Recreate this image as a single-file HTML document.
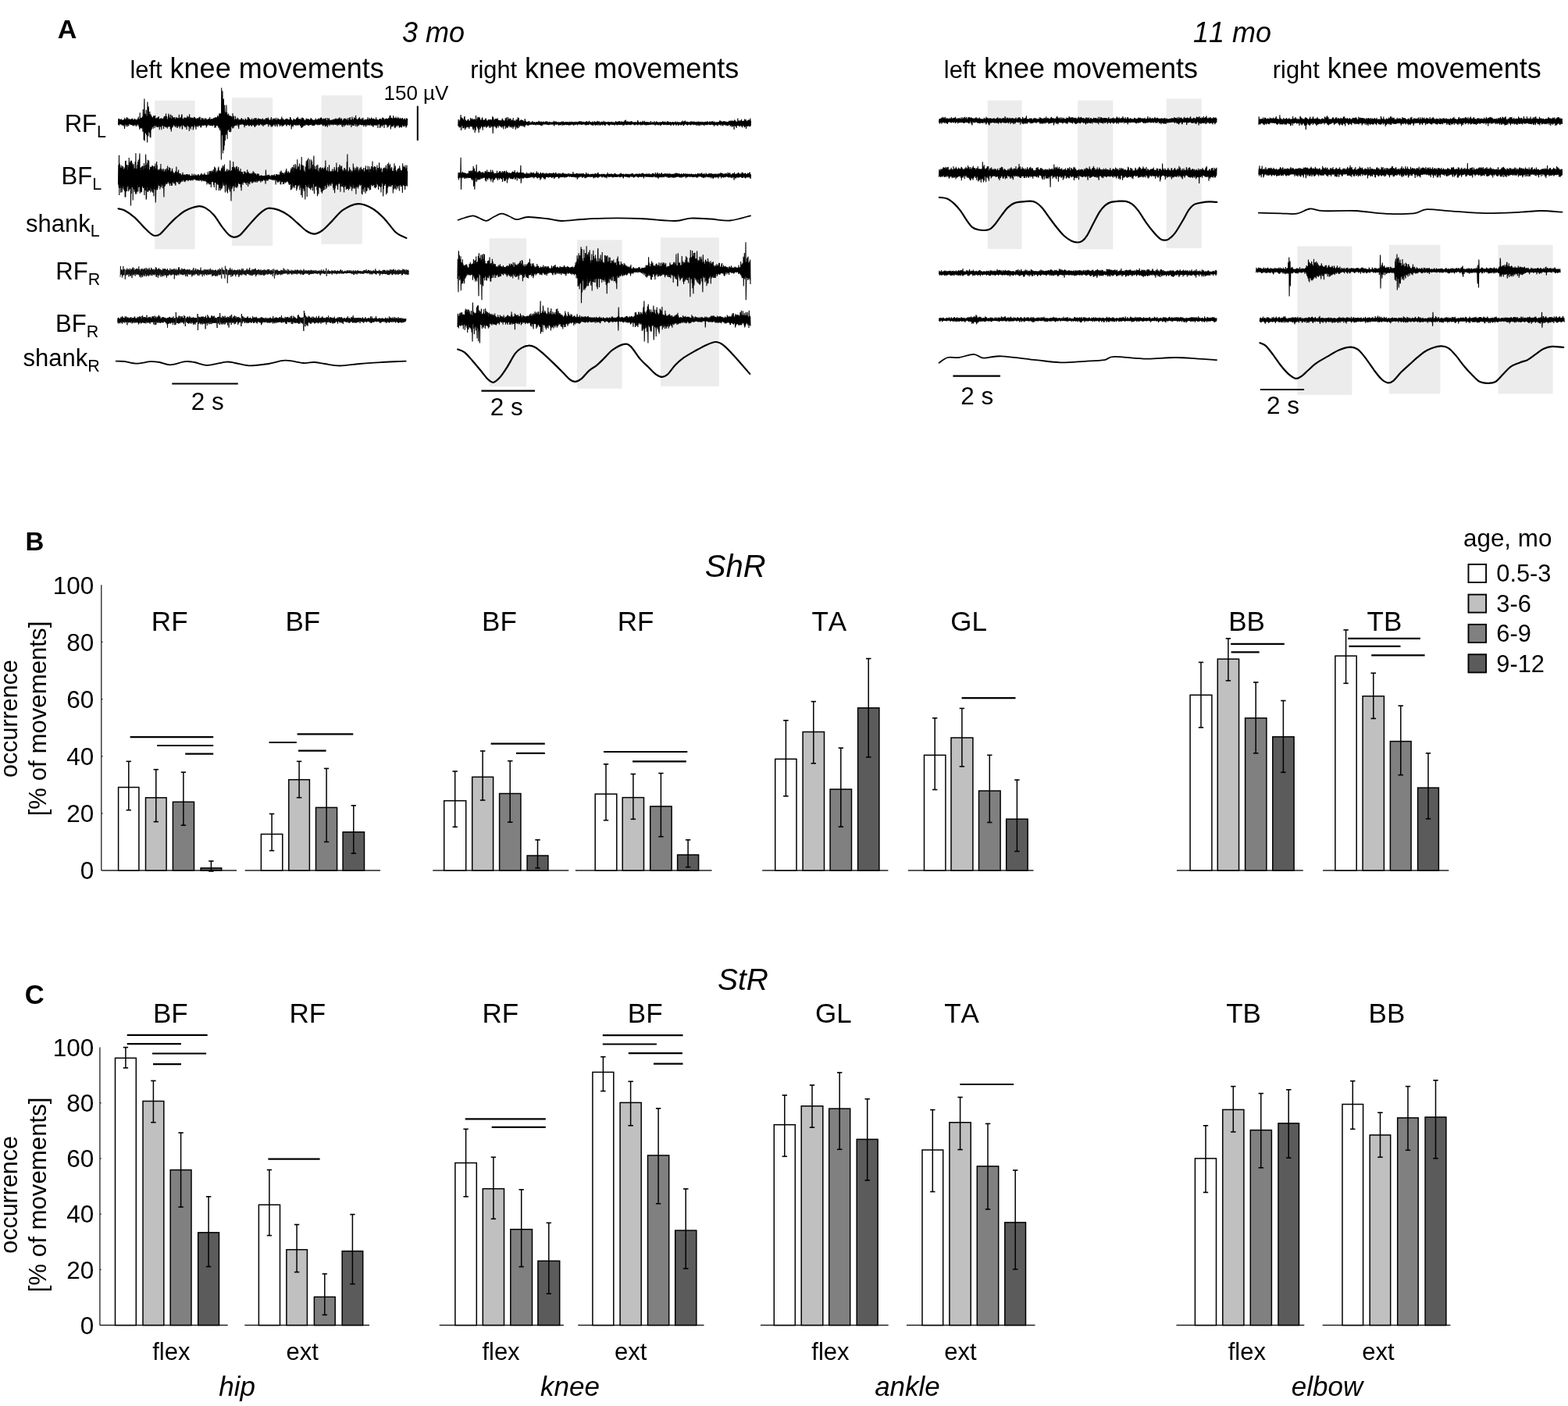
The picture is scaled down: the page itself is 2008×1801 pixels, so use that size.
<!DOCTYPE html>
<html><head><meta charset="utf-8"><style>
html,body{margin:0;padding:0;background:#fff;}
svg{display:block;font-kerning:none;}
text{font-kerning:none;}
</style></head><body>
<svg width="2008" height="1801" viewBox="0 0 2008 1801" font-family='"Liberation Sans", Arial, sans-serif' fill="#000">
<rect width="2008" height="1801" fill="#fff"/>
<g id="panelA">
<rect x="198.2" y="128.8" width="51.5" height="190.4" fill="#ececec"/>
<rect x="296.9" y="125.1" width="52.3" height="189.7" fill="#ececec"/>
<rect x="411.5" y="122.2" width="52.3" height="190.5" fill="#ececec"/>
<rect x="626.6" y="305.3" width="47.5" height="189.9" fill="#ececec"/>
<rect x="739.0" y="307.4" width="57.6" height="190.3" fill="#ececec"/>
<rect x="846.0" y="304.3" width="74.8" height="190.5" fill="#ececec"/>
<rect x="1264.7" y="128.6" width="43.9" height="190.3" fill="#ececec"/>
<rect x="1380.2" y="128.6" width="45.1" height="190.7" fill="#ececec"/>
<rect x="1493.7" y="126.5" width="45.0" height="191.3" fill="#ececec"/>
<rect x="1661.4" y="315.4" width="70.1" height="190.5" fill="#ececec"/>
<rect x="1778.8" y="313.7" width="65.6" height="190.7" fill="#ececec"/>
<rect x="1918.5" y="313.7" width="70.1" height="190.7" fill="#ececec"/>
</g>
<path d="M151.5 160.1l.3 -7.8 .4 6.6 .3 -7.1 .3 8.9 .4 -7.4 .3 5.7 .3 -5.9 .4 5.6 .3 -5.6 .3 6.3 .4 -7.1 .3 7.4 .3 -6.2 .4 7 .3 -7 .3 5.3 .4 -5 .3 6.9 .3 -7.1 .4 5.5 .3 -5.9 .3 8.6 .4 -9.3 .3 12.5 .3 -14.2 .4 9 .3 -7.1 .3 6.8 .4 -5.9 .3 8.7 .3 -10.5 .4 7.8 .3 -9.5 .3 10.1 .4 -7.1 .3 9.2 .4 -11.2 .3 7.8 .3 -5.4 .4 7.6 .3 -8.4 .3 6.3 .4 -6.9 .3 6.7 .3 -4.6 .4 5.2 .3 -6 .3 6.7 .4 -7.6 .3 6.8 .3 -7.2 .4 8.1 .3 -6.9 .3 7.3 .4 -9.1 .3 9.3 .3 -6.7 .4 7.3 .3 -8.2 .3 5.9 .4 -5.8 .3 7.4 .3 -8.8 .4 7.8 .3 -5.9 .3 6.2 .4 -7.2 .3 9.2 .3 -8.6 .4 7.8 .3 -7.3 .3 5.6 .4 -6.8 .3 6.1 .3 -7 .4 9 .3 -11.3 .3 9.4 .4 -6.3 .3 10.4 .3 -10.5 .4 13.6 .3 -21.8 .3 20.1 .4 -13.5 .3 12.9 .3 -11.9 .4 12.2 .3 -13.7 .3 14.4 .4 -13.8 .3 12.3 .3 -13.8 .4 19.3 .3 -28.7 .3 24.4 .4 -15.5 .3 30.3 .3 -33 .4 -19.8 .3 54 .3 -17.7 .4 -17.1 .3 25.2 .4 -24 .3 22.8 .3 -28.9 .4 32.2 .3 -24.6 .3 19.4 .4 14.7 .3 -52 .3 13.2 .4 19.8 .3 11 .3 -38 .4 12.1 .3 20.4 .3 -23 .4 24.4 .3 -27.3 .3 32.5 .4 -28.6 .3 29.4 .3 -29.8 .4 20.2 .3 -18.2 .3 16.8 .4 -15.8 .3 13.5 .3 -13 .4 12.8 .3 -12 .3 14 .4 -16.6 .3 13.3 .3 -13.1 .4 12.1 .3 -12.1 .3 15.4 .4 -16.2 .3 12.6 .3 -8.8 .4 10.3 .3 -10.1 .3 8.9 .4 -9.4 .3 11.8 .3 -12.6 .4 12.3 .3 -11.4 .3 11.8 .4 -13.2 .3 11 .3 -11.9 .4 13.6 .3 -10.1 .3 13.8 .4 -13.7 .3 9.3 .3 -10.5 .4 11.2 .3 -10.9 .3 11 .4 -11.5 .3 15 .3 -13.6 .4 8.7 .3 -9.2 .3 8.7 .4 -9.1 .3 9.6 .3 -9.4 .4 13.1 .3 -15.2 .4 12.3 .3 -13.1 .3 12.9 .4 -13.5 .3 13.9 .3 -10.9 .4 11.8 .3 -17.8 .3 17.6 .4 -14.1 .3 14.2 .3 -10.1 .4 11.8 .3 -12.4 .3 9.1 .4 -11.9 .3 12.9 .3 -16.9 .4 16.9 .3 -15.2 .3 14.6 .4 -9.7 .3 9.5 .3 -11.3 .4 15.1 .3 -18.8 .3 1.8 .4 20 .3 -6.7 .3 -9.7 .4 11.7 .3 -15.8 .3 15.1 .4 -11.8 .3 10.6 .3 -11.6 .4 9.7 .3 -8.6 .3 8.9 .4 -10.3 .3 11.7 .3 -10 .4 9.6 .3 -8 .3 10 .4 -13.3 .3 10.8 .3 -8.9 .4 9.6 .3 -11 .3 13.6 .4 -12.2 .3 11.4 .3 -12.2 .4 10.7 .3 -9.3 .3 8.8 .4 -14.5 .3 14.9 .3 -9.6 .4 12.3 .3 -13.1 .3 10.7 .4 -12.3 .3 12.3 .3 -9.8 .4 8.2 .3 -12.7 .4 -1.2 .3 19 .3 -.7 .4 -13.4 .3 9 .3 -8 .4 7.6 .3 -7.3 .3 8.6 .4 -11 .3 11.8 .3 -11.1 .4 12.2 .3 -12.5 .3 10.3 .4 -10 .3 11.8 .3 -11.1 .4 14.2 .3 -15.7 .3 10.3 .4 -12.1 .3 12.6 .3 -8.1 .4 9.4 .3 -12.9 .3 12.3 .4 -9.3 .3 15.6 .3 -21.8 .4 15.6 .3 -11.3 .3 13 .4 -10.7 .3 13 .3 -15.6 .4 12.3 .3 -11 .3 9.4 .4 -9.8 .3 10.8 .3 -9.5 .4 -1.9 .3 16 .3 -1.7 .4 -12.7 .3 11.1 .3 -13.4 .4 10.4 .3 -10.1 .3 10.7 .4 -8.4 .3 10.3 .3 -11.4 .4 14.5 .3 -13.6 .3 10 .4 -9.1 .3 8.4 .3 -10.4 .4 9 .3 -8.4 .3 11.1 .4 -9 .3 6.8 .3 -10 .4 10.7 .3 -11 .4 10.9 .3 -11.8 .3 11 .4 -7 .3 10.2 .3 -9.7 .4 9.2 .3 -12.3 .3 9.3 .4 -7.9 .3 8.9 .3 -9.2 .4 7.7 .3 -8.5 .3 10 .4 -6.7 .3 6 .3 -7.9 .4 7.9 .3 -6.6 .3 6.6 .4 -9.1 .3 9.5 .3 -6.7 .4 6.1 .3 -8.7 .3 11.9 .4 -10.1 .3 8.1 .3 -8.5 .4 8.2 .3 -7.7 .3 6.3 .4 -7.1 .3 7 .3 -7.5 .4 8.7 .3 -8.7 .3 7.5 .4 -9.6 .3 10.9 .3 -7.8 .4 7.6 .3 -7.9 .3 8.2 .4 -9 .3 8.9 .3 -7.8 .4 7.8 .3 -8.9 .3 9.6 .4 -7.9 .3 6 .3 -8.3 .4 8.7 .3 -9.1 .3 9.6 .4 -8.3 .3 11.7 .3 -13.7 .4 10.1 .3 -9.8 .3 12.7 .4 -13 .3 10.4 .3 -9.5 .4 9.8 .3 -11.1 .3 10.6 .4 -12.5 .3 13.8 .4 -12.5 .3 14.3 .3 -12.5 .4 11.2 .3 -16.9 .3 19.5 .4 -18.4 .3 20.7 .3 -22.4 .4 19.4 .3 -18.1 .3 18.9 .4 39.5 .3 -92 .3 33.8 .4 27 .3 -28.6 .3 -28.2 .4 80 .3 -26.9 .3 -38.5 .4 -4.6 .3 66 .3 -19.5 .4 13.5 .3 -52 .3 7.4 .4 38.1 .3 -36.4 .3 27.4 .4 -25.5 .3 27.3 .3 -38.2 .4 36.4 .3 -27.1 .3 34.2 .4 -31.3 .3 20.5 .3 -19.5 .4 18.6 .3 -20.9 .3 19.8 .4 -17.1 .3 20.8 .3 -20.8 .4 17.1 .3 -17.4 .3 21.5 .4 -20.6 .3 19.6 .3 -18.6 .4 12.6 .3 -13.4 .3 13.1 .4 -10.2 .3 12.6 .3 -19.5 .4 16.5 .3 -11.3 .3 14.1 .4 -15.8 .3 13.8 .3 -9 .4 7.9 .3 -8.3 .3 8 .4 -12.2 .3 12.2 .4 -7.8 .3 5.8 .3 -6.6 .4 8.8 .3 -7.5 .3 6.1 .4 -8.9 .3 8 .3 -7.3 .4 10.7 .3 -8 .3 10.7 .4 -12.3 .3 7.8 .3 -6.7 .4 5.5 .3 -5.9 .3 6.2 .4 -6.3 .3 6.7 .3 -7.8 .4 6.9 .3 -7.9 .3 8.4 .4 -6.5 .3 6.2 .3 -5.7 .4 6 .3 -7.3 .3 7.6 .4 -6.4 .3 6.8 .3 -6.1 .4 9.2 .3 -9.2 .3 6.8 .4 -9.1 .3 7.6 .3 -7.3 .4 8.9 .3 -7.3 .3 7.2 .4 -7.4 .3 5.5 .3 -5.8 .4 7 .3 -10.2 .3 9.4 .4 -5.2 .3 7.1 .3 -10.9 .4 11.1 .3 -9.5 .3 9.1 .4 -8.2 .3 7.1 .3 -7.1 .4 6.7 .3 -5.2 .3 6.2 .4 -7.5 .3 9 .3 -10.5 .4 8.6 .3 -6.5 .3 6.1 .4 -6.1 .3 6.6 .3 -8.1 .4 8.3 .3 -7 .4 8.5 .3 -10.9 .3 11.9 .4 -10.3 .3 5.5 .3 -6.7 .4 10 .3 -10.6 .3 9.7 .4 -6.8 .3 6.1 .3 -6.7 .4 5.8 .3 -6.7 .3 7.3 .4 -8.2 .3 9.5 .3 -8.1 .4 5.9 .3 -6.6 .3 8.5 .4 -8 .3 6.3 .3 -6.6 .4 7 .3 -6.6 .3 5.8 .4 -5.8 .3 7.8 .3 -6.9 .4 6.9 .3 -9.1 .3 8.7 .4 -7.8 .3 9.7 .3 -8.1 .4 4.3 .3 -4.9 .3 6.9 .4 -7 .3 7.1 .3 -7.9 .4 7.3 .3 -5.4 .3 4.9 .4 -8.2 .3 7.4 .3 -6.9 .4 7.8 .3 -7.8 .3 7.8 .4 -6.4 .3 5.7 .3 -8.1 .4 11.7 .3 -9.6 .3 6.2 .4 -4.9 .3 5.7 .3 -6.1 .4 6.8 .3 -6.6 .3 6.5 .4 -7.8 .3 10.1 .3 -12.4 .4 10.4 .3 -6.8 .4 8.8 .3 -8.9 .3 5.5 .4 -7.3 .3 9.1 .3 -7.4 .4 6.2 .3 -7.6 .3 7.4 .4 -7.9 .3 8.9 .3 -7.7 .4 9.4 .3 -8.6 .3 5.5 .4 -8.4 .3 8.6 .3 -5.5 .4 7.2 .3 -7.6 .3 9.1 .4 -10.9 .3 6.7 .3 -6.4 .4 7 .3 -6.3 .3 6.9 .4 -6.9 .3 7.1 .3 -6.2 .4 8.5 .3 -8.9 .3 6.4 .4 -7.1 .3 8 .3 -6.8 .4 5.9 .3 -10 .3 12.6 .4 -7.9 .3 5.7 .3 -8.5 .4 10.1 .3 -8 .3 7.1 .4 -7.7 .3 7.3 .3 -6.6 .4 5.9 .3 -5.7 .3 5.9 .4 -6.7 .3 5.5 .3 -6.4 .4 8.3 .3 -8.5 .3 9.8 .4 -9.9 .3 8.1 .3 -7.7 .4 7.1 .3 -6 .3 6.6 .4 -6.9 .3 6.5 .3 -6.1 .4 7.7 .3 -8 .3 7.5 .4 -10.7 .3 9.5 .4 -8.8 .3 8.5 .3 -6.3 .4 12.7 .3 -12.2 .3 8.3 .4 -7.3 .3 6.2 .3 -5.9 .4 8 .3 -9.4 .3 6.6 .4 -8.1 .3 8.6 .3 -6.7 .4 5.9 .3 -6.5 .3 7.3 .4 -7.4 .3 7.2 .3 -6.5 .4 7.6 .3 -9.8 .3 8 .4 -8.6 .3 8.9 .3 -6 .4 7 .3 -10.9 .3 11 .4 -8.2 .3 7.3 .3 -7.7 .4 7.3 .3 -6.3 .3 6.7 .4 -8 .3 9.7 .3 -8.5 .4 6.5 .3 -6.7 .3 10.9 .4 -12.7 .3 8.4 .3 4 .4 -13 .3 2.4 .3 9.6 .4 -11.6 .3 9.9 .3 -8.9 .4 9.5 .3 -7.8 .3 6.9 .4 -6 .3 6.3 .3 -7.3 .4 5.4 .3 -5.2 .3 6.9 .4 -9 .3 7.8 .3 -6.5 .4 7 .3 -7.3 .3 7.1 .4 -7.3 .3 8.7 .4 -9 .3 8.9 .3 -7.1 .4 4.9 .3 -5.5 .3 6.9 .4 -6.7 .3 6.5 .3 -7.7 .4 7.6 .3 -8.9 .3 8.2 .4 -6.5 .3 7 .3 -7.3 .4 8.7 .3 -7.8 .3 7.4 .4 -6.9 .3 6.8 .3 -6.7 .4 7.4 .3 -7.9 .3 7.6 .4 -7.4 .3 6.3 .3 -6.1 .4 4.8 .3 -7.1 .3 7.8 .4 -6 .3 6.4 .3 -6.3 .4 5.3 .3 -5.9 .3 7.5 .4 -7.2 .3 5.1 .3 -6.2 .4 8.3 .3 -8.8 .3 8.8 .4 -7.8 .3 7.5 .3 -7.2 .4 6.6 .3 -8.3 .3 8.4 .4 -8.7 .3 8.6 .3 -8.8 .4 8.5 .3 -7.7 .3 8.1 .4 -6.1 .3 7.3 .3 -8.2 .4 9.1 .3 -9.1 .3 6.8 .4 -7.8 .3 9.1 .3 -7.4 .4 5.9 .3 -7.1 .3 10.2 .4 -9.3 .3 8.7 .3 -10.6 .4 10.1 .3 -6.9 .4 6.1 .3 -6.3 .3 8.9 .4 -12 .3 9.6 .3 -6.8 .4 5.3 .3 -6.8 .3 7.5 .4 -8.3 .3 9.8 .3 -7.5 .4 5.6 .3 -5 .3 4.4 .4 -4.8 .3 6.3 .3 -6.6 .4 6 .3 -5.6 .3 4.7 .4 -4.8 .3 5.5 .3 -6.5 .4 7.5 .3 -7.1 .3 6.5 .4 -7.1 .3 6.6 .3 -5.6 .4 5.6 .3 -7.1 .3 7.7 .4 -7.8 .3 7.8 .3 -8.4 .4 8 .3 -7.1 .3 7.1 .4 -5.6 .3 7.3 .3 -9.3 .4 6.9 .3 -6.1 .3 7.6 .4 -8.9 .3 8.9 .3 -8.5 .4 6.7 .3 -8.3 .3 9.3 .4 -5.7 .3 6.3 .3 -8.4 .4 7.7 .3 -5.6 .3 5.3 .4 -7.6 .3 10.2 .3 -7.5 .4 8.6 .3 -8.5 .3 5.5 .4 -6.6 .3 6.8 .3 -7.6 .4 9.8 .3 -10.7 .4 7.3 .3 -6.9 .3 8.5 .4 -8.6 .3 9 .3 -8.2 .4 6.8 .3 -4.6 .3 4.6 .4 -6.4 .3 6.8 .3 -8.6 .4 9.8 .3 -6.5 .3 4.7 .4 -5.3 .3 4.9 .3 -7.9 .4 9.7 .3 -8.2 .3 8 .4 -10.5 .3 9.4 .3 -5.7 .4 6.1 .3 -6.3 .3 9.6 .4 -9.4 .3 5.2 .3 -9.3 .4 10.9 .3 -8.3 .3 8.8 .4 -8.2 .3 8 .3 -7.8 .4 8 .3 -10.6 .3 8.5 .4 -7.5 .3 7.4 .3 -6.1 .4 9.1 .3 -13.9 .3 11.6 .4 -7.7 .3 7.8 .3 -6.5 .4 9.4 .3 -8.3 .3 7 .4 -9 .3 7 .3 -5.7 .4 7.8 .3 -9.6 .3 8.3 .4 -9.9 .3 9.5 .3 -7.8 .4 7.4 .3 -6.5 .3 7.3 .4 -6.1 .3 6.3 .3 -7.7 .4 8 .3 -8.9 .4 8.3 .3 -6.3 .3 6.8 .4 -9.6 .3 9.5 .3 -6.4 .4 8.4 .3 -7.7 .3 5.6 .4 -6.9 .3 6.6 .3 -7.1 .4 8.1 .3 -6.8 .3 8.5 .4 -9.6 .3 6.9 .3 -6.7 .4 7.3 .3 -8.2 .3 6.6 .4 -8.5 .3 10.5 .3 -7.8 .4 6.9 .3 -6.9 .3 7 .4 -9.1 .3 10 .3 -8.8 .4 7.4 .3 -6.7 .3 6.3 .4 -6.7 .3 8.7 .3 -10.5 .4 10.2 .3 -9.2 .3 8.7 .4 -8.1 .3 9.8 .3 -7.8 .4 8.5 .3 -11 .3 8.2 .4 -8.1 .3 8.8 .3 -6.9 .4 6.8 .3 -7.8 .3 6.4 .4 -6.3 .3 8 .3 -10.6 .4 10.8 .3 -8.2 .3 7 .4 -6.7 .3 6.1 .3 -5.9 .4 10.7 .3 -10.4 .3 5.9 .4 -5.4 .3 5.3 .3 -7 .4 6.2 .3 -6 .3 11.5 .4 -12.2 .3 10.6 .4 -10.7 .3 8.1 .3 -6.9 .4 7.6 .3 -7.6 .3 9.4 .4 -11.9 .3 10.6 .3 -10.2 .4 8.1 .3 -4.7 .3 5.7 .4 -8.6 .3 12.6 .3 -9.8 .4 4.6 .3 -6 .3 6.9 .4 -7.3 .3 6.7 .3 -7.1 .4 8 .3 -8.4 .3 8.6 .4 -8.3 .3 11.5 .3 -10.3 .4 7.1 .3 -8.3 .3 10.7 .4 -11.6 .3 9.9 .3 -8.8 .4 8.1 .3 -11.8 .3 11.2 .4 -11.9 .3 1.8 .3 16 .4 -5.3 .3 -9.4 .3 10.7 .4 -10.5 .3 11.4 .3 -10.9 .4 10.6 .3 -9 .3 8.9 .4 -14 .3 12.4 .3 -10.2 .4 10 .3 -8.3 .3 11.6 .4 -12.6 .3 13.3 .3 -11.9 .4 10.4 .3 -13.1 .3 11.7 .4 -10.3 .3 9.2 .3 -8.5 .4 10.6 .3 -10.6 .3 8.4 .4 -10.3 .3 10.8 .4 -9.4 .3 10.2 .3 -9.6 .4 12 .3 -10.8 .3 7.7 .4 -10 .3 12.1 .3 -9.7 .4 9.4 .3 -10.6 .3 11.7 .4 -12.1 .3 11.3 .3 -11.2 .4 8.5 .3 -9 .3 9.5 .4 -7.7 .3 9.3 .3 -9.3 .4 6.5 .3 -7.1 .3 9.7 .4 -10.4 .3 8.3 .3 -5.4 .4 6.5 .3 -8.1 .3 10.6 .4 -12.3 .3 11.3 .3 -10.8 .4 8.8 .3 -8.6" fill="none" stroke="#000" stroke-width="1.1" stroke-linejoin="miter" stroke-miterlimit="2"/>
<path d="M151.5 236.4l.3 -25.1 .4 28.9 .3 -41.5 .3 51.4 .4 -40.6 .3 31.6 .3 -29.3 .4 26.9 .3 -24.1 .3 32.2 .4 -31.3 .3 24.7 .3 -28.5 .4 34.6 .3 -31.5 .3 26.5 .4 -28.5 .3 25.2 .3 -24 .4 29.3 .3 -26.5 .3 22.7 .4 -23.2 .3 28.4 .3 -30.2 .4 38.3 .3 -46.5 .3 46 .4 -46.6 .3 39.7 .3 -28.8 .4 28.2 .3 -33.9 .3 28.9 .4 -21.8 .3 20.3 .4 -26.8 .3 33.8 .3 -30.8 .4 23.2 .3 -35.6 .3 41.7 .4 -36.1 .3 34.2 .3 -30.7 .4 28.4 .3 -33.9 .3 57.7 .4 -55.9 .3 40.5 .3 -42.2 .4 33.2 .3 -30.4 .3 31.5 .4 -29.4 .3 45.8 .3 -43 .4 24.2 .3 -27.8 .3 32.7 .4 -25.9 .3 29.1 .3 -30.3 .4 29 .3 -37.6 .3 41.5 .4 -52.1 .3 49.3 .3 -29.3 .4 32.1 .3 -32.4 .3 29.7 .4 -34.4 .3 25.5 .3 -29.6 .4 38.2 .3 -41 .3 35.7 .4 -26.5 .3 25.9 .3 -34 .4 -8.9 .3 51 .3 -3.8 .4 -29.1 .3 29.8 .3 -26.3 .4 28.2 .3 -32.5 .3 32.2 .4 -33.3 .3 26.5 .3 -26.8 .4 25.7 .3 -20.7 .3 23.5 .4 -28.5 .3 28.1 .3 -31.7 .4 41.2 .3 -33.9 .3 24.3 .4 -28.6 .3 32 .4 -46.2 .3 13.9 .3 44 .4 -2.8 .3 -41.9 .3 34.7 .4 -36.9 .3 30.6 .3 -34.5 .4 41.3 .3 -28.7 .3 26.4 .4 -38.4 .3 38.8 .3 -23.6 .4 23.3 .3 -26.9 .3 22.4 .4 -26 .3 33.1 .3 -32.4 .4 27.2 .3 -27.2 .3 31.1 .4 -32.8 .3 29.8 .3 -30.1 .4 34.6 .3 -33.9 .3 29.3 .4 -24.6 .3 33.8 .3 -38 .4 24.3 .3 -24.7 .3 29.9 .4 -26.3 .3 -6.9 .3 50 .4 -11.9 .3 -32 .3 27.7 .4 -36.5 .3 34.2 .3 -29.6 .4 31.7 .3 -26 .3 23.2 .4 -21.5 .3 16.3 .3 -18 .4 20.9 .3 -21.1 .3 21.1 .4 -19 .3 23.3 .3 -26.9 .4 22.4 .3 -27.8 .3 30 .4 -19.5 .3 15.4 .3 -19.5 .4 21.5 .3 -19.1 .3 22.3 .4 -23.6 .3 18.4 .3 -19.9 .4 21.5 .3 15 .4 -33 .3 1.6 .3 17.8 .4 -22.2 .3 20.9 .3 -20.4 .4 18.5 .3 -15 .3 13.2 .4 -18.4 .3 20.3 .3 -15.6 .4 14.4 .3 -22.3 .3 21.2 .4 -14.3 .3 13.6 .3 -15.5 .4 18 .3 -21.2 .3 19.8 .4 -15.5 .3 19.5 .3 -22.9 .4 18.9 .3 -13.5 .3 14.8 .4 -15.5 .3 18.3 .3 -19.6 .4 19.3 .3 -22.1 .3 17.9 .4 -14.4 .3 14.2 .3 -9.9 .4 11.8 .3 -14 .3 10.9 .4 -9.3 .3 11.9 .3 -13.6 .4 15.3 .3 -17.1 .3 18.4 .4 -15.6 .3 9.4 .3 -18 .4 19.6 .3 -10.3 .3 9.9 .4 -12.8 .3 13.8 .3 -11 .4 9.2 .3 -14.6 .3 18.5 .4 -13.9 .3 9.8 .3 -9.9 .4 13.9 .3 -11.6 .3 7.7 .4 -10 .3 11.8 .3 -9.7 .4 7.1 .3 -6.3 .4 7.7 .3 -9.2 .3 9.5 .4 -12 .3 10 .3 -6.9 .4 6.9 .3 -7.2 .3 8.8 .4 -7.8 .3 6.9 .3 -8.1 .4 9.8 .3 -9.3 .3 7.7 .4 -7.6 .3 7.3 .3 -8.3 .4 6.8 .3 -6.5 .3 7.5 .4 -6.9 .3 7 .3 -7.9 .4 9.2 .3 -8.1 .3 6.5 .4 -5.1 .3 4.3 .3 -6.6 .4 7.7 .3 -5.3 .3 4.8 .4 -5.4 .3 6.5 .3 -6.3 .4 5.6 .3 -5.6 .3 5.3 .4 -7.9 .3 7.7 .3 -4.8 .4 5.9 .3 -6.8 .3 5.7 .4 -4.9 .3 4 .3 -6.7 .4 6.9 .3 -4.7 .3 4.5 .4 -3.8 .3 5.1 .3 -7.3 .4 6.5 .3 -4.6 .3 6 .4 -6.7 .3 5.6 .3 -5.5 .4 6.8 .3 -8.1 .3 6.5 .4 -3.8 .3 4.9 .3 -7.8 .4 8.9 .3 -6.8 .4 4.7 .3 -5 .3 5.5 .4 -6.5 .3 7.3 .3 -8.6 .4 7.3 .3 -8.2 .3 10.7 .4 -7.6 .3 5.4 .3 -6.4 .4 7 .3 -7.7 .3 8.9 .4 -8.2 .3 6.5 .3 -6.9 .4 8.7 .3 -10.6 .3 10.3 .4 -8.4 .3 6.4 .3 -6.2 .4 9 .3 -8.7 .3 8.2 .4 -8.3 .3 12.6 .3 -11.6 .4 7.7 .3 -12.3 .3 14.4 .4 -11 .3 10.2 .3 -10.7 .4 13.1 .3 -17 .3 14.1 .4 -10.9 .3 13.7 .3 -17.3 .4 16.1 .3 -15.6 .3 20.5 .4 -17.1 .3 10.5 .3 -14.9 .4 14.7 .3 -13.7 .3 13.9 .4 -13.4 .3 13.3 .3 -16.2 .4 20.1 .3 -17.2 .3 20 .4 -26.3 .3 19.2 .3 -9.9 .4 11 .3 -19.1 .3 19.5 .4 -11.1 .3 20.5 .3 -23.4 .4 15.7 .3 -17.7 .3 15.3 .4 -13.7 .3 16.8 .4 -21.4 .3 21.3 .3 -23.1 .4 30.7 .3 -25.4 .3 14.9 .4 -15.4 .3 22.9 .3 -22.6 .4 25.4 .3 -23.7 .3 17.9 .4 -22 .3 26.1 .3 -27.7 .4 26.4 .3 -25.3 .3 22.7 .4 -26.5 .3 21.7 .3 -20.3 .4 23.2 .3 -14.7 .3 16.4 .4 -27.6 .3 23.6 .3 -14.8 .4 27.1 .3 -26.7 .3 17 .4 -18.2 .3 14.3 .3 -12 .4 24.3 .3 -28.9 .3 1.3 .4 30 .3 -12 .3 -16.1 .4 20.2 .3 -22.5 .3 25.6 .4 -24.7 .3 18.4 .3 -16.6 .4 25.7 .3 -40.1 .3 33.6 .4 -20 .3 18 .3 20.5 .4 -38 .3 -1.6 .3 24.3 .4 -28.3 .3 26.3 .3 -25.8 .4 24.1 .3 -31.7 .3 30.2 .4 -22.5 .3 30.5 .3 -31.4 .4 24.5 .3 -22.7 .3 24.2 .4 -21.7 .3 16.6 .4 -20.8 .3 26.8 .3 -26.5 .4 25.3 .3 -26.6 .3 27.8 .4 -24.1 .3 22.1 .3 -17.5 .4 14 .3 -21.1 .3 19.3 .4 -13 .3 15.4 .3 -17 .4 17.4 .3 -16.6 .3 15.7 .4 -19.1 .3 23.8 .3 -17.3 .4 21.6 .3 -24.1 .3 15.7 .4 -15.7 .3 14 .3 -13.4 .4 16 .3 -13.3 .3 9.9 .4 -10.2 .3 10.4 .3 -14.2 .4 14.6 .3 -11.1 .3 11.1 .4 -14.1 .3 15.2 .3 -14.1 .4 13 .3 -11.8 .3 15 .4 -15.5 .3 12.5 .3 -16.9 .4 14.8 .3 -10.1 .3 17.1 .4 -19.1 .3 12.2 .3 -10.4 .4 13.3 .3 -12.7 .3 14 .4 -13.6 .3 10.5 .3 -11.5 .4 10.9 .3 -10.2 .3 9.8 .4 -8.8 .3 11.2 .3 -13 .4 10.8 .3 -10 .3 12.2 .4 -15.4 .3 14 .3 -9.2 .4 8.5 .3 -12.1 .4 10.9 .3 -7.8 .3 10.1 .4 -11.5 .3 11.4 .3 -11.2 .4 9.9 .3 -8.4 .3 6.7 .4 -5.4 .3 9 .3 -11.8 .4 8.7 .3 -8.5 .3 9.9 .4 -7.9 .3 7 .3 -8.7 .4 8.9 .3 -6.3 .3 6 .4 -5.9 .3 5.8 .3 -6.5 .4 8.9 .3 -8.5 .3 6.8 .4 -7.6 .3 4.6 .3 -3.9 .4 7.4 .3 -7.5 .3 6.6 .4 -6.3 .3 4.6 .3 -4.5 .4 5.2 .3 -5.2 .3 4.9 .4 -5.4 .3 6.8 .3 -6.6 .4 4.1 .3 6.4 .3 -18 .4 7.9 .3 4.5 .3 -5.2 .4 7 .3 -6.4 .3 4.4 .4 -5.7 .3 7.3 .3 -5.7 .4 3.7 .3 -5.5 .3 5.8 .4 -5.3 .3 4.9 .3 -3.9 .4 4.1 .3 -3.5 .3 3.8 .4 -4.2 .3 4.4 .3 -5.6 .4 5.9 .3 -6.1 .4 5.9 .3 -4.9 .3 5.8 .4 -6.7 .3 5.3 .3 -5.4 .4 5.9 .3 -5.1 .3 6.2 .4 -7.9 .3 6.9 .3 -4.9 .4 4.6 .3 -4.5 .3 11.1 .4 -13.3 .3 6.8 .3 -4.8 .4 6.1 .3 -8.2 .3 9.7 .4 -8.5 .3 9.7 .3 -10.3 .4 7.6 .3 -7.6 .3 9.4 .4 -8.3 .3 6.6 .3 -8.1 .4 8.3 .3 -11.9 .3 16 .4 -11.5 .3 12.2 .3 -18 .4 14.5 .3 -11.8 .3 12 .4 -9.5 .3 9.3 .3 -11.8 .4 15 .3 -14.3 .3 14.1 .4 -13.5 .3 13 .3 -11.7 .4 9.4 .3 -12.7 .3 13.1 .4 -11.8 .3 12.8 .3 -16.2 .4 15.1 .3 -17.4 .3 16.7 .4 -13.7 .3 13.6 .3 -10.7 .4 10.5 .3 -11.5 .3 12.9 .4 -14.5 .3 16.3 .3 -13.1 .4 14.6 .3 -16.1 .3 14.8 .4 -14.7 .3 14.9 .4 -18.1 .3 25.5 .3 -27.9 .4 23.5 .3 -21.8 .3 25.4 .4 -28.9 .3 19.9 .3 -19.2 .4 26.2 .3 -19.8 .3 17.1 .4 -27 .3 28 .3 -24.1 .4 26.2 .3 -24.2 .3 20.1 .4 -26.8 .3 27.1 .3 -25.5 .4 25.2 .3 -20.5 .3 27.9 .4 -27.6 .3 25.4 .3 -37.9 .4 34.7 .3 -23.5 .3 23.1 .4 -24.8 .3 23.6 .3 -24.6 .4 23.7 .3 -26.8 .3 33.9 .4 -25.9 .3 19.4 .3 -18.2 .4 21.9 .3 -29.9 .3 39.3 .4 -49 .3 34.8 .3 -22 .4 39.2 .3 -41.6 .3 28.7 .4 -21.8 .3 23.4 .3 -29.8 .4 32.7 .3 -26.7 .3 23.7 .4 -21.8 .3 18 .3 17.7 .4 -42 .3 .9 .3 22.3 .4 -30.6 .3 32.7 .3 -29.4 .4 42.5 .3 -47.5 .3 32.3 .4 -23.9 .3 26.8 .4 -37.3 .3 33.9 .3 -18.8 .4 23.5 .3 -24.6 .3 24.5 .4 -36.7 .3 37.5 .3 -24 .4 25.8 .3 -27.9 .3 26 .4 -37.1 .3 35.7 .3 -33.4 .4 29.7 .3 -17.5 .3 25.3 .4 -33.4 .3 24.7 .3 -21.4 .4 -14.6 .3 43 .3 5.7 .4 -31.8 .3 22.9 .3 -26.7 .4 26.2 .3 -22.2 .3 22.4 .4 -21.8 .3 20.1 .3 -25.6 .4 31.7 .3 -25.5 .3 33.3 .4 -40.6 .3 27.2 .3 -19.2 .4 30.1 .3 -28 .3 15.9 .4 -21.5 .3 25.3 .3 -23.4 .4 23.3 .3 -26.2 .3 27.2 .4 -26.9 .3 31.3 .3 -27.8 .4 24 .3 -25.8 .3 31.5 .4 -32.8 .3 30.1 .3 -30.5 .4 25.8 .3 -24 .3 27.1 .4 -26.5 .3 21 .3 -22.9 .4 28 .3 -29.8 .3 25 .4 -32.8 .3 31.3 .3 -20.4 .4 25.7 .3 -22.7 .4 20.8 .3 -22.2 .3 18.9 .4 -22.8 .3 20.6 .3 -13.5 .4 16.6 .3 -18.5 .3 20 .4 -28 .3 25 .3 -17.8 .4 15.3 .3 -14.3 .3 18.1 .4 -16.6 .3 17.4 .3 -19.4 .4 15.4 .3 -14.3 .3 15.6 .4 -19.2 .3 16.3 .3 -12.2 .4 20.1 .3 -21.4 .3 24.2 .4 -26.6 .3 22.4 .3 -25.2 .4 33.3 .3 -28.3 .3 22.3 .4 -22.5 .3 19.5 .3 -21.5 .4 19.6 .3 -27.9 .3 27.8 .4 -21.7 .3 24 .3 -18.4 .4 22.9 .3 -22.5 .3 15.6 .4 -22.3 .3 21 .3 -14.8 .4 14.3 .3 -23.7 .3 25.2 .4 -18.4 .3 28.3 .3 -33.2 .4 26.3 .3 -22.4 .3 18.7 .4 -22.8 .3 26.7 .3 -19.6 .4 19.6 .3 -22.2 .3 20.2 .4 -17.9 .3 21.2 .3 -21.6 .4 27.7 .3 -31.5 .4 23.5 .3 -22.9 .3 23.7 .4 -19.1 .3 17.2 .3 -20.2 .4 25.8 .3 -22.9 .3 16.7 .4 -29.6 .3 34.8 .3 -44.6 .4 44 .3 -21.7 .3 1.9 .4 22 .3 -2.9 .3 -22.3 .4 15.4 .3 -19.5 .3 27.7 .4 -23.4 .3 19.1 .3 -21 .4 22.9 .3 -18.1 .3 12.9 .4 -15.6 .3 25.6 .3 -25.6 .4 17 .3 -14.6 .3 20.3 .4 -31.9 .3 27 .3 -19.3 .4 23 .3 -25.7 .3 27.4 .4 -22 .3 20.4 .3 -22.8 .4 20.4 .3 -22.7 .3 33.5 .4 -30.7 .3 22.4 .3 -27.2 .4 26.3 .3 -18.9 .3 16.2 .4 -22.7 .3 27.3 .3 -23.9 .4 21.3 .3 -18.4 .3 16.1 .4 -19.4 .3 19.3 .3 -21.5 .4 23.1 .3 -19 .3 17.8 .4 -23.2 .3 21.4 .3 -18.4 .4 31.5 .3 -31.6 .4 32.7 .3 -32.1 .3 17.5 .4 -16.9 .3 24.8 .3 -27.5 .4 30.7 .3 -25 .3 13 .4 -14.8 .3 20.9 .3 -24.8 .4 32.7 .3 -35.5 .3 23.8 .4 -15.6 .3 24.8 .3 -28.2 .4 27.1 .3 -26.8 .3 22.4 .4 -27.3 .3 27.2 .3 -22.6 .4 24.4 .3 -20.8 .3 18.5 .4 -26 .3 30.5 .3 -26.5 .4 21.4 .3 -22.4 .3 26.7 .4 -21.3 .3 15.5 .3 -24.2 .4 23.1 .3 -18.4 .3 20.9 .4 -32.1 .3 31.6 .3 -23.7 .4 21.6 .3 -17.3 .3 18.4 .4 -23.1 .3 26.3 .3 -27.5 .4 24.7 .3 -23.9 .3 27.7 .4 -27.2 .3 26.1 .3 -22.7 .4 22.3 .3 -18.9 .3 12.4 .4 -21.8 .3 24.6 .3 -20.5 .4 21.9 .3 -22.4 .3 28.1 .4 -25.6 .3 20.9 .3 -30.1 .4 29.6 .3 -23.7 .3 23.9 .4 1.5 .3 -22 .4 -1.2 .3 30.1 .3 -31.8 .4 24.4 .3 -18.4 .3 14.6 .4 -15 .3 13.4 .3 -17.3 .4 35 .3 -36 .3 26.7 .4 -27.3 .3 21.7 .3 -19.3 .4 20.9 .3 -23.5 .3 20.1 .4 -18.1 .3 19.5 .3 -24.3 .4 37.5 .3 -33.3 .3 24.2 .4 -20.8 .3 27.9 .3 -37.3 .4 30.4 .3 -22 .3 18.3 .4 -28.5 .3 30.6 .3 -27.3 .4 27.5 .3 -20.6 .3 17 .4 -25.2 .3 28.3 .3 -22.1 .4 23 .3 -23.8 .3 22.2 .4 -23.8 .3 22.7 .3 -18.2 .4 18.4 .3 -18 .3 28.6 .4 -27.9 .3 18.8 .3 -22.8 .4 26.9 .3 -33.2 .3 26.3 .4 -14 .3 20 .3 -29 .4 23 .3 -17.7 .3 25.2 .4 -23.6 .3 17.5 .3 -17.3 .4 19.3 .3 -21.9 .3 24.3 .4 -25.5 .3 22.4 .4 -22.8 .3 22.8 .3 -18.8 .4 24.9 .3 -31.8 .3 24.5 .4 -21.3 .3 21.4 .3 -16.1 .4 18.1 .3 -21.1 .3 18.8 .4 -18 .3 19.8 .3 -21.1 .4 29.3 .3 -37.7 .3 28.3 .4 -22.6 .3 21.9 .3 -24 .4 25.1 .3 -23.9 .3 1.6 .4 22 .3 5.3 .3 -31.3 .4 26.9 .3 -21.6 .3 21.1 .4 -23.3 .3 21.1 .3 -24.2 .4 27.1 .3 -19.4" fill="none" stroke="#000" stroke-width="1.1" stroke-linejoin="miter" stroke-miterlimit="2"/>
<path d="M154.0 354.9l.4 -14 .4 11.1 .5 -6.8 .4 6.3 .4 -5.7 .4 9.7 .4 -9.7 .4 7.4 .5 -12.2 .4 11.1 .4 -6.9 .4 7.2 .4 -7.6 .4 -.1 .5 13 .4 -5.7 .4 -6.4 .4 7.2 .4 -7.1 .4 5.8 .5 -7.9 .4 8.5 .4 -6.4 .4 5.5 .4 -6.4 .5 9.7 .4 -8.6 .4 5.2 .4 -7.3 .4 9.6 .4 -7.1 .5 7.1 .4 -8.9 .4 6.9 .4 -6.2 .4 11 .4 -12.5 .5 9.2 .4 -10.5 .4 8.9 .4 -5.6 .4 6.6 .4 -8.7 .5 7.1 .4 -4.4 .4 7.3 .4 -8.6 .4 6.3 .5 -7.3 .4 7.7 .4 -7.7 .4 7.6 .4 -7 .4 6.7 .5 -6.7 .4 7 .4 -10.2 .4 11.3 .4 -7.8 .4 9.9 .5 -8 .4 6.4 .4 -8.4 .4 10.7 .4 -10.8 .4 7.9 .5 -8.7 .4 11.1 .4 -10.2 .4 7.3 .4 -6.6 .5 8.3 .4 -9.9 .4 8 .4 -7.9 .4 9.6 .4 -7.6 .5 5.2 .4 -8.3 .4 11.4 .4 -8.7 .4 7.4 .4 -9.1 .5 8 .4 -6.3 .4 7.7 .4 -8.6 .4 9 .4 -10.8 .5 9.3 .4 -6.7 .4 5.8 .4 -5.6 .4 7.2 .5 -10 .4 8.5 .4 -7.3 .4 9.2 .4 -8 .4 6.2 .5 -5.8 .4 6 .4 -7.2 .4 7.9 .4 -6.1 .4 4.7 .5 -6.1 .4 7.3 .4 -10.2 .4 12.4 .4 -11.4 .4 11.7 .5 -9.5 .4 6.7 .4 -6.9 .4 10.9 .4 -11.8 .5 8.8 .4 -9.4 .4 9.1 .4 -7.4 .4 5.3 .4 -5.4 .5 9.3 .4 -8.9 .4 6.5 .4 -5.7 .4 8.1 .4 -8.5 .5 7.4 .4 -9.4 .4 7.8 .4 -6.7 .4 8.8 .4 -9.5 .5 7.9 .4 -8.2 .4 8.1 .4 -7.3 .4 8.2 .5 -7.8 .4 10.4 .4 -9.8 .4 6.7 .4 -8.5 .4 9.3 .5 -7.5 .4 6.9 .4 -6.4 .4 5.3 .4 -5.1 .4 4.6 .5 -7.3 .4 8.8 .4 -6.3 .4 5.8 .4 -7 .4 7.4 .5 -7.2 .4 6.7 .4 -6.6 .4 5.5 .4 -5.7 .5 6.4 .4 -7.7 .4 13.5 .4 -12.5 .4 7.2 .4 -5.9 .5 6.5 .4 -8.5 .4 7.8 .4 -5.9 .4 7.1 .4 -7.5 .5 5.8 .4 -6.5 .4 6.7 .4 -9.4 .4 10.3 .4 -10 .5 7.8 .4 -4.5 .4 4.9 .4 -5.5 .4 6.5 .5 -5.7 .4 5.1 .4 -7.5 .4 8.3 .4 -7.2 .4 7.6 .5 -7.2 .4 6.9 .4 -7.5 .4 7 .4 -7.4 .4 7.1 .5 -6.1 .4 8.8 .4 -8.1 .4 5.3 .4 -5.5 .4 7.8 .5 -8 .4 8.8 .4 -9.3 .4 5.7 .4 -4.7 .5 5.3 .4 -6.1 .4 6.4 .4 -6.8 .4 6.8 .4 -5.1 .5 4.1 .4 -4 .4 5.4 .4 -6.1 .4 8.5 .4 -7.9 .5 6.1 .4 -7.8 .4 7.6 .4 -9.4 .4 8.3 .5 -4.5 .4 5.8 .4 -6.7 .4 5.5 .4 -7.6 .4 7.1 .5 -4 .4 3.9 .4 -6 .4 6.9 .4 -6.6 .4 8 .5 -7.6 .4 5.1 .4 -4.8 .4 7.4 .4 -6.9 .4 5.7 .5 -6.4 .4 5.2 .4 -8.1 .4 8.6 .4 -4.8 .5 4.7 .4 -4.5 .4 7.6 .4 -7.9 .4 5.2 .4 -4.9 .5 4.9 .4 -6.5 .4 8.2 .4 -6.8 .4 4.4 .4 -6 .5 6.3 .4 -5.4 .4 6.3 .4 -6.5 .4 7.1 .4 -7.1 .5 5.5 .4 -5.7 .4 6.2 .4 -4.8 .4 5.2 .5 -7.3 .4 6.4 .4 -5.2 .4 5.7 .4 -7.7 .4 7.4 .5 -4.9 .4 4.8 .4 -5.8 .4 8.7 .4 -7.9 .4 6.6 .5 -7.1 .4 7.5 .4 -7 .4 5.5 .4 -5 .4 6.4 .5 -7.3 .4 7.8 .4 -8.1 .4 8.4 .4 -7.2 .5 5.8 .4 -5.4 .4 6.7 .4 -8 .4 5.4 .4 -6.2 .5 7.5 .4 -6 .4 5.2 .4 -7.9 .4 8.5 .4 -7.3 .5 6.4 .4 -6.3 .4 8 .4 3.6 .4 -14 .4 2 .5 6 .4 -5.6 .4 6.4 .4 -5.6 .4 5.4 .5 -5.2 .4 5.2 .4 5.4 .4 -16 .4 4 .4 6 .5 -6.3 .4 7.7 .4 -7 .4 .6 .4 17 .4 -10.4 .5 -6.4 .4 6.4 .4 -5.9 .4 5.7 .4 -6.9 .4 7 .5 -9.3 .4 8.8 .4 -6.3 .4 9.3 .4 -8.8 .5 5.9 .4 -7.4 .4 9.5 .4 -7.3 .4 6.4 .4 -6.7 .5 4.5 .4 -4.9 .4 6.2 .4 -6.5 .4 5.5 .4 -5 .5 8.1 .4 -7.9 .4 5.4 .4 -5.9 .4 5.7 .4 -5.2 .5 4.3 .4 -5.4 .4 6.9 .4 -5.4 .4 8.2 .5 -9.7 .4 7.9 .4 -7.3 .4 6 .4 -6.1 .4 6 .5 -5.4 .4 6.5 .4 -8.9 .4 7.3 .4 -5.4 .4 5.8 .5 -7.6 .4 7.1 .4 -4.5 .4 4.7 .4 -4.4 .4 5.3 .5 -5.9 .4 5.6 .4 -5.4 .4 6.7 .4 -7.6 .5 5.3 .4 -7 .4 7.1 .4 -4.9 .4 4.9 .4 -5.5 .5 5.8 .4 -5.9 .4 7 .4 -9.5 .4 8.6 .4 -4.9 .5 5.9 .4 -5.9 .4 6.6 .4 -6.9 .4 5.4 .4 -6.9 .5 8.3 .4 -7.5 .4 6.3 .4 -7 .4 6.5 .5 -6 .4 6.3 .4 -7.4 .4 6.9 .4 -7.4 .4 10.4 .5 -8.2 .4 6.4 .4 -6.5 .4 5.7 .4 -5.7 .4 5.3 .5 -5.6 .4 5 .4 -5.7 .4 7.6 .4 -6.2 .4 4.6 .5 -4.8 .4 6.1 .4 -7.1 .4 7.2 .4 -5.4 .5 5.3 .4 -6.1 .4 4.5 .4 -4.3 .4 6 .4 -6.7 .5 7 .4 -6.3 .4 6.7 .4 -7.9 .4 6.4 .4 -5.2 .5 5.4 .4 -5.7 .4 5.2 .4 -4.3 .4 3.5 .4 -5.2 .5 6.8 .4 -6.8 .4 5.9 .4 -5.9 .4 5.9 .5 -6.2 .4 5.5 .4 -3.3 .4 3.9 .4 -4.7 .4 5.7 .5 -5.8 .4 5.2 .4 -4.2 .4 3.3 .4 -5.7 .4 9.1 .5 -6.8 .4 3 .4 -5.5 .4 .1 .4 12 .4 -4.3 .5 -6.4 .4 6.4 .4 -5.8 .4 3.8 .4 -5 .5 5.9 .4 -5.3 .4 6.4 .4 -6.7 .4 5.7 .4 -4.4 .5 5 .4 -5 .4 3.7 .4 -3.8 .4 4.2 .4 -4 .5 5.3 .4 -6.7 .4 5.1 .4 -4.8 .4 5.8 .4 -5.2 .5 4.9 .4 -5.3 .4 4.2 .4 -6.9 .4 7 .5 -3.9 .4 3.9 .4 -5.7 .4 5.2 .4 -3.3 .4 3.7 .5 -3.9 .4 3.9 .4 -3.1 .4 3.1 .4 -5.7 .4 7.1 .5 -4.6 .4 3.3 .4 -5.2 .4 6.1 .4 -4.7 .4 3.5 .5 -3.3 .4 3.2 .4 -2.9 .4 3.5 .4 -5.1 .5 6.3 .4 -5 .4 3.3 .4 -3.8 .4 5 .4 -4.8 .5 3.9 .4 -3.5 .4 3.3 .4 -4 .4 4.8 .4 -5.7 .5 4.9 .4 -3.8 .4 4 .4 -4.1 .4 5.2 .4 -6.2 .5 5.2 .4 -4.7 .4 4.2 .4 -3.4 .4 3.7 .5 -4.1 .4 4.1 .4 -3.3 .4 3.4 .4 -5.1 .4 6.5 .5 -5.1 .4 3 .4 -3.7 .4 5 .4 -3.9 .4 4.8 .5 -5.4 .4 5.5 .4 -7.4 .4 6.5 .4 -5 .4 4.2 .5 -3.1 .4 3.4 .4 -4.5 .4 3.9 .4 -3.6 .5 3.9 .4 -3.5 .4 3.9 .4 -4.1 .4 3.5 .4 -4 .5 5.8 .4 -5.5 .4 5.7 .4 -5.4 .4 4.2 .4 -4.4 .5 4.5 .4 -5.4 .4 5.1 .4 -4.7 .4 4.9 .4 -4.6 .5 4.2 .4 -3.8 .4 3.7 .4 -3.8 .4 4 .5 -4.4 .4 3.8 .4 -2.4 .4 2.3 .4 -3.8 .4 4.2 .5 -4.2 .4 4.2 .4 -2.9 .4 3 .4 -3.5 .4 4.1 .5 -3.9 .4 3 .4 -3.8 .4 3.6 .4 -2.7 .4 4.1 .5 -4.8 .4 6 .4 -5.7 .4 3.2 .4 -4.8 .5 5.8 .4 -4.1 .4 2.9 .4 -2.6 .4 2.5 .4 -4.4 .5 5.2 .4 -4 .4 4.3 .4 -3.3 .4 3.4 .4 -3.9 .5 3.4 .4 -3.4 .4 -3.4 .4 10 .4 -2.9 .4 -3.4 .5 3 .4 -3.9 .4 4 .4 -5 .4 4.8 .5 -3 .4 3.7 .4 -3.9 .4 3.5 .4 -3 .4 2.1 .5 -2.4 .4 3 .4 -3.9 .4 5.4 .4 -5.2 .4 3.8 .5 -3.3 .4 2.5 .4 -2.2 .4 2.9 .4 -4 .4 4.2 .5 -4 .4 3.5 .4 -3.2 .4 4.1 .4 -3.5 .5 3.9 .4 -4.1 .4 3 .4 -3.9 .4 4.2 .4 -3.5 .5 3.1 .4 -3.1 .4 3.5 .4 -3 .4 2.8 .4 -4.7 .5 4.8 .4 -4.8 .4 3.9 .4 -2.3 .4 3.6 .5 -4.6 .4 3.9 .4 -2.1 .4 2.9 .4 -3.4 .4 2.8 .5 -2.5 .4 2.2 .4 -3.2 .4 3.3 .4 -2.8 .4 2.7 .5 -2.4 .4 2.8 .4 -4.1 .4 3.6 .4 -2.8 .4 2.9 .5 -4 .4 3.8 .4 -2.3 .4 2.4 .4 -3.4 .5 3.5 .4 -3.7 .4 3.8 .4 -2.5 .4 2.4 .4 -3.6 .5 4.7 .4 -3.6 .4 2.3 .4 -2.2 .4 3.4 .4 -5 .5 6 .4 -4.6 .4 4.2 .4 -4.1 .4 2.6 .4 -3.8 .5 4.7 .4 -4.4 .4 3.4 .4 -2.5 .4 4 .5 -4.5 .4 3.9 .4 -5 .4 3.9 .4 -2.7 .4 3.1 .5 -3.2 .4 3 .4 -2.9 .4 3.5 .4 -3.6 .4 3.6 .5 -3.1 .4 2.9 .4 -2.6 .4 2.6 .4 -3.5 .4 3.8 .5 -3.3 .4 3.6 .4 -4.7 .4 3.6 .4 -3.7 .5 3.9 .4 -3.8 .4 3.8 .4 -3.3 .4 2.7 .4 -4.5 .5 5.2 .4 -3.4 .4 3 .4 -2.8 .4 3.7 .4 -4.9 .5 4.2 .4 -4 .4 4.1 .4 -3.4 .4 4.8 .4 -4.7 .5 3.7 .4 -4 .4 4.1 .4 -3.2 .4 4.4 .5 -4.4 .4 3.4 .4 -3.9 .4 3.3 .4 -4 .4 4 .5 -3.3 .4 3.1 .4 -3.1 .4 4.1 .4 -6.7 .4 6.9 .5 -4.7 .4 5.1 .4 -4.4 .4 2.8 .4 -2.9 .4 2.9 .5 -3.1 .4 3.6 .4 -3.3 .4 3 .4 -4.5 .5 7.4 .4 -6.3 .4 4.6 .4 -4.3 .4 3.7 .4 -3.6 .5 3.3 .4 -2.9 .4 3.9 .4 -5.2 .4 4.6 .4 -4.8 .5 4.6 .4 -5 .4 5.1 .4 -4.9 .4 5.1 .4 -4.5 .5 4.7 .4 -4.5 .4 4.3 .4 -3.4 .4 3.6 .5 -5.5 .4 6.3 .4 -5.1 .4 5 .4 -5.4 .4 5.8 .5 -5.3 .4 5 .4 -6.8 .4 5.5 .4 -4.3 .4 4.1 .5 -5.3 .4 5.4 .4 -4.4 .4 6.1 .4 -6.4 .4 6 .5 -6.7 .4 5.8 .4 -6.4 .4 5.8 .4 -3.2 .5 4.1 .4 -5.2 .4 4.8 .4 -5.5 .4 6.5 .4 -4.5 .5 3.8 .4 -4.7 .4 4.1 .4 -4.3 .4 5.3 .4 -6.3 .5 6.2 .4 -4.4 .4 3.6 .4 -5.2 .4 5.6 .4 -4.4 .5 3.9 .4 -4.4 .4 4.2 .4 -3.9 .4 6 .5 -6.4 .4 6 .4 -7.6 .4 6.2 .4 -5.7 .4 5.5 .5 -4.7 .4 5.1 .4 -5.5 .4 6.1 .4 -4.6 .4 4.5 .5 -6 .4 5.6 .4 -5.4 .4 6.5 .4 -6.1 .4 5.4 .5 -5.7 .4 6.3 .4 -5.4" fill="none" stroke="#000" stroke-width="0.75" stroke-linejoin="miter" stroke-miterlimit="2"/>
<path d="M150.6 412.8l.4 -5.2 .4 6.8 .4 -7.6 .3 6.9 .4 -5.7 .4 4.6 .4 -4.6 .4 6.3 .4 -5.9 .4 4.2 .3 -6.4 .4 6.1 .4 -5.3 .4 6.8 .4 -8.9 .4 9.7 .3 -8.2 .4 5.6 .4 -5.2 .4 6.1 .4 -5.6 .4 4.8 .4 -4.5 .3 6.1 .4 -8.3 .4 6.3 .4 -4.8 .4 6.2 .4 -7.7 .4 6.7 .3 -4.5 .4 8.7 .4 -9.6 .4 5.6 .4 -5.6 .4 6.6 .4 -6.2 .3 5.8 .4 -4.8 .4 5 .4 -6.3 .4 6 .4 -5.7 .3 6.3 .4 -7.3 .4 5.9 .4 -4 .4 6.4 .4 -7 .4 5.5 .3 -5.8 .4 6.3 .4 -6 .4 4.6 .4 -5.4 .4 7.3 .4 -8.5 .3 7 .4 -4.7 .4 5.5 .4 -5.6 .4 5.6 .4 -5.6 .4 4 .3 -3.9 .4 5.8 .4 -7.6 .4 7.5 .4 -7.2 .4 9.3 .3 -7.5 .4 5.8 .4 -8.8 .4 6.9 .4 -5.7 .4 7.4 .4 -6.1 .3 6.8 .4 -9.2 .4 8.6 .4 -5.1 .4 4.4 .4 -8.9 .4 9.2 .3 -7.1 .4 7 .4 -5.5 .4 6.2 .4 -7.9 .4 7.8 .4 -7.5 .3 5.5 .4 -5.3 .4 7.9 .4 -7.1 .4 4.9 .4 -8.5 .3 9.8 .4 -5.9 .4 4.6 .4 -4.8 .4 6.2 .4 -7.4 .4 6.8 .3 -6.7 .4 7.1 .4 -6.8 .4 8 .4 -8.7 .4 6 .4 -4.3 .3 5.3 .4 -5.5 .4 5 .4 -7.2 .4 7 .4 -6.5 .4 7.4 .3 -7.7 .4 10 .4 -8.2 .4 5 .4 -7.7 .4 11.7 .3 -8.5 .4 4.9 .4 -6.9 .4 10.1 .4 -8.2 .4 4.7 .4 -6.6 .3 7.7 .4 -6.5 .4 5.9 .4 -7.4 .4 8.3 .4 -10 .4 8.7 .3 -7.1 .4 7.9 .4 -7.7 .4 8.5 .4 -6.1 .4 4.9 .4 -4.9 .3 5.4 .4 -6.5 .4 5.6 .4 -6.2 .4 7.1 .4 -7 .3 7.1 .4 -6.8 .4 5.6 .4 -5.3 .4 5.1 .4 -5.2 .4 5.7 .3 -5 .4 5.8 .4 -5.5 .4 5.9 .4 -6 .4 7.6 .4 -7.6 .3 12 .4 -12.8 .4 7.9 .4 -7.4 .4 7.1 .4 -8.1 .4 7.7 .3 -8.2 .4 7.4 .4 -5.8 .4 7 .4 -7.6 .4 6.9 .3 -6.9 .4 5.4 .4 -5.4 .4 6.4 .4 -5.8 .4 8.6 .4 -10.8 .3 8.1 .4 -5.4 .4 4.5 .4 -4.9 .4 8.7 .4 -9 .4 4.7 .3 4 .4 -16 .4 6.6 .4 7.2 .4 -7.5 .4 6.8 .4 -4.7 .3 5.4 .4 -6.9 .4 7.6 .4 -9.3 .4 9 .4 -9.7 .3 8.2 .4 -4.8 .4 6.2 .4 -8.9 .4 6.8 .4 -5.5 .4 6.7 .3 -7.4 .4 7.4 .4 -8.3 .4 7.5 .4 -4.8 .4 5.7 .4 -6.2 .3 8.1 .4 -11.3 .4 8.9 .4 -5.4 .4 -2.4 .4 13 .4 -6.6 .3 -3.7 .4 4.4 .4 -4.7 .4 5.5 .4 -7.1 .4 7.9 .3 -7.9 .4 8 .4 -7.1 .4 8 .4 -7.9 .4 6 .4 -7.9 .3 9.2 .4 -6.6 .4 6.9 .4 -8.1 .4 6.2 .4 -4.8 .4 6.7 .3 -7.3 .4 5 .4 -4.9 .4 6.5 .4 -7.6 .4 9.8 .4 -8.8 .3 7.6 .4 -7.8 .4 6.6 .4 -6.1 .4 8.4 .4 -8.7 .4 6.5 .3 -6.5 .4 5.5 .4 -4.9 .4 5 .4 -6.4 .4 -4.3 .3 21 .4 -8.9 .4 -8.6 .4 9.5 .4 -8 .4 6 .4 -7 .3 7.8 .4 -6.8 .4 8.4 .4 -9.6 .4 8.6 .4 -8.8 .4 8.3 .3 -7.7 .4 9.5 .4 -10.1 .4 7.4 .4 -7.3 .4 9.3 .4 -7 .3 6.1 .4 -8 .4 8.2 .4 -8.4 .4 15.5 .4 -16.8 .3 10.2 .4 -7.5 .4 6.1 .4 -5.9 .4 9.3 .4 -13.5 .4 10.4 .3 -8 .4 7.8 .4 -8 .4 9.9 .4 -8.4 .4 5.7 .4 -4.9 .3 7.2 .4 -7.7 .4 5.1 .4 -7 .4 9.7 .4 -11.2 .4 9.5 .3 -7.7 .4 8.4 .4 -8.5 .4 7.7 .4 -8 .4 8.3 .3 -9 .4 9.2 .4 -6.5 .4 6.4 .4 -6.9 .4 6.4 .4 -6.2 .3 7.1 .4 -6.6 .4 6.7 .4 5.8 .4 -14 .4 .5 .4 7.8 .3 -8.4 .4 7.6 .4 -7.8 .4 8.3 .4 2 .4 -15 .4 4.1 .3 7.8 .4 -6.4 .4 8.8 .4 -8.4 .4 6.5 .4 -6.1 .3 8.4 .4 -11 .4 9.3 .4 -7.3 .4 7.8 .4 -8.9 .4 10 .3 -8.2 .4 5.6 .4 -8.4 .4 10.6 .4 -8 .4 5.8 .4 -6.3 .3 6.6 .4 -6.1 .4 6.2 .4 -7.7 .4 10.9 .4 -8.9 .4 5 .3 -6.7 .4 13.5 .4 -12.1 .4 5 .4 -7.3 .4 8.4 .3 -9.2 .4 8.2 .4 -5.9 .4 9.3 .4 -13 .4 9.8 .4 -4.9 .3 5.6 .4 -6.1 .4 6.1 .4 -7.9 .4 7 .4 -6.5 .4 9.3 .3 -11 .4 9.2 .4 -5.9 .4 7 .4 -9.6 .4 8.1 .4 -5.3 .3 4.6 .4 -6 .4 5.5 .4 -5.1 .4 9 .4 -9.9 .3 8.3 .4 -7 .4 6.1 .4 -6.6 .4 6.1 .4 -5.6 .4 5.2 .3 -4.2 .4 4 .4 5.8 .4 -16 .4 5.2 .4 7.1 .4 -9.5 .3 7.7 .4 -4.7 .4 3.8 .4 -5.9 .4 5.7 .4 -4.5 .4 7 .3 -5.7 .4 5.3 .4 -6.5 .4 5.1 .4 -5 .4 5.7 .3 -5.2 .4 6.5 .4 -8.3 .4 7.9 .4 -8.2 .4 7.4 .4 -5.5 .3 6.6 .4 -6.2 .4 4.6 .4 -5.1 .4 5.8 .4 -6.3 .4 5.6 .3 -4.9 .4 6 .4 -5.3 .4 5.1 .4 -5.3 .4 4.4 .4 -7.4 .3 6.5 .4 -4.2 .4 6.7 .4 -7.6 .4 7.4 .4 -6.9 .3 5.3 .4 -5.5 .4 6.1 .4 -5.9 .4 5.4 .4 -6.5 .4 7.6 .3 -6.3 .4 7.3 .4 -6.6 .4 4.5 .4 -4.4 .4 4 .4 -4.2 .3 4.8 .4 -5.2 .4 5.5 .4 -4.5 .4 5.3 .4 -6.7 .4 5.7 .3 -5.5 .4 9.1 .4 -10.2 .4 8.6 .4 -7.7 .4 5.5 .3 -5 .4 5.8 .4 -5.5 .4 4 .4 -4.1 .4 5.6 .4 -5.7 .3 4.8 .4 -3.7 .4 3.6 .4 -5.4 .4 6.4 .4 -4.6 .4 3.3 .3 -4.4 .4 6 .4 -5.8 .4 5.6 .4 -5.5 .4 4.4 .4 -4.6 .3 6.1 .4 -5.7 .4 5.2 .4 -6.3 .4 6.3 .4 -6.5 .3 5.7 .4 -4.3 .4 5.1 .4 -4.8 .4 3.4 .4 -4.4 .4 7.1 .3 -9.6 .4 8.4 .4 -5 .4 4.4 .4 -5.5 .4 7.1 .4 -5.9 .3 3.8 .4 -5.2 .4 6.7 .4 -7.5 .4 6.4 .4 -5.1 .4 5.8 .3 -6.4 .4 6.1 .4 -5.3 .4 4.9 .4 -4.8 .4 4.8 .3 -5.8 .4 6.1 .4 -6.7 .4 5.8 .4 -5.8 .4 6.5 .4 -4.6 .3 5.1 .4 -9.1 .4 9.5 .4 -6.7 .4 5.3 .4 -5 .4 5.7 .3 -4.8 .4 4.3 .4 -4.7 .4 5.2 .4 -5 .4 3.6 .4 -5.6 .3 7.6 .4 -5.8 .4 7.2 .4 -8.1 .4 8 .4 -8.7 .3 6 .4 -6 .4 6 .4 -5.7 .4 6.3 .4 -5.1 .4 5.5 .3 -6.3 .4 5.6 .4 -4.8 .4 5 .4 -7.4 .4 6.8 .4 -4.5 .3 7.3 .4 -10.3 .4 8.8 .4 -5.2 .4 7 .4 -7.8 .4 5 .3 -7.6 .4 8.6 .4 -6.2 .4 6.1 .4 -7.1 .4 7.6 .3 -6.8 .4 6.9 .4 -5.8 .4 4.6 .4 -4.7 .4 5.9 .4 -5.8 .3 5.9 .4 -9.7 .4 9 .4 -10.2 .4 12 .4 -9.7 .4 8.2 .3 -7 .4 8.1 .4 -8.2 .4 5.1 .4 -4.1 .4 5.6 .4 -5.8 .3 6.8 .4 -7.4 .4 7.8 .4 -6.9 .4 7 .4 -8.1 .3 15.4 .4 2.2 .4 -26 .4 8.7 .4 -5.7 .4 17 .4 .3 .3 -14.2 .4 10.4 .4 -7.9 .4 9.7 .4 -10.7 .4 10.6 .4 -9.2 .3 10.6 .4 -10.9 .4 6.6 .4 -8.6 .4 8.4 .4 -6.7 .4 7.1 .3 -7.9 .4 7.8 .4 -6.5 .4 8 .4 -7.8 .4 7.2 .3 -7 .4 4.8 .4 -6.5 .4 7.7 .4 -5.3 .4 5 .4 -7.2 .3 6.7 .4 -5.8 .4 7.8 .4 -7.5 .4 6.9 .4 -6.2 .4 6.4 .3 -6.6 .4 5 .4 -7.2 .4 7.8 .4 -5.7 .4 5.4 .4 -5 .3 6.5 .4 -7.7 .4 6.1 .4 -8.1 .4 9.1 .4 -6.6 .3 5.1 .4 -4.4 .4 5.1 .4 -6 .4 7.8 .4 -7.2 .4 5.1 .3 -6.1 .4 6.5 .4 -7.6 .4 8.1 .4 -6.7 .4 5.9 .4 -4.9 .3 4.6 .4 -5.3 .4 5.4 .4 -5.3 .4 4.7 .4 -3.6 .4 4.7 .3 -6.1 .4 8.7 .4 -9.3 .4 6.4 .4 -6.2 .4 6.5 .3 -5.9 .4 4.3 .4 -7 .4 8.5 .4 -5.4 .4 5.4 .4 -5.1 .3 5.2 .4 -6.7 .4 7.7 .4 -7.3 .4 5 .4 -4.8 .4 6.4 .3 -5.4 .4 5.5 .4 -6.5 .4 7.7 .4 -7.4 .4 6.2 .4 -5.7 .3 5.8 .4 -7.8 .4 8.3 .4 -6 .4 4.9 .4 -4.9 .4 3.7 .3 -3.4 .4 3.3 .4 -4.3 .4 5.5 .4 -4.6 .4 6.5 .3 -8.4 .4 5.6 .4 -4.1 .4 4.1 .4 -5.8 .4 6.5 .4 -5.1 .3 6 .4 -7.1 .4 5.7 .4 -5.5 .4 6.5 .4 -6.8 .4 7.7 .3 -6.4 .4 5 .4 -4.8 .4 7.2 .4 -7 .4 3.6 .4 -4.6 .3 4.9 .4 -4.7 .4 4.8 .4 -3.5 .4 3.9 .4 -4.4 .3 4.3 .4 -5.4 .4 6 .4 -5.5 .4 5.3 .4 -7.5 .4 6.5 .3 -3.3 .4 4.8 .4 -5.7 .4 6.5 .4 -6.9 .4 4.5 .4 -3.2 .3 4.7 .4 -4.8 .4 3.6 .4 -5.7 .4 5.8 .4 -5.3 .4 6.1 .3 -6.2 .4 7.1 .4 -9.5 .4 8.6 .4 -4.6 .4 4.8 .3 -6.1 .4 6.7 .4 -5.6 .4 4.4 .4 -5.4 .4 6.4 .4 -5.5 .3 5.5 .4 -6.3 .4 6 .4 -5.5 .4 4.8 .4 -5.5 .4 5.4 .3 -3.7 .4 3.9 .4 -5.5 .4 4.5 .4 -4.2 .4 6.7 .4 -6.5 .3 4.6 .4 -4.6 .4 4.2 .4 -3.4 .4 3.7 .4 -4.4 .3 5.1 .4 -6.4 .4 5.8 .4 -4.3 .4 5.9 .4 -5.5 .4 3.8 .3 -4 .4 4.3 .4 -6.2 .4 5.8 .4 -4.9 .4 5 .4 -3.9 .3 5 .4 -4.7 .4 3.1 .4 -3.8 .4 4.4 .4 -4.3 .4 4.1 .3 -4.8 .4 4.6 .4 -4 .4 5.3 .4 -4.7 .4 3.4 .3 -6.2 .4 8.3 .4 -6.1 .4 6.1 .4 -8.4 .4 7.5 .4 -5.3 .3 4.9 .4 -4.6 .4 4.4 .4 -4 .4 4.6 .4 -5 .4 3.9 .3 -4.4 .4 4.2 .4 -3.9 .4 3.6 .4 -6.4 .4 7.3 .4 -4.7 .3 4.7 .4 -3.9 .4 3.4 .4 -3.4 .4 3.1 .4 -3.1 .3 3.8 .4 -4.3 .4 4.5 .4 -5 .4 6.3 .4 -5.4 .4 5.3 .3 -5.5 .4 4.4 .4 -4.4 .4 5 .4 -5.7 .4 4.7 .4 -4.3 .3 4 .4 -3.6 .4 4 .4 -3.8 .4 4.2 .4 -4.4 .4 3.4 .3 -3.2 .4 4.2 .4 -5.8 .4 6.4 .4 -4.9 .4 5.7 .3 -5.8 .4 3.9 .4 -4.7 .4 5.2 .4 -4.4 .4 3.6 .4 -3.1 .3 4.7 .4 -7.8 .4 7.8 .4 -5.8 .4 5 .4 -5.9 .4 5.6 .3 -5.1 .4 4.5 .4 -3.8 .4 5.2 .4 -4.9 .4 3.3 .4 -5 .3 5.8 .4 -4.7 .4 5.1 .4 -4.2 .4 2.9 .4 -5.3 .3 6.2 .4 -3.9 .4 5.2 .4 -6.3 .4 4.4 .4 -4.5 .4 5.6 .3 -4.3 .4 3.4 .4 -4 .4 5.4 .4 -7 .4 7.7 .4 -5.7 .3 4.9 .4 -5.5 .4 4.8 .4 -4.6 .4 5.2 .4 -5.2 .4 5 .3 -5.7 .4 6.3 .4 -4.6 .4 4.5 .4 -5.5 .4 4.1 .3 -4.1 .4 5.4 .4 -4.5 .4 3.8 .4 -4.2 .4 3.6 .4 -3.3 .3 3.8 .4 -4.3 .4 3.2 .4 -3.1" fill="none" stroke="#000" stroke-width="0.85" stroke-linejoin="miter" stroke-miterlimit="2"/>
<path d="M151.6 267.3 C153.0 267.7 156.6 267.9 160.0 269.7 C163.4 271.5 167.9 274.6 171.9 278.1 C175.9 281.6 180.3 287.0 183.9 290.6 C187.5 294.2 190.9 297.7 193.4 299.6 C195.9 301.5 196.8 302.0 198.8 302.0 C200.8 302.0 202.7 301.7 205.4 299.6 C208.1 297.5 211.5 292.9 214.9 289.4 C218.3 285.9 221.9 282.0 225.7 278.7 C229.5 275.4 233.0 272.1 237.6 269.7 C242.2 267.3 249.0 264.9 253.2 264.3 C257.4 263.7 259.3 264.3 262.7 266.1 C266.1 267.9 269.7 270.8 273.5 275.1 C277.3 279.4 282.0 287.4 285.4 291.8 C288.8 296.2 291.4 299.4 293.8 301.4 C296.2 303.4 297.6 303.8 299.8 303.8 C302.0 303.8 303.8 304.0 307.0 301.4 C310.2 298.8 314.9 292.6 318.9 288.2 C322.9 283.8 327.5 278.4 330.9 275.1 C334.3 271.8 336.8 269.9 339.2 268.5 C341.6 267.1 342.2 266.6 345.2 266.7 C348.2 266.8 353.2 267.6 357.2 269.1 C361.2 270.6 365.1 272.9 369.1 275.7 C373.1 278.5 377.3 282.6 381.1 285.9 C384.9 289.2 388.4 293.2 392.0 295.5 C395.6 297.8 398.9 299.8 402.4 299.7 C405.9 299.6 409.3 297.7 413.0 295.0 C416.7 292.3 420.4 288.0 424.8 283.6 C429.2 279.2 434.0 272.4 439.7 268.7 C445.4 265.0 452.6 261.4 458.8 261.2 C465.0 260.9 471.6 264.1 477.1 267.2 C482.6 270.3 487.0 274.8 492.0 279.9 C497.0 285.0 502.3 293.6 507.0 297.8 C511.7 302.0 518.2 303.7 520.4 304.9" fill="none" stroke="#000" stroke-width="2.2" stroke-linejoin="round" stroke-linecap="round"/>
<path d="M148.7 462.6 C150.5 462.7 155.0 462.5 159.4 463.0 C163.8 463.5 169.5 465.6 175.0 465.6 C180.5 465.6 187.6 463.5 192.4 463.2 C197.2 462.9 199.9 463.3 204.1 464.0 C208.3 464.7 212.2 467.4 217.7 467.3 C223.2 467.2 231.9 463.8 237.1 463.2 C242.3 462.6 244.0 463.2 248.8 464.0 C253.7 464.8 259.4 468.0 266.2 467.9 C273.0 467.8 283.7 464.1 289.5 463.6 C295.3 463.1 296.3 464.2 301.2 465.0 C306.1 465.8 311.6 468.1 318.7 468.3 C325.8 468.5 336.1 467.1 343.9 466.0 C351.7 464.9 357.9 461.9 365.3 461.7 C372.8 461.5 382.5 464.6 388.6 465.0 C394.8 465.4 397.7 463.8 402.2 464.0 C406.7 464.2 410.3 465.2 415.8 466.0 C421.3 466.8 427.8 468.5 435.2 468.5 C442.6 468.5 451.3 466.8 460.4 466.0 C469.5 465.2 479.7 464.6 489.6 464.0 C499.5 463.4 514.7 462.8 519.7 462.6" fill="none" stroke="#000" stroke-width="1.8" stroke-linejoin="round" stroke-linecap="round"/>
<path d="M586.8 161.4l.3 -8.6 .4 8.7 .3 -6.9 .3 8.9 .4 -8.5 .3 7.8 .3 -9.2 .4 9.3 .3 -11 .3 -4.9 .4 20 .3 -3.4 .3 -13 .4 10.7 .3 -10.1 .3 9.7 .4 -9.5 .3 13.2 .3 -11.6 .4 11.1 .3 -10.6 .3 10.3 .4 -14.3 .3 11.8 .3 -12.4 .4 17.3 .3 -11.6 .3 8.1 .4 -9.2 .3 11 .3 -9.5 .4 6.3 .3 -6.6 .3 8 .4 -8.3 .3 8.5 .3 -9.8 .4 7.8 .3 -8.3 .3 10.6 .4 -8.5 .3 10.3 .3 -10.4 .4 8 .3 -7 .3 6.5 .4 -11.1 .3 10.8 .3 -7.4 .4 7.9 .3 -9.9 .4 10 .3 -11 .3 10.6 .4 -9.3 .3 12.2 .3 -11.4 .4 13.2 .3 -13.6 .3 11.5 .4 -12.5 .3 10.9 .3 -9 .4 16 .3 -17 .3 8.9 .4 5.1 .3 -19 .3 5.8 .4 8.6 .3 -7.9 .3 7.5 .4 -10.1 .3 11.9 .3 -14.1 .4 15.7 .3 -14.7 .3 14.3 .4 5 .3 -20 .3 .9 .4 11.9 .3 -11.7 .3 14.6 .4 -12.5 .3 10.7 .3 -9.7 .4 7.5 .3 -8.3 .3 8.5 .4 -10.6 .3 12 .3 -13 .4 16.5 .3 -13.4 .3 9.1 .4 -8.4 .3 7.6 .3 -8.1 .4 9.2 .3 -9.5 .3 9.1 .4 -8.3 .3 7 .3 -9.5 .4 10.3 .3 -10.2 .3 12 .4 -8.9 .3 8.3 .3 -8.8 .4 5.9 .3 -5.6 .3 7.7 .4 -8.4 .3 6.7 .3 -7.9 .4 8.6 .3 -7 .3 9.4 .4 -10.6 .3 8.1 .3 -6.6 .4 9.1 .3 -10.8 .3 7 .4 -6.6 .3 8.9 .3 -7.3 .4 7.2 .3 -8.6 .3 -4.5 .4 22 .3 -9 .3 -11.5 .4 11.5 .3 -7.3 .3 7.5 .4 -9 .3 6.9 .3 -7.3 .4 10 .3 -10.9 .3 8.5 .4 -8.4 .3 12.6 .3 -11.8 .4 10.7 .3 -11.2 .3 8.5 .4 -9.5 .3 9.9 .3 -7.5 .4 9.8 .3 -9.8 .4 7.2 .3 -6 .3 6.4 .4 -7.3 .3 6.8 .3 -6.9 .4 8 .3 -7.7 .3 8.5 .4 -7 .3 6.2 .3 -8.3 .4 10.2 .3 -12.2 .3 10.2 .4 -8.7 .3 9 .3 -8.4 .4 11.7 .3 -10.4 .3 6.7 .4 -7.2 .3 6.7 .3 -6.9 .4 6.9 .3 -9.9 .3 13.8 .4 -10.8 .3 8.8 .3 -12.6 .4 12.8 .3 -8.9 .3 7.7 .4 1.9 .3 -14 .3 4.7 .4 7.8 .3 -8.7 .3 7.1 .4 -9.5 .3 9.6 .3 -8.2 .4 10 .3 -10.5 .3 10.2 .4 -10.8 .3 10.7 .3 -6.5 .4 7.8 .3 -9.8 .3 7.7 .4 -8.2 .3 8.9 .3 -7.2 .4 9.8 .3 -13.9 .3 11.5 .4 -7.8 .3 8 .3 -7.7 .4 6.3 .3 -7.5 .3 6.8 .4 -5.3 .3 10.6 .3 -10.6 .4 7.8 .3 -10 .3 7.7 .4 -7.8 .3 11.5 .3 -10.8 .4 8.9 .3 -12.3 .3 12.4 .4 1.3 .3 -13 .3 2.6 .4 7.2 .3 -6.1 .3 7.8 .4 -7.3 .3 5.9 .3 -7.2 .4 6.1 .3 -6.8 .3 8.3 .4 -7.1 .3 6.5 .3 -7.4 .4 8 .3 -7.4 .3 5.8 .4 -5.7 .3 8.1 .3 -6.9 .4 4.9 .3 -4.9 .3 5 .4 2.6 .3 -11 .4 2.9 .3 5.5 .3 -5.7 .4 5.7 .3 -4.4 .3 3.5 .4 -3.5 .3 3.8 .3 -3.7 .4 4.6 .3 -4.8 .3 5 .4 -5.7 .3 4.2 .3 -3.1 .4 4.2 .3 -5.5 .3 4.8 .4 -3.1 .3 2.9 .3 -2.8 .4 2.7 .3 -2.9 .3 3.3 .4 -3.7 .3 2.8 .3 -2.3 .4 2.8 .3 -4.5 .3 4.8 .4 -3.6 .3 3.4 .3 -2.8 .4 3.1 .3 -3.6 .3 2.9 .4 -3.2 .3 3.9 .3 -2.6 .4 2.3 .3 -2.8 .3 3.7 .4 -4.3 .3 3.6 .3 -3.8 .4 3 .3 -2.9 .3 3.8 .4 -3.5 .3 3.4 .3 -2.9 .4 2.9 .3 -4.9 .3 4.4 .4 -3.3 .3 4.2 .3 -4.6 .4 4.2 .3 -3.4 .3 3.7 .4 -3.7 .3 4.9 .3 -5.7 .4 5 .3 -4.4 .3 3.2 .4 -3 .3 4.3 .3 -4.3 .4 2.7 .3 -3.5 .3 3.4 .4 -2.9 .3 3.4 .3 -3 .4 2.5 .3 -2.8 .3 3.4 .4 -3.7 .3 3.1 .3 -3.7 .4 3.7 .3 -3.4 .3 4.4 .4 -4.4 .3 4.1 .3 -3.8 .4 3.4 .3 -2.3 .3 3.2 .4 -3.5 .3 3.5 .3 -4.5 .4 3.7 .3 -2.9 .3 3.1 .4 -3.3 .3 3.2 .3 -3.2 .4 3 .3 -2.4 .4 2.8 .3 -3.2 .3 3 .4 -3.1 .3 3 .3 -3.1 .4 3.4 .3 -2.9 .3 2.3 .4 -4.3 .3 6.6 .3 -4.8 .4 2.7 .3 -3.6 .3 4.1 .4 -3.2 .3 2.6 .3 -3.8 .4 4.3 .3 -3.4 .3 3.3 .4 -3 .3 2.6 .3 -3 .4 3.3 .3 -3.1 .3 3.3 .4 -3.3 .3 4.2 .3 -3.9 .4 3.5 .3 -3.6 .3 3.3 .4 -3.6 .3 3.6 .3 -2.9 .4 3.5 .3 -4.2 .3 3 .4 -3.7 .3 3.7 .3 -3.2 .4 4.7 .3 -4.2 .3 3.9 .4 -5.2 .3 4.5 .3 -3.2 .4 3.7 .3 -3.7 .3 2.9 .4 -3.2 .3 3.8 .3 -4.1 .4 3.2 .3 -2.8 .3 3.3 .4 -3.6 .3 4.2 .3 -3.4 .4 2.5 .3 -3.4 .3 3.9 .4 -3.6 .3 3.9 .3 -4 .4 3.7 .3 -3.2 .3 3.9 .4 -4.8 .3 3.6 .3 -3 .4 3.8 .3 -3.3 .3 3.3 .4 -4.5 .3 3.4 .3 -2.7 .4 3.2 .3 -3.1 .3 3 .4 -3.7 .3 3.7 .3 -2.3 .4 3.4 .3 -4.1 .3 3.9 .4 -4.4 .3 3.3 .3 -3 .4 3.5 .3 -3.1 .3 3.2 .4 -4 .3 3.5 .3 -3.6 .4 3.7 .3 -2.9 .3 2.9 .4 -2.8 .3 3.8 .3 -4.5 .4 3.5 .3 -3.2 .4 3.2 .3 -4.1 .3 3.8 .4 -2.5 .3 2.7 .3 -4 .4 4.1 .3 -3.1 .3 2.8 .4 -3.8 .3 4.5 .3 -4.4 .4 4.4 .3 -3.5 .3 3.3 .4 -3.4 .3 2.8 .3 -3.2 .4 3.5 .3 -3 .3 2.9 .4 -2.7 .3 2.9 .3 -3.1 .4 3.2 .3 -3 .3 3.7 .4 -4.6 .3 4.7 .3 -4 .4 3.9 .3 -5.3 .3 4.7 .4 -3.5 .3 3.7 .3 -3.6 .4 3.6 .3 -4.1 .3 4.4 .4 -3.6 .3 2.6 .3 -4.4 .4 4.4 .3 -2.5 .3 2.6 .4 -2.6 .3 2.9 .3 -3.5 .4 3.1 .3 -2.6 .3 3.5 .4 -3.1 .3 3.5 .3 -4.6 .4 4.6 .3 -4.6 .3 4.8 .4 -4.1 .3 2.4 .3 -2.5 .4 3.3 .3 -4.5 .3 3.7 .4 -2.6 .3 4.5 .3 -4.8 .4 3.8 .3 -3 .3 2.4 .4 -3.4 .3 4.2 .3 -4.2 .4 4.5 .3 -5.5 .3 4.5 .4 -3.5 .3 3.3 .3 -2.5 .4 4 .3 -5.5 .3 4.3 .4 -2.6 .3 2.7 .3 -3 .4 4.2 .3 -4.3 .3 3.5 .4 -4.3 .3 3.5 .3 -2.3 .4 2.7 .3 -3.7 .3 4.6 .4 -4.1 .3 2.7 .3 -2.4 .4 3 .3 -4.8 .3 4.6 .4 -3 .3 4 .4 -4.2 .3 5 .3 -5.6 .4 3.8 .3 -2.8 .3 2.5 .4 -2.8 .3 2.4 .3 -2.4 .4 2.8 .3 -2.2 .3 2.4 .4 -3.7 .3 4.6 .3 -3.7 .4 3.2 .3 -3.7 .3 4.9 .4 -4.6 .3 3.6 .3 -3.6 .4 3 .3 -3.2 .3 3.1 .4 -2.5 .3 2.9 .3 -3.8 .4 3.8 .3 -3.5 .3 3.8 .4 -3 .3 2.3 .3 -3.1 .4 3.8 .3 -3.2 .3 3.2 .4 -3.2 .3 4 .3 -4.5 .4 2.9 .3 -2.4 .3 3 .4 -4.8 .3 4.4 .3 -2.4 .4 2.9 .3 -3.9 .3 4.4 .4 -4.4 .3 3.8 .3 -3.1 .4 2.7 .3 -4.2 .3 4.8 .4 -3.4 .3 2.6 .3 -4.1 .4 4.9 .3 -3.7 .3 2.6 .4 -2 .3 3.1 .3 -4.7 .4 4.7 .3 -4.2 .3 3.6 .4 -3 .3 3.1 .3 -3.8 .4 4.9 .3 -4 .3 3.6 .4 -4.4 .3 4.9 .3 -4.6 .4 3.6 .3 -5.3 .3 4.7 .4 -4.2 .3 4.8 .3 -6.1 .4 6 .3 -3.6 .3 4.2 .4 -4.5 .3 4.4 .3 -4.7 .4 4.1 .3 -3.4 .3 3.2 .4 -3.7 .3 4.3 .3 -3.6 .4 2.8 .3 -2.9 .3 3.7 .4 -4.1 .3 3.4 .3 -3.7 .4 4.6 .3 -4 .4 3.5 .3 -4.5 .3 4.5 .4 -3.9 .3 3.4 .3 -2.8 .4 3 .3 -2.4 .3 2.3 .4 -2.8 .3 3.5 .3 -3.4 .4 3.9 .3 -3.9 .3 2.9 .4 -3.3 .3 4.2 .3 -3.8 .4 3 .3 -2.7 .3 2.4 .4 -3 .3 3.2 .3 -3.3 .4 4.3 .3 -6.4 .3 5.8 .4 -4.3 .3 4.3 .3 -3.3 .4 3.2 .3 -2.9 .3 2.6 .4 -2.8 .3 2.9 .3 -3.8 .4 4.7 .3 -4.1 .3 3.9 .4 -3.8 .3 3 .3 -2.9 .4 3.7 .3 -4.4 .3 4.1 .4 -5 .3 4.6 .3 -3 .4 2.8 .3 -3 .3 3.3 .4 -4.9 .3 5.5 .3 -3.4 .4 3.3 .3 -3.7 .3 3 .4 -3 .3 4 .3 -4.3 .4 4 .3 -4 .3 4 .4 -3.5 .3 3.2 .3 -3.4 .4 3.5 .3 -3 .3 3.3 .4 -3.8 .3 3.4 .3 -3 .4 2.5 .3 -2.3 .3 3 .4 -4.9 .3 4.1 .3 -2.5 .4 2.7 .3 -2.6 .3 2.8 .4 -2.6 .3 2.2 .3 -3.2 .4 3.5 .3 -2.8 .3 3.1 .4 -3.1 .3 2.9 .3 -4.3 .4 4.2 .3 -2.7 .3 3.9 .4 -4 .3 3.4 .3 -3.8 .4 3.5 .3 -4.5 .3 4.1 .4 -3.2 .3 3.4 .3 -2.8 .4 3.4 .3 -4 .4 3.7 .3 -3.2 .3 3.4 .4 -3.5 .3 2.8 .3 -2.8 .4 3 .3 -3.4 .3 5 .4 -4.9 .3 3.8 .3 -3.9 .4 3.9 .3 -3.9 .3 3.3 .4 -3.1 .3 2.8 .3 -3.8 .4 3.8 .3 -2.6 .3 3.4 .4 -4.1 .3 4.4 .3 -4.4 .4 3.5 .3 -2.9 .3 3.1 .4 -3.7 .3 3.8 .3 -3 .4 3.5 .3 -3.7 .3 3 .4 -3 .3 3.5 .3 -5 .4 5.2 .3 -4 .3 3.7 .4 -3.9 .3 4 .3 -4.3 .4 3.9 .3 -2.4 .3 2.1 .4 -2.6 .3 3.3 .3 -3.9 .4 5 .3 -4.4 .3 2.8 .4 -2.9 .3 3.2 .3 -2.9 .4 2.5 .3 -3.4 .3 3.4 .4 -2.8 .3 4.1 .3 -4.5 .4 3.9 .3 -3.5 .3 2.6 .4 -2.1 .3 2.1 .3 -3.2 .4 3.4 .3 -3.9 .3 5.3 .4 -4 .3 3.4 .3 -3.3 .4 2.3 .3 -3.3 .3 3.4 .4 -2.7 .3 4 .3 -3.9 .4 4 .3 -4.3 .3 3.3 .4 -2.8 .3 2.6 .3 -3 .4 3.3 .3 -3.2 .3 3.5 .4 -3.4 .3 3.7 .3 -4.6 .4 3.9 .3 -3.9 .3 3.7 .4 -5 .3 4.7 .3 -3.3 .4 5.2 .3 -4.9 .3 4.4 .4 -5.5 .3 4.8 .4 -3.6 .3 3 .3 -4.7 .4 4.7 .3 -2.5 .3 2.3 .4 -3.3 .3 4.1 .3 -4.2 .4 4.3 .3 -3.4 .3 4 .4 -4.8 .3 4.1 .3 -3 .4 2.5 .3 -3 .3 3.1 .4 -2.7 .3 2.9 .3 -3.1 .4 3 .3 -4.1 .3 4.9 .4 -4.9 .3 4.8 .3 -4 .4 3.2 .3 -4.1 .3 3.8 .4 -3.2 .3 3.1 .3 -2.6 .4 3.7 .3 -4.6 .3 4 .4 -3 .3 2.5 .3 -3.4 .4 4.3 .3 -3.7 .3 3.5 .4 -3.6 .3 3.4 .3 -3.6 .4 4.9 .3 -4.9 .3 3 .4 -3.2 .3 4 .3 -3.6 .4 4.4 .3 -4.2 .3 3.7 .4 -4.5 .3 4.9 .3 -4.6 .4 5.3 .3 -4.8 .3 3.1 .4 -2.6 .3 2.5 .3 -3.7 .4 4.7 .3 -4.1 .3 2.7 .4 -2.5 .3 3.2 .3 -3.9 .4 4.4 .3 -3.5 .3 2.7 .4 -2.8 .3 3.4 .3 -3.9 .4 5 .3 -4.7 .3 3.3 .4 -2.8 .3 2.6 .3 -3.6 .4 4.2 .3 -3.5 .3 3.3 .4 -3.9 .3 3.5 .3 -4 .4 4.6 .3 -4.9 .3 4.4 .4 -3.1 .3 2.8 .3 -2.8 .4 2.9 .3 -2.9 .3 3.2 .4 -4.4 .3 5 .3 -3.8 .4 3.5 .3 -4.3 .4 3.9 .3 -3.2 .3 3.4 .4 -4.1 .3 4.1 .3 -4.7 .4 4.7 .3 -3.9 .3 4.2 .4 -3.6 .3 2.4 .3 -3.1 .4 5.8 .3 -6 .3 4.1 .4 -3 .3 3.4 .3 -3.4 .4 3.1 .3 -3.6 .3 4.2 .4 -4.1 .3 3.7 .3 -3.5 .4 3.6 .3 -3.9 .3 5.2 .4 -5.1 .3 3.4 .3 -3.5 .4 3.1 .3 -3.3 .3 4 .4 -5.5 .3 5.3 .3 -3.4 .4 2.9 .3 -4.8 .3 6.6 .4 -5.1 .3 3.4 .3 -4.2 .4 4.1 .3 -2.8 .3 4.1 .4 -4.5 .3 5.3 .3 -6.1 .4 4.5 .3 -4.4 .3 4.3 .4 -4.6 .3 5.1 .3 -3.8 .4 3.5 .3 -4.2 .3 3.6 .4 -3.7 .3 5.6 .3 -4.9 .4 4 .3 -4.3 .3 4.5 .4 -4.3 .3 5 .3 -5.1 .4 5.1 .3 -5.1 .3 3 .4 -4.3 .3 5.2 .3 -4.3 .4 4.2 .3 -5.2 .3 6.9 .4 -6 .3 5.7 .3 -7 .4 5.7 .3 -5 .3 7.7 .4 -7.4 .3 5.1 .3 -6.2 .4 7.8 .3 -6.1 .3 4.4 .4 -5.2 .3 4.5 .3 6.4 .4 -12 .3 -.1 .3 6.8 .4 -5 .3 5.9 .3 -7 .4 7.5 .3 -6.4 .3 8.2 .4 -8.1 .3 5.1 .3 -5.2 .4 4.6 .3 -8.8 .4 9.7 .3 -6.7 .3 6.1 .4 -6 .3 6.9 .3 -7 .4 7.6 .3 -6.4 .3 4.9 .4 -6.2 .3 6.4 .3 -6.4 .4 7.6 .3 -9.3 .3 8.5 .4 -5.6 .3 7.9 .3 -8.5 .4 6.1 .3 -6.2 .3 5.8 .4 -6 .3 6.6 .3 -6.2 .4 8.2 .3 -10.7 .3 10 .4 -8.1 .3 7.2 .3 -7.9 .4 -.8 .3 12 .3 -4.9 .4 -5.3 .3 6.1 .3 -5.1 .4 6.4 .3 -8 .3 7.3 .4 -7.5 .3 7.5 .3 -8.2 .4 7.9 .3 -7.4 .3 8.4 .4 -8.4 .3 8.3 .3 -10.6 .4 10 .3 -6.8" fill="none" stroke="#000" stroke-width="1.1" stroke-linejoin="miter" stroke-miterlimit="2"/>
<path d="M586.8 228.1l.3 -7.3 .4 9.7 .3 -8 .3 5.5 .4 -6.7 .3 6.3 .3 -6.5 .4 6.3 .3 -5 .3 -20.6 .4 41 .3 -14.6 .3 -5.8 .4 4.5 .3 -6.2 .3 7.5 .4 -8.1 .3 6.7 .3 -5.8 .4 6.5 .3 -6 .3 5.5 .4 -4.4 .3 6.4 .3 -8 .4 6 .3 -5 .3 6.6 .4 -6.9 .3 5.2 .3 -4.3 .4 5.3 .3 -5.4 .3 5.9 .4 -6.3 .3 4.9 .3 -5 .4 5.6 .3 -5.2 .3 5.7 .4 -9.1 .3 8.9 .3 -6.2 .4 6.1 .3 -9.1 .3 9.2 .4 -6.7 .3 6.2 .3 -9 .4 11 .3 -10.5 .4 8.9 .3 -6.3 .3 9.7 .4 -13.2 .3 11.7 .3 -9.4 .4 -7.5 .3 26 .3 -8.6 .4 -9.9 .3 -4.5 .3 27 .4 -12 .3 -11.6 .3 13.5 .4 -12 .3 7.1 .3 -6.7 .4 -10.3 .3 22 .3 -4.9 .4 -6.8 .3 8.7 .3 -9.6 .4 10.4 .3 -10.1 .3 7.6 .4 -9.4 .3 11.6 .3 -8.4 .4 7.8 .3 -10.6 .3 10.9 .4 -8.7 .3 5.9 .3 -6.8 .4 8.6 .3 -7.3 .3 6.8 .4 -7.7 .3 7.7 .3 -8.1 .4 8 .3 -8.2 .3 8.1 .4 -6 .3 5.1 .3 -5.8 .4 6.2 .3 -6.1 .3 5.9 .4 -8.4 .3 12.2 .3 -12.5 .4 9.2 .3 -8 .3 12.4 .4 -11.4 .3 7.5 .3 -11 .4 11.1 .3 -8.2 .3 10.1 .4 -9.5 .3 6.3 .3 -7.4 .4 8.2 .3 -7.9 .3 7.9 .4 -7.1 .3 8.5 .3 -9.2 .4 9.4 .3 -12.2 .3 15 .4 -11.8 .3 8.4 .3 -8.6 .4 7.9 .3 -6.9 .3 -3.8 .4 16 .3 -5 .3 -8.7 .4 10.8 .3 -9 .3 7.4 .4 -7.2 .3 7.8 .3 -7.8 .4 5.4 .3 -5.6 .3 6.4 .4 -6.6 .3 5.1 .3 -4.3 .4 6.2 .3 -10 .3 9.4 .4 -5.8 .3 8.8 .3 -9.7 .4 6.5 .3 -6.7 .4 6.9 .3 -8.7 .3 10.6 .4 -7.3 .3 5.5 .3 -9.1 .4 8.6 .3 -6.9 .3 8 .4 -7.1 .3 7.8 .3 -8.7 .4 6.9 .3 -8.8 .3 14.1 .4 -11 .3 6 .3 -7.4 .4 6.9 .3 -7.9 .3 8.8 .4 3.4 .3 -13 .3 1.6 .4 11.8 .3 -10 .3 8.5 .4 -10.4 .3 7.3 .3 -9 .4 10.6 .3 -9 .3 14.2 .4 -12.9 .3 5.9 .3 -6.8 .4 9.1 .3 -7.6 .3 5.4 .4 -5.7 .3 5.9 .3 -6.7 .4 6.2 .3 -5.1 .3 7 .4 -7.4 .3 5.9 .3 -5.9 .4 7.5 .3 -8 .3 8 .4 -8.9 .3 8.9 .3 -9.7 .4 10 .3 -8.4 .3 7.7 .4 -8.9 .3 7.5 .3 -5.8 .4 5 .3 -8.5 .3 11.9 .4 -7.4 .3 6.9 .3 -8.1 .4 5.3 .3 -5.9 .3 6.6 .4 -5.5 .3 9.5 .3 -11.7 .4 8 .3 -5.5 .3 5.6 .4 -6.9 .3 7.7 .3 -6.5 .4 6.8 .3 -7.8 .3 7.9 .4 -8.1 .3 7 .3 -6.2 .4 -9.9 .3 23 .3 -5.3 .4 -8.3 .3 6 .3 -5.8 .4 7.2 .3 -7.5 .3 7.1 .4 -6.9 .3 7.5 .3 -7.5 .4 6.5 .3 -4.8 .3 3.8 .4 -4.4 .3 5.4 .4 -5.2 .3 5 .3 -4.7 .4 4.1 .3 -4.4 .3 5.5 .4 -7.2 .3 7.4 .3 -5.9 .4 5 .3 -4.9 .3 5.4 .4 -5.7 .3 5.2 .3 -5.4 .4 5.6 .3 -4.9 .3 4.9 .4 -4.7 .3 4.3 .3 -6.3 .4 6.4 .3 -4.5 .3 4 .4 -5.9 .3 5.4 .3 -3.7 .4 4.9 .3 -6 .3 5.1 .4 -4.1 .3 3.9 .3 -5.7 .4 7.7 .3 -6.8 .3 5.8 .4 -4.7 .3 4.3 .3 -4.2 .4 3.5 .3 -4.3 .3 4.5 .4 -4.9 .3 5.5 .3 -7.7 .4 8.3 .3 -6.3 .3 7.2 .4 -6.4 .3 4.7 .3 -5.8 .4 6.1 .3 -4.5 .3 5.2 .4 -5.1 .3 4.2 .3 -4.5 .4 3.5 .3 4.8 .3 -10 .4 1.3 .3 6.8 .3 -6.1 .4 4.7 .3 -5.5 .3 5 .4 -4.2 .3 3.4 .3 -5.2 .4 6.8 .3 -6 .3 5.6 .4 -4.6 .3 6.7 .3 -7.1 .4 5.3 .3 -5.8 .3 7.7 .4 -6.5 .3 4.2 .3 -4.8 .4 3.9 .3 -5.1 .3 5.7 .4 -3.9 .3 3.6 .3 -4.1 .4 4.2 .3 -4.4 .3 5.4 .4 -5.2 .3 3.7 .3 -4.3 .4 4.9 .3 -5.3 .3 5 .4 -4.5 .3 4.1 .3 -3.6 .4 4.3 .3 -5 .4 5.6 .3 -5.1 .3 5.6 .4 -5.9 .3 5.1 .3 -4.2 .4 3.7 .3 -5.6 .3 5.5 .4 -3.7 .3 6.2 .3 -6.9 .4 5.7 .3 -6 .3 4.6 .4 -3.8 .3 4.3 .3 -6.2 .4 6 .3 -4 .3 3.7 .4 -4 .3 4.1 .3 -3.1 .4 2.6 .3 -3.6 .3 4.7 .4 -5.5 .3 7 .3 -6.3 .4 5.4 .3 -4.2 .3 3.6 .4 -5.3 .3 4.4 .3 -3.1 .4 3.7 .3 -4.1 .3 4.4 .4 -4.2 .3 3.4 .3 -4.5 .4 5.1 .3 -5.4 .3 5.1 .4 -5.1 .3 4.6 .3 -2.8 .4 3.8 .3 -4.7 .3 5.2 .4 -5.5 .3 4.5 .3 -3.6 .4 3.8 .3 -4 .3 4.4 .4 -4.7 .3 4.4 .3 -4 .4 3.6 .3 -3.4 .3 2.7 .4 -3.3 .3 3.5 .3 -4.4 .4 4.2 .3 -2.6 .3 2.8 .4 -3 .3 3.6 .3 -4.4 .4 3.7 .3 -2.7 .3 2.8 .4 -2.9 .3 3.4 .3 -3.9 .4 3.9 .3 -3.9 .3 4.2 .4 -3.9 .3 3.2 .3 -6.1 .4 6.6 .3 -4.5 .3 4.5 .4 -3.9 .3 4.1 .3 -3.6 .4 3.8 .3 -4.2 .3 3.9 .4 -3.4 .3 4 .3 -5.3 .4 4.7 .3 -3.9 .3 -1.1 .4 8 .3 -3.4 .3 -4 .4 4.7 .3 -4.4 .4 4.9 .3 -4.9 .3 3.9 .4 -4.2 .3 3.7 .3 -3.8 .4 4.4 .3 -4 .3 3.5 .4 -3.9 .3 4.2 .3 -3.8 .4 3.6 .3 -3.9 .3 5.2 .4 -5.4 .3 4.4 .3 -3 .4 3.7 .3 -5.3 .3 4.2 .4 -3.2 .3 3.3 .3 -3 .4 4.9 .3 -5 .3 4.9 .4 -4.8 .3 3.1 .3 -5.3 .4 6.5 .3 -4.1 .3 3.5 .4 -4.5 .3 4 .3 -3.5 .4 3.6 .3 -4.2 .3 4.4 .4 -3.8 .3 3.2 .3 -3.2 .4 3.7 .3 -3.1 .3 2.6 .4 -2.3 .3 3 .3 -4.2 .4 3.4 .3 -3.1 .3 3.7 .4 -3.9 .3 3.6 .3 -3 .4 3.1 .3 -4 .3 4.6 .4 -3.5 .3 4.8 .3 -5.4 .4 3.8 .3 -3.5 .3 4.1 .4 -5.7 .3 4.7 .3 -4 .4 5.1 .3 -4.1 .3 3.6 .4 -4.1 .3 3.9 .3 -4.4 .4 3.7 .3 -4.3 .3 6.1 .4 -7.1 .3 6.4 .3 -4 .4 3.3 .3 -3.5 .3 3.7 .4 -3.3 .3 2.6 .3 -2.7 .4 3 .3 -2.9 .3 2.7 .4 -3.1 .3 3.1 .3 -3.3 .4 4.7 .3 -4.2 .3 3.5 .4 -3.9 .3 3.2 .3 -3.1 .4 3.2 .3 -3.4 .3 4.4 .4 -4.3 .3 3.9 .4 -3.6 .3 4.3 .3 -3.7 .4 3.4 .3 -3.6 .3 2.8 .4 -3.3 .3 5.3 .3 -5.1 .4 3.2 .3 -5.5 .3 5.3 .4 -3 .3 2.9 .3 -3.5 .4 4.3 .3 -4.3 .3 3.6 .4 -3.5 .3 3.9 .3 -3.1 .4 2.8 .3 -3.9 .3 4 .4 -3.3 .3 3.5 .3 -4.1 .4 3.2 .3 -3 .3 4.5 .4 -4.1 .3 4.3 .3 -4.2 .4 3.3 .3 -3.5 .3 3.6 .4 -4.1 .3 4 .3 -4.6 .4 4.7 .3 -4.3 .3 4.5 .4 -3.5 .3 2.7 .3 -3.1 .4 4 .3 -3 .3 2.6 .4 -3.2 .3 3.4 .3 -3.1 .4 2.4 .3 -2.7 .3 3.1 .4 -3.1 .3 2.8 .3 -2.5 .4 3.5 .3 -4.8 .3 3.5 .4 -2.2 .3 3.3 .3 -5.5 .4 4.9 .3 -3.5 .3 2.8 .4 -2.7 .3 3.1 .3 -2.7 .4 4.1 .3 -5 .3 6 .4 -5.5 .3 3.1 .3 -2.5 .4 2.2 .3 -2.4 .3 2.9 .4 -2.9 .3 3.4 .3 -4.2 .4 3.4 .3 -2.6 .3 3.3 .4 -3.9 .3 3.3 .3 -3 .4 4.1 .3 -4.4 .3 4.2 .4 -3.8 .3 2.7 .3 -2.5 .4 4.2 .3 -4.8 .3 3.8 .4 -3.4 .3 3.2 .3 -3.2 .4 2.8 .3 -3.4 .4 3.8 .3 -3.6 .3 3.6 .4 -4.4 .3 4.4 .3 -3.2 .4 3.6 .3 -4.6 .3 3.8 .4 -2.7 .3 4.3 .3 -4.1 .4 3.1 .3 -3.1 .3 3.2 .4 -3.8 .3 3.6 .3 -3.3 .4 2.8 .3 -3.1 .3 2.8 .4 -3.4 .3 3.8 .3 -2.6 .4 3.5 .3 -4.2 .3 4 .4 -4.1 .3 4.8 .3 -4.5 .4 3.7 .3 -4.4 .3 4 .4 -3 .3 3.2 .3 -3.9 .4 3.5 .3 -3 .3 3.8 .4 -3.6 .3 3.1 .3 -4.7 .4 4.6 .3 -4.4 .3 4.6 .4 -3.4 .3 3.5 .3 -4.8 .4 6.7 .3 -5.3 .3 3.2 .4 -3.4 .3 3.3 .3 -2.9 .4 3 .3 -3.6 .3 3.4 .4 -3.7 .3 4.3 .3 -4 .4 3.3 .3 -3.5 .3 4.2 .4 -3.2 .3 3.1 .3 -4.1 .4 4 .3 -3 .3 2.5 .4 -3.7 .3 4.6 .3 -3.9 .4 3 .3 -3.4 .3 3.9 .4 -3.3 .3 3.7 .3 -3.8 .4 3.5 .3 -3.6 .3 3.6 .4 -4.6 .3 4.6 .3 -3.3 .4 3.7 .3 -5.2 .3 4.1 .4 -3.3 .3 3.3 .3 -2.7 .4 3.2 .3 -3.1 .3 3.8 .4 -6.2 .3 6.1 .3 -4.3 .4 3.9 .3 -3.5 .3 3.5 .4 -4.3 .3 5.4 .3 -7.1 .4 5.5 .3 -3.9 .4 6.6 .3 -5.8 .3 3.7 .4 -4.1 .3 4.3 .3 -5.1 .4 5.3 .3 -3.8 .3 3.7 .4 -3.9 .3 3.5 .3 -4.6 .4 4.4 .3 -5.1 .3 6.1 .4 -4.3 .3 3.1 .3 -3.5 .4 4 .3 -4.1 .3 4.3 .4 -3.9 .3 4.1 .3 -4.7 .4 3.5 .3 -3.7 .3 4 .4 -3.3 .3 3.1 .3 -4.1 .4 4.8 .3 -3.9 .3 3.9 .4 -3.5 .3 3.2 .3 -4.3 .4 4.5 .3 -4.1 .3 5.4 .4 -4.7 .3 3.3 .3 -4.2 .4 4.8 .3 -4.9 .3 5.3 .4 -4.4 .3 4 .3 -4.7 .4 3.8 .3 -2.6 .3 3 .4 -3.9 .3 4.7 .3 -4.3 .4 3.9 .3 -4.3 .3 3.5 .4 -3.6 .3 5.3 .3 -5.3 .4 3.5 .3 -3.7 .3 4.6 .4 -3.6 .3 4.3 .3 -6.1 .4 4.3 .3 -3.4 .3 4.4 .4 -5.5 .3 5.2 .3 -5 .4 4.6 .3 -4.2 .3 4.5 .4 -4.2 .3 3.4 .3 -2.1 .4 2.7 .3 -4.1 .3 4.6 .4 -4.7 .3 4.6 .3 -3.2 .4 4 .3 -4.6 .3 3.6 .4 -2.8 .3 2.7 .3 -4.2 .4 5.3 .3 -4.7 .3 4 .4 -3.4 .3 2.7 .3 -2.8 .4 3.1 .3 -4.8 .3 4.9 .4 -3.7 .3 3.4 .4 -3.1 .3 2.9 .3 -3.8 .4 3.9 .3 -3.2 .3 5.1 .4 -5.6 .3 3.8 .3 -2.9 .4 3.3 .3 -4.1 .3 4.3 .4 -4.1 .3 3.4 .3 -2.7 .4 2.8 .3 -3.6 .3 3.7 .4 -3.7 .3 3.8 .3 -3 .4 3.3 .3 -4.1 .3 4.1 .4 -3.4 .3 3 .3 -3.9 .4 3.9 .3 -3.6 .3 3.9 .4 -3.2 .3 3.6 .3 -3.9 .4 3.3 .3 -3.4 .3 3.9 .4 -4 .3 3.7 .3 -3.4 .4 3.4 .3 -2.9 .3 2.5 .4 -3.8 .3 4.2 .3 -3.3 .4 4 .3 -4 .3 3.1 .4 -3.1 .3 4.4 .3 -5.7 .4 4.6 .3 -3.2 .3 3 .4 -4.2 .3 3.7 .3 -2.6 .4 2.7 .3 -3.7 .3 4 .4 -3.6 .3 3.2 .3 -3.2 .4 3.4 .3 -4.4 .3 5.4 .4 -5.9 .3 4.7 .3 -2.8 .4 3.7 .3 -3.8 .3 4.9 .4 -5 .3 3.6 .3 -4.4 .4 5.4 .3 -5 .3 3.9 .4 -3 .3 4 .3 -3.7 .4 2.6 .3 -4.9 .3 4.6 .4 -3.4 .3 4 .3 -3.1 .4 3.1 .3 -3.9 .3 3.6 .4 -2.9 .3 3.6 .3 -4.2 .4 3.8 .3 -4.8 .3 5.3 .4 -4.2 .3 3.8 .3 -4.6 .4 4.5 .3 -4.2 .4 6 .3 -6.7 .3 5.2 .4 -4 .3 3.4 .3 -3.8 .4 5.4 .3 -5 .3 6.3 .4 -6.5 .3 3.6 .3 -3 .4 4.4 .3 -5 .3 3.7 .4 -2.8 .3 2.9 .3 -4.3 .4 5.3 .3 -4.3 .3 3.8 .4 -3.6 .3 3.1 .3 -4 .4 4.3 .3 -4.2 .3 3.5 .4 -2.9 .3 5.3 .3 -5.7 .4 3 .3 -3.8 .3 4.7 .4 -4 .3 3.2 .3 -3.4 .4 3.9 .3 -5.2 .3 4.8 .4 -4.7 .3 7.1 .3 -6.4 .4 4.7 .3 -5 .3 5.1 .4 -4.4 .3 3.5 .3 -3.5 .4 5.3 .3 -5 .3 4.1 .4 -3.4 .3 3 .3 -3.9 .4 4.7 .3 -5 .3 4.5 .4 -4.5 .3 4 .3 -4.4 .4 4.2 .3 -3.1 .3 3.8 .4 -3.5 .3 2.9 .3 -5.4 .4 6.5 .3 -4.2 .3 3.6 .4 -4.9 .3 5.7 .3 -4.1 .4 3.4 .3 -5.4 .3 4.9 .4 -3.1 .3 4.3 .3 -4.2 .4 4.5 .3 -4.5 .3 3.2 .4 -3.1 .3 4.8 .3 -6.3 .4 4.6 .3 -4.3 .3 4.7 .4 -4.6 .3 4.6 .3 3.9 .4 -10 .3 2.1 .3 4.4 .4 -4.3 .3 5.4 .3 -5.1 .4 5.1 .3 -5.6 .3 3.8 .4 -3.8 .3 4.3 .3 -5.1 .4 5.4 .3 -5.2 .4 5.3 .3 -6.8 .3 6.9 .4 -5.5 .3 5.2 .3 -4.9 .4 4.4 .3 -3.6 .3 3.4 .4 -3.8 .3 3.7 .3 -4.3 .4 5.2 .3 -4.7 .3 4.1 .4 -6.2 .3 7.3 .3 -5.4 .4 4.7 .3 -5.9 .3 6.4 .4 -4.5 .3 3.2 .3 -4.1 .4 3.7 .3 -3.8 .3 5.6 .4 -6.3 .3 7.1 .3 -6.6 .4 5.7 .3 -4.8 .3 4.5 .4 -4 .3 3.2 .3 -3.6 .4 3.5 .3 -5 .3 6 .4 -4.2 .3 3.4 .3 -4.6 .4 4.7 .3 -5.5 .3 6.5 .4 -7.2 .3 5.7 .3 -3.5 .4 6.1 .3 -5.5" fill="none" stroke="#000" stroke-width="1.1" stroke-linejoin="miter" stroke-miterlimit="2"/>
<path d="M586.0 357.0l.3 -25.3 .4 26.3 .3 16.2 .3 -53 .4 7.5 .3 24.8 .3 -26.6 .4 32.1 .3 -27 .3 25.3 .4 -19.6 .3 -9.5 .3 44 .4 -18.9 .3 -17.4 .3 27.7 .4 -26.8 .3 25.8 .3 -30.4 .4 31.1 .3 -25.6 .3 22.3 .4 -19.9 .3 12.9 .3 -12.9 .4 23.2 .3 -23.6 .3 11.2 .4 -9.4 .3 15.2 .3 -17.6 .4 15.3 .3 -15.6 .3 14.6 .4 -14.9 .3 11.2 .3 -9.1 .4 12 .3 -9.9 .3 7.7 .4 -7.8 .3 9.4 .3 -9 .4 9.4 .3 -14.4 .3 14.3 .4 -10.5 .3 9.7 .3 -15.6 .4 17 .3 -14.6 .3 12.8 .4 -12.1 .3 13 .3 -13.8 .4 13.1 .3 -13.7 .4 21.1 .3 -20.8 .3 16.4 .4 -22.2 .3 20.7 .3 -19.4 .4 22.6 .3 -18.1 .3 19.6 .4 -23.7 .3 27 .3 -27.5 .4 25.3 .3 -30 .3 27.1 .4 -16.7 .3 21.4 .3 -24.7 .4 20 .3 -20.6 .3 20.2 .4 -27.5 .3 29.5 .3 21.9 .4 -55 .3 12.1 .3 15 .4 -20.8 .3 22 .3 -17.7 .4 29.6 .3 -37.9 .3 28.3 .4 -22.3 .3 24.6 .3 27.1 .4 -58 .3 6.4 .3 31.9 .4 -28.9 .3 30.8 .3 -41.5 .4 31.4 .3 -23.9 .3 23.3 .4 -29.9 .3 33.5 .3 -25.3 .4 20.2 .3 -16.5 .3 16.7 .4 -17.1 .3 21.7 .3 -21.7 .4 22.3 .3 -21.3 .3 17.5 .4 -21.6 .3 20.7 .3 -20 .4 21.5 .3 -22.8 .3 19.9 .4 -16.2 .3 15.6 .3 -23.5 .4 26.9 .3 -18.1 .3 22.4 .4 -23.3 .3 23.5 .3 -21.2 .4 16.6 .3 -19.4 .3 14.7 .4 -19.8 .3 24.4 .3 -21 .4 17.3 .3 -11.9 .3 11.7 .4 -14.4 .3 17.9 .3 -15.3 .4 10 .3 -12.1 .3 13.8 .4 -13.9 .3 17.9 .3 -14.5 .4 11.6 .3 -11.4 .3 10.9 .4 -11.8 .3 11.3 .3 -9.9 .4 9 .3 -9.6 .3 13 .4 -15.2 .3 15.6 .3 -15.1 .4 13.6 .3 -12.3 .3 12.9 .4 -16 .3 11.4 .3 -8.3 .4 12.7 .3 -12.9 .3 8.8 .4 -8.1 .3 9.2 .4 -9.5 .3 8.9 .3 -8.3 .4 10.2 .3 -12.2 .3 12.4 .4 -10.7 .3 8.3 .3 -7.4 .4 7.6 .3 -8.2 .3 8.8 .4 -8.9 .3 7.3 .3 -6.3 .4 9.6 .3 -11.6 .3 9.2 .4 -8.6 .3 12.9 .3 -14.4 .4 12.4 .3 -10 .3 7.4 .4 -9.4 .3 11.3 .3 -11.1 .4 12.8 .3 -15.8 .3 15.7 .4 -13.4 .3 11.2 .3 -11.5 .4 15.2 .3 -17.2 .3 16.4 .4 -15.9 .3 15 .3 -14 .4 11.9 .3 -11 .3 16.5 .4 -20.7 .3 15.3 .3 -9.3 .4 9.5 .3 -9.5 .3 11.7 .4 -17.4 .3 13.6 .3 -11.8 .4 17 .3 -15 .3 10.9 .4 -11.8 .3 15.5 .3 -14.6 .4 14.3 .3 -14.6 .3 13.1 .4 -14.8 .3 14.8 .3 -12.1 .4 17.6 .3 -21 .3 16.2 .4 -12.7 .3 9.5 .3 -14.5 .4 16.7 .3 -18.4 .3 16.4 .4 -8.9 .3 10.3 .3 -14.4 .4 12.2 .3 -16.8 .3 20.2 .4 -18.9 .3 26 .3 -20.1 .4 15.8 .3 -14.7 .3 14.2 .4 -17 .3 16.5 .3 -13.4 .4 10.1 .3 -10.4 .3 10.1 .4 -12.7 .3 15.4 .3 -12.9 .4 14.3 .3 -15.5 .3 14 .4 -15.9 .3 17.9 .3 -16.6 .4 12.8 .3 -15.5 .3 19.8 .4 -20.3 .3 15.8 .3 -11.6 .4 12.2 .3 -20.9 .3 20.3 .4 -10.6 .3 10.9 .4 -14.6 .3 12.4 .3 -8.6 .4 12.6 .3 -13.3 .3 8.3 .4 -11.4 .3 15.4 .3 -13.1 .4 16.4 .3 -19 .3 17 .4 -14.4 .3 11.9 .3 -9 .4 8 .3 -9.3 .3 9.3 .4 -8.6 .3 10.6 .3 -10.5 .4 7.3 .3 -8.6 .3 10.3 .4 -13.2 .3 11.9 .3 -7.4 .4 7.4 .3 -9.5 .3 9.5 .4 -9.1 .3 9.4 .3 -7.3 .4 6.2 .3 -6.1 .3 9.2 .4 -9.1 .3 8 .3 -9.9 .4 8.9 .3 -8.1 .3 10 .4 -9.2 .3 9.5 .3 -9.8 .4 6.8 .3 -7.9 .3 8.3 .4 -10.2 .3 9.8 .3 -6.5 .4 8.3 .3 -8.7 .3 8.9 .4 -10.3 .3 11.1 .3 -10 .4 8.8 .3 -10 .3 8.4 .4 -6.8 .3 10.6 .3 -9.9 .4 7.7 .3 -10 .3 7.4 .4 -7.2 .3 9.3 .3 -8.9 .4 7.7 .3 -6.3 .3 6.6 .4 -6 .3 5.9 .3 -5.7 .4 5.5 .3 -5.3 .3 4.8 .4 -5.4 .3 6.7 .3 -9.8 .4 9 .3 -5.6 .3 8.1 .4 -9.1 .3 9.9 .3 -11.7 .4 8.8 .3 -7.8 .3 7.7 .4 -9.7 .3 9.6 .3 -6.9 .4 9.4 .3 -13 .3 10 .4 -6.7 .3 8.9 .3 -7.8 .4 5.2 .3 -6.7 .3 7.4 .4 -7.6 .3 8.9 .3 -8.8 .4 9 .3 -7.7 .3 6.1 .4 -5.7 .3 5.9 .3 -6.8 .4 8.7 .3 -10.3 .4 9.1 .3 -6.6 .3 5.1 .4 -6.8 .3 10.4 .3 -9.9 .4 7.1 .3 -6.9 .3 8 .4 -8.7 .3 7.5 .3 -7.1 .4 8.5 .3 -8.9 .3 8.1 .4 -10.1 .3 10.9 .3 -7.2 .4 7.9 .3 -9.8 .3 7.9 .4 -7.3 .3 11.4 .3 -9.8 .4 7.5 .3 -9.4 .3 7.6 .4 -8.4 .3 8.5 .3 -7.7 .4 9.2 .3 -9.7 .3 8.5 .4 -7.9 .3 7.8 .3 -6.8 .4 6.2 .3 -6.3 .3 7.7 .4 -7.9 .3 8.1 .3 -8.7 .4 6.5 .3 -6.6 .3 9.9 .4 -9.1 .3 7.4 .3 -9 .4 9.3 .3 -8.2 .3 8.9 .4 -8.8 .3 8.5 .3 -7.5 .4 9.1 .3 -10.9 .3 9.4 .4 -11.6 .3 11.2 .3 -14.5 .4 15.6 .3 -12.6 .3 17.4 .4 -21.8 .3 17.8 .3 -25.3 .4 29.2 .3 -24.8 .3 35.4 .4 -28.9 .3 27.2 .3 -41.1 .4 42 .3 -39.2 .3 43.4 .4 -36.4 .3 29.6 .3 -36.4 .4 35.5 .3 -36.9 .3 -9.6 .4 72 .3 -20.7 .3 -48.5 .4 55.3 .3 -43.5 .3 28.9 .4 -25.6 .3 23 .3 -21.6 .4 36 .3 -51.7 .3 49.5 .4 -39.3 .3 36.6 .3 4.6 .4 -47 .3 .8 .3 44.1 .4 -35.7 .3 33.3 .3 -51.5 .4 45.1 .3 -33.9 .3 40.1 .4 -39.3 .3 29.4 .3 -31.3 .4 41 .3 -43.4 .3 39.5 .4 -33.4 .3 33.2 .4 -41.9 .3 39.6 .3 -26.8 .4 23.9 .3 -19.9 .3 28.7 .4 -32 .3 25.7 .3 -34 .4 46.9 .3 -39.1 .3 27.4 .4 -27.6 .3 28 .3 -40.3 .4 37.1 .3 -29.9 .3 34.1 .4 -27 .3 22.1 .3 -26.4 .4 30.9 .3 -35.1 .3 30.9 .4 -26.5 .3 25.5 .3 -22.5 .4 33.2 .3 -31.7 .3 30.6 .4 4.1 .3 -48 .3 -4.1 .4 39.1 .3 -19.5 .3 18.9 .4 -22.1 .3 33.4 .3 -37.1 .4 26.3 .3 -22.2 .3 22.3 .4 -30.6 .3 31.1 .3 -21.7 .4 21.3 .3 -24.6 .3 29.4 .4 -39.1 .3 34.8 .3 -21.9 .4 22.9 .3 -23.3 .3 23.3 .4 -22.3 .3 24.2 .3 -24.3 .4 18.7 .3 -28.2 .3 31.6 .4 -31.4 .3 33.9 .3 -23.7 .4 27.4 .3 -34.4 .3 -2.1 .4 48 .3 -17.8 .3 -31.2 .4 35.5 .3 -27.5 .3 26.4 .4 -26.8 .3 22.2 .3 -27.6 .4 33 .3 -27.8 .3 19.2 .4 -24 .3 28 .3 -21 .4 19.1 .3 -18.6 .3 22.1 .4 -26 .3 20.4 .3 -19.5 .4 25.1 .3 -25.2 .3 20.3 .4 -17.9 .3 17.9 .3 -22 .4 28.1 .3 -24.7 .3 18 .4 -16.1 .3 22.3 .3 -23.3 .4 17.4 .3 -18.3 .3 26.7 .4 -22.9 .3 15.9 .3 14.6 .4 -39 .3 6.3 .3 15.9 .4 -24.9 .3 27.3 .3 -16.1 .4 14.7 .3 -19.6 .4 20.7 .3 -15.9 .3 12.3 .4 -12.9 .3 14.3 .3 -12.2 .4 12.8 .3 -18.8 .3 16.4 .4 -10.5 .3 11.4 .3 -14.7 .4 12.8 .3 -12.2 .3 15.6 .4 -12.3 .3 9.4 .3 -11.6 .4 13.2 .3 -15.6 .3 16 .4 -12.2 .3 11 .3 -13.4 .4 13.4 .3 -10.3 .3 9.4 .4 -11 .3 12.9 .3 -10.2 .4 9.7 .3 -11.6 .3 10.8 .4 -8.7 .3 7.7 .3 -8.7 .4 7.8 .3 -8.1 .3 7.8 .4 -6.8 .3 7.9 .3 -7.8 .4 6.4 .3 -7.9 .3 12.4 .4 -14.5 .3 9.5 .3 -4.8 .4 6.9 .3 -6 .3 4.6 .4 -4.9 .3 5.3 .3 -6.5 .4 7.6 .3 -8.6 .3 6.8 .4 -5.5 .3 4.6 .3 -4 .4 5.1 .3 -5.4 .3 4.7 .4 -4.9 .3 4.4 .3 -4.2 .4 5.4 .3 -4.8 .3 4.2 .4 -5.3 .3 4.6 .3 -3.9 .4 5.5 .3 -5.7 .3 4.3 .4 -6 .3 6.8 .3 -4 .4 3.6 .3 -6.2 .3 5.5 .4 -3.3 .3 4.9 .3 -4.7 .4 4.2 .3 -4.6 .3 5.6 .4 -7 .3 5.6 .3 -4.4 .4 7 .3 -7.9 .3 5.2 .4 -4.5 .3 6 .3 -6.7 .4 9.3 .3 -9.7 .3 7.7 .4 -8 .3 7.3 .3 -7 .4 11.8 .3 -15 .3 10.4 .4 -9.9 .3 15.4 .3 -13 .4 12.1 .3 -15.1 .3 13.8 .4 -12.7 .3 10.6 .4 -21.9 .3 24.2 .3 -17 .4 16.2 .3 -11.7 .3 11.3 .4 -10.5 .3 12.3 .3 -15.9 .4 20 .3 -16.5 .3 16.9 .4 -24 .3 20.4 .3 -16.8 .4 16.6 .3 -18.2 .3 13.6 .4 -8.6 .3 10.1 .3 -11.6 .4 10.7 .3 -10.4 .3 14.3 .4 -14.2 .3 17.9 .3 -16.6 .4 10.1 .3 -13.2 .3 14.1 .4 -15.1 .3 12.8 .3 -11.8 .4 12.7 .3 -9.9 .3 13.1 .4 -14.9 .3 12.3 .3 -12.1 .4 14.1 .3 -17.7 .3 16.5 .4 -11.9 .3 10.8 .3 -10.7 .4 13.1 .3 -17.3 .3 15.5 .4 -11 .3 11.6 .3 -12 .4 12.3 .3 -16.9 .3 15.3 .4 -13.6 .3 13.6 .3 -11.6 .4 11.9 .3 -15.7 .3 14.7 .4 -13.7 .3 15.4 .3 -13.7 .4 16.4 .3 -16.2 .3 14.1 .4 -16.1 .3 15.7 .3 -11.1 .4 10.5 .3 -9.4 .3 9.1 .4 -10 .3 12.7 .3 -13.7 .4 11.2 .3 -11.1 .3 14.2 .4 -13.8 .3 9.7 .3 -10.3 .4 14.4 .3 -18.9 .3 14 .4 -11.5 .3 17.7 .3 -16.6 .4 11.9 .3 -13 .3 12.7 .4 -12 .3 13.6 .3 -13.9 .4 11.6 .3 -12.8 .3 24.1 .4 -26.1 .3 17 .3 -14.5 .4 15 .3 -17.8 .3 19.3 .4 -14.3 .3 16.4 .3 -19.5 .4 16 .3 -27.9 .3 32.5 .4 -18.1 .3 12.7 .4 -12.8 .3 26.3 .3 0 .4 -42 .3 12.9 .3 14.7 .4 -15.2 .3 17.8 .3 -17.2 .4 19.5 .3 -20.5 .3 23.3 .4 -19.6 .3 18 .3 -18.3 .4 17.4 .3 -17 .3 14.4 .4 -26.5 .3 28.2 .3 -21.8 .4 18.8 .3 -15.1 .3 23.1 .4 -25.6 .3 28.5 .3 -26.4 .4 16.4 .3 -18 .3 24.4 .4 -23.4 .3 21.5 .3 -25.4 .4 23.9 .3 -28.7 .3 30.3 .4 -20.6 .3 17.6 .3 -25.8 .4 29.3 .3 -22.8 .3 18.7 .4 -19.5 .3 27.3 .3 -26.3 .4 18.9 .3 -18.1 .3 18 .4 -25.1 .3 23.7 .3 26.3 .4 -60 .3 15 .3 22.4 .4 -28.3 .3 28 .3 -26.3 .4 31.8 .3 -41.8 .3 48.2 .4 -40.9 .3 34.4 .3 13.5 .4 -50 .3 -2.1 .3 41.4 .4 -35.7 .3 26.3 .3 -32.7 .4 32.7 .3 -24.7 .3 27.2 .4 -27.7 .3 26.7 .3 -23.1 .4 25.5 .3 -38.6 .3 40.3 .4 -29 .3 25.1 .3 -21.2 .4 26.6 .3 -29.7 .3 24.6 .4 -23.5 .3 29.5 .3 -35.4 .4 36.3 .3 -31.6 .3 29.7 .4 -31.9 .3 25.4 .3 -27.9 .4 27.9 .3 -24.4 .3 28.4 .4 -24.6 .3 22 .3 16.2 .4 -48 .3 9.7 .3 18.1 .4 -19 .3 20.9 .3 -17.2 .4 15.2 .3 -16.5 .3 24.2 .4 -28.4 .3 21.2 .3 -21.8 .4 27.2 .3 -24.7 .4 31.2 .3 -31.4 .3 24.1 .4 -20.5 .3 24.8 .3 -32.2 .4 31.7 .3 -27.3 .3 21.3 .4 -21.5 .3 21.3 .3 -14.5 .4 12.4 .3 -17.7 .3 15.2 .4 -17.8 .3 29.2 .3 -25.9 .4 19.3 .3 -18.9 .3 17.1 .4 -18.9 .3 18.1 .3 -16.8 .4 18.3 .3 -20.8 .3 16.7 .4 -11.3 .3 15.5 .3 -15 .4 15.3 .3 -14.2 .3 9.9 .4 -12.3 .3 16.5 .3 -15.3 .4 10.9 .3 -11.1 .3 10.2 .4 -12.6 .3 15.9 .3 -13.2 .4 9.8 .3 -11.1 .3 12.3 .4 -10.7 .3 9.7 .3 -13.7 .4 13.6 .3 -14 .3 15.3 .4 -11.2 .3 10.5 .3 -9.1 .4 7.7 .3 -7.8 .3 7.8 .4 -11.7 .3 11.6 .3 -12.7 .4 13 .3 -8.2 .3 8.8 .4 -7.7 .3 6.3 .3 -9.7 .4 13 .3 -11 .3 12.2 .4 -12.6 .3 11.6 .3 -11.6 .4 9.7 .3 -10 .3 8.4 .4 -6.1 .3 5.4 .3 -6.5 .4 9.5 .3 -8.2 .3 5.5 .4 -7 .3 7.7 .3 -5.8 .4 6.2 .3 -6.5 .3 8.6 .4 -11.2 .3 8.2 .3 -7.3 .4 7 .3 -6 .3 6.1 .4 -6.7 .3 5.9 .3 -7.8 .4 9.6 .3 -7.1 .3 6.8 .4 -5.7 .3 5.6 .3 -6.9 .4 6.3 .3 -6.1 .3 7.8 .4 -6.5 .3 5.9 .3 -7.7 .4 6.4 .3 -7.3 .3 7.4 .4 -4.8 .3 4.6 .4 -6.3 .3 6.9 .3 -6.5 .4 6 .3 -5.7 .3 5.7 .4 -5.1 .3 4 .3 -5.4 .4 8.7 .3 -11.4 .3 10.9 .4 -7.6 .3 6.6 .3 -7.1 .4 8.4 .3 -7.9 .3 9.8 .4 -17.6 .3 15.7 .3 -11.9 .4 15.5 .3 -14.5 .3 16.5 .4 -19 .3 18.4 .3 -17.4 .4 17.9 .3 -27.4 .3 37.7 .4 -35.6 .3 24.7 .3 -31.7 .4 33.6 .3 -21.6 .3 18.5 .4 -19.7 .3 -24.5 .3 74 .4 -23.9 .3 -25.1 .3 20.8 .4 -25.3 .3 25.4 .3 -26.3 .4 29.2 .3 -30.6 .3 29.3 .4 -21.5 .3 20.2 .3 -19.6 .4 19.9 .3 -22.1 .3 24.2 .4 -26.3 .3 31.5" fill="none" stroke="#000" stroke-width="1.1" stroke-linejoin="miter" stroke-miterlimit="2"/>
<path d="M586.0 418.9l.3 -17.1 .4 16.4 .3 -13.8 .3 16.1 .4 -15.4 .3 11.8 .3 -14.7 .4 14.7 .3 -16.2 .3 16.2 .4 -11.9 .3 13.3 .3 -18.1 .4 16.4 .3 -13.6 .3 10.2 .4 -13.1 .3 17 .3 -14.2 .4 13.4 .3 -13.6 .3 18.7 .4 -18.9 .3 11.5 .3 -10.8 .4 12.8 .3 -13.1 .3 19.8 .4 -25 .3 20.8 .3 -23 .4 19.9 .3 -15.2 .3 16.9 .4 -20.7 .3 23.9 .3 -21.4 .4 27.2 .3 -29.6 .3 22.9 .4 -19.2 .3 21.9 .3 -25.7 .4 17.5 .3 -11.4 .3 16.9 .4 -21 .3 21.4 .3 -17.6 .4 18.4 .3 -17.4 .3 18.9 .4 -24.1 .3 27.5 .3 -21.7 .4 15.7 .3 18 .4 -50 .3 15.6 .3 12.1 .4 -15.9 .3 21.8 .3 -20.9 .4 27.7 .3 -27.1 .3 16.4 .4 -16 .3 18 .3 -17.9 .4 22.3 .3 -23.1 .3 17.8 .4 -24.9 .3 23.4 .3 16.7 .4 -42 .3 7 .3 22 .4 -29.3 .3 46 .3 -36.2 .4 22.6 .3 -25.7 .3 -.4 .4 42 .3 -25.2 .3 -15.4 .4 16.7 .3 -13.5 .3 13.8 .4 -20.5 .3 21.3 .3 -13 .4 17.4 .3 -19 .3 16.6 .4 -16.9 .3 13.8 .3 -15.4 .4 19.5 .3 -23.7 .3 20.7 .4 -15 .3 14.7 .3 -13.3 .4 17.9 .3 -26.1 .3 20.7 .4 -17.4 .3 19.3 .3 -13.8 .4 13 .3 -17.1 .3 17.8 .4 -17.6 .3 18.5 .3 -17.4 .4 19.8 .3 -14.4 .3 9.8 .4 -15.7 .3 18.8 .3 -15.7 .4 10.3 .3 -11.5 .3 12.4 .4 -11.5 .3 12.1 .3 -13.5 .4 13.7 .3 -12.1 .3 13.3 .4 -11.9 .3 9.4 .3 -11.4 .4 12.3 .3 -12.5 .3 12.7 .4 -10.3 .3 10.9 .3 -12 .4 10.3 .3 -12.7 .3 14 .4 -9.5 .3 10 .3 -11.2 .4 11.9 .3 -10.6 .3 7.3 .4 -6.9 .3 8.5 .3 -8.5 .4 5.9 .3 -9.2 .3 10.7 .4 -7.8 .3 8 .3 -7.4 .4 9 .3 -8.5 .3 5.4 .4 -9.1 .3 8.6 .3 -5 .4 4.5 .3 -6.7 .3 8.6 .4 -8.5 .3 7.6 .4 -5.5 .3 5.2 .3 -6.9 .4 10.4 .3 -8.6 .3 5.3 .4 -8.9 .3 9.3 .3 -4.9 .4 4 .3 -4.6 .3 5.4 .4 -7.1 .3 10.1 .3 -9.6 .4 6.6 .3 -7.2 .3 7.8 .4 -8.2 .3 9.3 .3 -10.7 .4 12.1 .3 -12.3 .3 9.1 .4 -7.9 .3 8.3 .3 -7.9 .4 7.1 .3 -7.3 .3 11 .4 -10.3 .3 8.8 .3 -8.8 .4 10 .3 -12.2 .3 10.5 .4 -14.8 .3 13.8 .3 -10 .4 12.5 .3 -10 .3 9.7 .4 -9.3 .3 7.6 .3 -8.2 .4 9.8 .3 -9.8 .3 9.1 .4 -12.9 .3 20.7 .3 -17.2 .4 7.7 .3 -9.9 .3 11.2 .4 -10.2 .3 8.6 .3 -8.7 .4 10.7 .3 -8.6 .3 9.3 .4 -12.2 .3 10.9 .3 -9 .4 7.5 .3 -7.6 .3 10.7 .4 -9.1 .3 8.1 .3 -9.4 .4 8 .3 -11.5 .3 11.1 .4 -7.5 .3 11.3 .3 -12.6 .4 9.1 .3 -6.2 .3 8.2 .4 -9 .3 6.3 .3 -8.5 .4 9.4 .3 -8.6 .3 9.2 .4 -9 .3 8.3 .3 -8 .4 8.1 .3 -7.1 .3 9.3 .4 -10.1 .3 7.8 .3 -7.7 .4 8.4 .3 -8.7 .3 7.5 .4 -7.6 .3 9.5 .3 -9.9 .4 10.1 .3 -9.7 .3 8.9 .4 -7.7 .3 7.4 .3 -9.6 .4 9.7 .3 -10.9 .3 11.4 .4 -9.1 .3 12.5 .4 -15.9 .3 13.3 .3 -9.6 .4 13.3 .3 -14.6 .3 11.3 .4 -13.4 .3 12.6 .3 -10.2 .4 14.1 .3 3.1 .3 -20 .4 1.8 .3 11.5 .3 -12.1 .4 12.5 .3 -16.1 .3 15.6 .4 -9.3 .3 9.5 .3 -13.7 .4 19.7 .3 -20.8 .3 16.2 .4 -13 .3 15.9 .3 -17.5 .4 15.4 .3 -18.1 .3 16.9 .4 -16.5 .3 16.4 .3 -12.7 .4 15.4 .3 -15.7 .3 15.9 .4 -19 .3 -14.2 .3 42 .4 -11.9 .3 -14.6 .3 24.1 .4 -24.2 .3 13.8 .3 -15.9 .4 15.3 .3 11.4 .3 -34 .4 5.7 .3 18.8 .3 -15.6 .4 16.3 .3 -16.4 .3 15.9 .4 -18.5 .3 22.1 .3 -20.5 .4 18.6 .3 -15.1 .3 19.4 .4 -21.5 .3 15.9 .3 -14.5 .4 17.7 .3 -16.3 .3 14.4 .4 -23.9 .3 26.7 .3 -17.1 .4 13.3 .3 -17.4 .3 15.9 .4 -12.1 .3 14 .3 -15.7 .4 17.2 .3 -20.7 .3 25.4 .4 -28.6 .3 25.7 .3 -18.3 .4 14.9 .3 -13.4 .3 15.5 .4 -20 .3 17 .3 -13.6 .4 18 .3 -18.6 .3 15.3 .4 -17.3 .3 16.3 .3 -14.2 .4 17.4 .3 -16.2 .3 12.2 .4 -15.8 .3 17.7 .3 -21.5 .4 19.9 .3 -14.8 .3 18.6 .4 -24.5 .3 20.4 .3 -10.3 .4 12.5 .3 -19.2 .3 15.4 .4 -10 .3 12.1 .3 -14.9 .4 13.2 .3 -13.4 .4 14.1 .3 -12.3 .3 15.1 .4 -15 .3 12.8 .3 -11 .4 14.2 .3 -16 .3 12.2 .4 -10.5 .3 16.8 .3 -15.5 .4 8.7 .3 -9.1 .3 10.4 .4 -11.4 .3 14.5 .3 -15.4 .4 11.4 .3 -16.5 .3 20.4 .4 -17.7 .3 14 .3 -11.8 .4 10.2 .3 -7.3 .3 8.7 .4 -10 .3 11.3 .3 1.2 .4 -18 .3 5.8 .3 9.3 .4 -12.5 .3 13.2 .3 -10.5 .4 9 .3 -9.9 .3 8.7 .4 -7 .3 7.9 .3 -11.5 .4 12.4 .3 -8.4 .3 7.5 .4 -10.2 .3 10.1 .3 -7.4 .4 7.3 .3 -7.2 .3 7 .4 -7.7 .3 11.5 .3 -12.4 .4 10 .3 -10.2 .3 9 .4 -7.5 .3 9.8 .3 -8.2 .4 4.5 .3 -6.2 .3 7.7 .4 -7.3 .3 8.1 .3 -12 .4 11.1 .3 -6.8 .3 6.9 .4 -7.7 .3 8.6 .3 -8.5 .4 7.8 .3 -7.2 .3 8.6 .4 -11.2 .3 9.7 .3 -6.8 .4 6.9 .3 -6.8 .3 5.4 .4 -7.2 .3 6.8 .3 -5.9 .4 6.6 .3 -5.8 .3 5.6 .4 -6.8 .3 6.4 .3 -6.1 .4 6.9 .3 -6 .3 6.3 .4 -6.9 .3 5.7 .3 -6.7 .4 8.3 .3 -7.3 .3 6.9 .4 -7.5 .3 6.8 .3 -6 .4 5.9 .3 -5.4 .3 5.6 .4 -7.4 .3 8.6 .3 -8.7 .4 7.6 .3 -5.8 .3 5.8 .4 -6.2 .3 5.5 .4 -5.5 .3 4.8 .3 -3.7 .4 5.4 .3 -6.3 .3 6.1 .4 -5.8 .3 6.1 .3 -6.3 .4 6.4 .3 -6.1 .3 4.6 .4 -4.2 .3 5.2 .3 -6 .4 5.9 .3 -5.3 .3 4.9 .4 -5.4 .3 5.5 .3 -5.9 .4 7.5 .3 -5.8 .3 3.7 .4 -4.4 .3 4.6 .3 -5.9 .4 7.5 .3 -6.6 .3 5.9 .4 -5.6 .3 4.2 .3 -3.8 .4 5.2 .3 -6 .3 6.1 .4 -5.5 .3 4.4 .3 -6.1 .4 8 .3 -5.9 .3 6.6 .4 -7.4 .3 4.7 .3 -4.6 .4 4.6 .3 -4.8 .3 4.5 .4 -3.4 .3 3.1 .3 -3.3 .4 3.2 .3 -4.7 .3 5.2 .4 -3.8 .3 3.3 .3 -3.7 .4 5.5 .3 -5.2 .3 5.5 .4 -5.2 .3 3.4 .3 -3.7 .4 4.1 .3 -4.2 .3 3.6 .4 -4.8 .3 5.6 .3 -3.9 .4 4.2 .3 -4.8 .3 4.4 .4 -4.5 .3 6.2 .3 -5.7 .4 3.9 .3 -5.2 .3 6.8 .4 -5.1 .3 2.9 .3 -3.6 .4 4.5 .3 -4.2 .3 4.1 .4 -6.2 .3 6.6 .3 -4.9 .4 4.5 .3 -6.2 .3 7.6 .4 -5.4 .3 4.1 .3 -5 .4 5.1 .3 -3.9 .3 3.5 .4 -4.9 .3 5.6 .3 -4.8 .4 4.9 .3 -5.3 .3 5.1 .4 -5.6 .3 4.8 .3 -3.4 .4 4.3 .3 -6 .3 5.1 .4 -6 .3 8.4 .3 9.7 .4 -30 .3 14.7 .4 3.5 .3 -5.9 .3 5.5 .4 -4.1 .3 4.7 .3 -5.2 .4 5.8 .3 -5.6 .3 4.5 .4 -5.3 .3 5.6 .3 -5.2 .4 4.9 .3 -5.4 .3 7 .4 -6.1 .3 5.8 .3 -5.2 .4 5.7 .3 -6 .3 4.9 .4 -5.7 .3 5.4 .3 -5.1 .4 5.1 .3 -6.6 .3 8 .4 -6.2 .3 5.1 .3 -7.4 .4 8.3 .3 -7.4 .3 6.3 .4 -6.4 .3 8.5 .3 -7 .4 5.7 .3 -5.4 .3 5.3 .4 -7 .3 7.1 .3 -7.3 .4 8.9 .3 -8.6 .3 9.7 .4 -8.3 .3 7.7 .3 -9.9 .4 8.5 .3 -8.5 .3 8.5 .4 -7.1 .3 6.4 .3 -5.9 .4 12 .3 -13.5 .3 7.9 .4 -7.5 .3 7.7 .3 -8.5 .4 9.3 .3 -13.9 .3 18.7 .4 -14.6 .3 8.9 .3 -13.5 .4 17.6 .3 -14.7 .3 14.2 .4 -10.8 .3 10.5 .3 -13.9 .4 16.3 .3 -15.3 .3 12.3 .4 -16.8 .3 14.9 .3 -14.1 .4 13.9 .3 -11.4 .3 12.9 .4 -12.7 .3 11 .3 -13.9 .4 15.7 .3 -15 .3 13.5 .4 -11.6 .3 21.4 .3 -21.5 .4 21.1 .3 -23.8 .3 16 .4 -22.1 .3 28.1 .3 -21.2 .4 -14.9 .3 52 .3 -15 .4 -23.2 .3 17.2 .3 -15.7 .4 19.7 .3 -17.3 .3 15.6 .4 -19.9 .3 26.2 .3 -27.8 .4 21.5 .3 -26.2 .3 25.5 .4 21.4 .3 -50 .4 9.7 .3 17.8 .3 -19.5 .4 21 .3 -22.5 .3 23.2 .4 -15.7 .3 20.1 .3 -24.3 .4 25.5 .3 -28.3 .3 28.1 .4 -23.7 .3 15.4 .3 -16.4 .4 17.6 .3 -18.3 .3 17.5 .4 -18 .3 -7.2 .3 44 .4 -8.6 .3 -26.6 .3 17.7 .4 -21.6 .3 22.4 .3 -17.2 .4 18.6 .3 -18 .3 28.9 .4 -34 .3 21.4 .3 -25 .4 26.2 .3 -16.6 .3 19 .4 -21.6 .3 18 .3 -14.4 .4 20.9 .3 -22.5 .3 25 .4 -26.6 .3 17.4 .3 -22.9 .4 21.6 .3 -20.7 .3 21.4 .4 -19.8 .3 19.7 .3 -19.4 .4 18.1 .3 -23.3 .3 29.2 .4 -19.1 .3 10.7 .3 -11.1 .4 17 .3 -16.3 .3 11.3 .4 -11.2 .3 14.3 .3 -13.8 .4 17.2 .3 -23.5 .3 18.2 .4 -13.6 .3 16.1 .3 -14.1 .4 16.4 .3 -15.8 .3 8.9 .4 -9.1 .3 13.5 .3 -14.5 .4 10.4 .3 -10.5 .3 17.2 .4 -16 .3 9.4 .3 -12.1 .4 16.1 .3 -14.7 .3 12.1 .4 -11.1 .3 11.5 .3 -11.8 .4 13.2 .3 -10.9 .3 8.5 .4 -10.9 .3 15.7 .3 -14.2 .4 7.9 .3 -7.3 .3 8.8 .4 -9 .3 10.2 .3 -11.8 .4 10.2 .3 -8.8 .3 7.1 .4 -8.1 .3 9.9 .3 -11.5 .4 10.7 .3 -9.6 .3 9.5 .4 -11.1 .3 13.2 .4 -8.9 .3 6.6 .3 -12.9 .4 14.7 .3 -11.2 .3 9.4 .4 -7.3 .3 8.3 .3 -7.7 .4 7.4 .3 -7.6 .3 6 .4 -6.1 .3 7.7 .3 -8.2 .4 6.5 .3 -6.2 .3 6.9 .4 -6.2 .3 6.4 .3 -6.6 .4 6.4 .3 -9.4 .3 9.6 .4 -7.2 .3 6.2 .3 -7 .4 6.7 .3 -6.4 .3 8 .4 -7.2 .3 5.4 .3 -7.2 .4 9.4 .3 -8 .3 5.5 .4 -4.9 .3 6.9 .3 -7.6 .4 6.2 .3 -6.7 .3 6.2 .4 -5.7 .3 6.8 .3 -6.7 .4 8.3 .3 -8.8 .3 7.5 .4 -6.2 .3 6.9 .3 -7.1 .4 5.7 .3 -5.2 .3 6.5 .4 -6.5 .3 4.9 .3 -8.9 .4 8.8 .3 -5 .3 4.8 .4 -6.8 .3 7.3 .3 -6.4 .4 6.8 .3 -5 .3 4.8 .4 -4.2 .3 3.2 .3 -5.7 .4 6.1 .3 -6.4 .3 5.8 .4 -5 .3 4.8 .3 -5.2 .4 5.9 .3 -4.9 .3 4.7 .4 -4.7 .3 5.2 .3 -5.8 .4 6 .3 -4.6 .3 4.4 .4 -4.7 .3 4.8 .3 -6.1 .4 5.6 .3 -4 .3 4.6 .4 -5.2 .3 5.5 .3 -6.8 .4 5.5 .3 -4.3 .3 5.6 .4 -6.4 .3 4.9 .3 -4.7 .4 5.1 .3 -3.8 .3 3.5 .4 -4.2 .3 4.1 .3 -3.5 .4 4 .3 -4.3 .3 -1.9 .4 14 .3 -7.2 .3 -5.6 .4 4.3 .3 -5.2 .4 5.8 .3 -4.6 .3 4.6 .4 -4.9 .3 5 .3 -5.4 .4 5.9 .3 -4.7 .3 5.2 .4 -4.7 .3 3.5 .3 -5.2 .4 6.2 .3 -5.2 .3 5.2 .4 -7 .3 5.8 .3 -6.4 .4 7.9 .3 -7 .3 5.6 .4 -7.2 .3 8.8 .3 -7.8 .4 6.8 .3 -6.9 .3 7.2 .4 -8.3 .3 7.6 .3 -4.7 .4 4.9 .3 -6.2 .3 7.6 .4 -6.6 .3 6.7 .3 -7.4 .4 7.5 .3 -6.3 .3 6.2 .4 -7.2 .3 6.2 .3 -7.9 .4 9 .3 -6.8 .3 7.2 .4 -8.4 .3 6.7 .3 -4.5 .4 5.8 .3 -7.6 .3 7.3 .4 -8.3 .3 7.8 .3 -7.5 .4 8.4 .3 -7.5 .3 8.2 .4 -7.8 .3 6 .3 -6.7 .4 6.4 .3 -5.8 .3 5.9 .4 -5.6 .3 6.1 .3 -5.6 .4 6 .3 -6.1 .3 5.6 .4 -5.8 .3 7.6 .3 -8.8 .4 8.6 .3 -7.7 .3 6.6 .4 -6.3 .3 7.4 .3 -7.8 .4 6 .3 -8.9 .3 10 .4 -8.7 .3 8.1 .3 -6.8 .4 7.1 .3 -7.4 .3 7.6 .4 -8.7 .3 9.4 .3 -7.8 .4 9.9 .3 -10.7 .3 10.4 .4 -10.6 .3 8.8 .3 -8.4 .4 6.8 .3 -9.1 .3 10.4 .4 -12.2 .3 13.4 .3 -8.8 .4 8.3 .3 -13.4 .3 14.7 .4 -10.3 .3 8.6 .3 -7.7 .4 7.8 .3 -10.1 .3 15.5 .4 -17.6 .3 15.4 .4 -14.1 .3 12.8 .3 -12.8 .4 11.7 .3 -10.6 .3 10.3 .4 -12 .3 12.5 .3 -11.1 .4 12.3 .3 -12.9 .3 11.8 .4 -10.7 .3 12.5 .3 -11.3 .4 8.7 .3 -14.6 .3 16 .4 -13.8 .3 14.3 .3 -18.7 .4 18.8 .3 -13 .3 11.2 .4 -10 .3 8.9 .3 -15.3 .4 15.6 .3 -8.8 .3 9.7 .4 -11.2 .3 13.2 .3 -15.7 .4 18.4 .3 -15.7 .3 14.5 .4 -12.5 .3 10.3 .3 -16.4 .4 14.7 .3 -9.8 .3 9.8 .4 -10.9 .3 10.5 .3 -14 .4 16.4 .3 -10.4 .3 8.5 .4 -8.9 .3 14.3 .3 -22.2 .4 16.8 .3 -10.2 .3 12.4 .4 -11.5 .3 12.2" fill="none" stroke="#000" stroke-width="1.1" stroke-linejoin="miter" stroke-miterlimit="2"/>
<path d="M586.7 281.8 C588.1 281.3 591.8 279.9 595.0 279.0 C598.2 278.1 602.5 276.2 605.7 276.3 C608.9 276.4 611.1 278.4 614.0 279.5 C616.9 280.6 620.0 283.1 623.0 282.9 C626.0 282.6 628.8 279.5 632.0 278.0 C635.2 276.5 639.2 273.9 642.5 273.7 C645.8 273.5 648.8 275.8 652.0 277.0 C655.2 278.2 657.9 281.0 661.9 281.2 C665.9 281.4 669.6 278.2 676.0 278.0 C682.4 277.8 692.8 279.2 700.0 280.0 C707.2 280.8 711.5 282.8 719.0 283.0 C726.5 283.2 735.8 281.6 745.0 281.0 C754.2 280.4 761.5 279.8 774.0 279.6 C786.5 279.4 805.0 279.4 820.0 280.0 C835.0 280.6 853.3 283.1 864.0 283.0 C874.7 282.9 876.3 280.0 884.0 279.6 C891.7 279.2 901.5 280.0 910.0 280.5 C918.5 281.0 926.5 283.2 935.0 282.5 C943.5 281.8 956.7 277.3 961.0 276.3" fill="none" stroke="#000" stroke-width="1.8" stroke-linejoin="round" stroke-linecap="round"/>
<path d="M586.2 447.4 C587.7 448.1 591.8 449.0 594.9 451.4 C598.0 453.8 601.6 458.2 604.9 461.9 C608.2 465.6 611.6 469.8 614.9 473.8 C618.2 477.8 622.0 483.1 624.8 485.8 C627.6 488.5 629.3 490.1 631.8 489.8 C634.3 489.5 636.8 487.1 639.8 483.8 C642.8 480.5 646.4 475.0 649.7 469.8 C653.0 464.6 656.7 456.9 659.7 452.9 C662.7 448.9 664.8 447.6 667.6 445.9 C670.4 444.2 673.8 442.9 676.6 442.7 C679.4 442.4 681.6 442.9 684.6 444.4 C687.6 445.9 690.4 448.3 694.5 451.9 C698.6 455.5 704.9 461.4 709.5 465.9 C714.1 470.4 719.1 475.5 722.4 478.8 C725.7 482.1 727.1 484.1 729.4 485.8 C731.7 487.5 733.9 488.9 736.4 488.8 C738.9 488.7 741.3 487.6 744.3 485.3 C747.3 483.0 751.0 477.7 754.3 474.8 C757.6 471.9 761.0 470.5 764.3 467.8 C767.6 465.1 770.8 461.7 774.2 458.4 C777.6 455.1 780.7 450.8 784.9 447.9 C789.1 445.0 795.6 441.6 799.4 440.9 C803.2 440.2 804.4 440.7 807.8 443.9 C811.2 447.1 816.1 455.6 819.8 459.9 C823.5 464.2 826.5 466.6 829.8 469.8 C833.1 473.0 836.7 477.1 839.7 479.3 C842.7 481.5 845.2 482.7 847.7 482.8 C850.2 482.9 851.9 482.3 854.7 479.8 C857.5 477.3 861.3 471.3 864.6 467.8 C867.9 464.3 870.5 461.9 874.6 458.9 C878.8 455.9 884.5 452.7 889.5 449.9 C894.5 447.1 900.0 443.9 904.5 441.9 C909.0 439.9 912.9 438.1 916.4 438.0 C919.9 437.9 921.6 438.6 925.4 441.4 C929.2 444.2 933.5 448.7 939.3 454.9 C945.1 461.1 956.7 474.8 960.2 478.8" fill="none" stroke="#000" stroke-width="2.2" stroke-linejoin="round" stroke-linecap="round"/>
<path d="M1202.6 157.0l.3 -4.5 .4 6.1 .3 -6.7 .3 5.8 .4 -5.8 .3 4.7 .3 -4 .4 4.4 .3 -5.8 .3 7.6 .4 -7.7 .3 5 .3 -6.3 .4 7.2 .3 -4.7 .3 4.8 .4 -6.5 .3 6 .3 -5.9 .4 5.9 .3 -3.8 .3 5.2 .4 -8.3 .3 6.3 .3 -4 .4 5.4 .3 -5.6 .3 5.4 .4 -5.9 .3 6.6 .3 -6.5 .4 7.5 .3 -6.5 .3 5 .4 -5.3 .3 4.4 .3 -4.7 .4 4.6 .3 -3.8 .3 3.2 .4 -4.4 .3 5 .3 -4.7 .4 5.2 .3 -4.4 .4 4.9 .3 -7.4 .3 7.3 .4 -5.8 .3 4.8 .3 -4.5 .4 4.7 .3 -5.2 .3 5.9 .4 -4.9 .3 5 .3 -6.4 .4 5.1 .3 -4.1 .3 4.2 .4 -5.4 .3 7.3 .3 -8.3 .4 6.3 .3 -3.8 .3 5.1 .4 -5.3 .3 4.3 .3 -4.8 .4 4.5 .3 -3.7 .3 5.9 .4 -6.7 .3 5.7 .3 -4.3 .4 3.6 .3 -5.4 .3 6.2 .4 -5.6 .3 5.5 .3 -5.5 .4 4.9 .3 -4.2 .3 4.3 .4 -6.4 .3 6.9 .3 -4.7 .4 4.3 .3 -4.5 .3 4.2 .4 -6.1 .3 7.2 .3 -6.2 .4 6.4 .3 -5.2 .3 5 .4 -7.4 .3 7.2 .3 -7.7 .4 7.1 .3 -4.2 .3 3.8 .4 -5 .3 5.5 .3 -6.9 .4 6.8 .3 -4.2 .3 4.5 .4 -4.4 .3 3.5 .3 -5.7 .4 6.7 .3 -6.5 .3 7.5 .4 -8.2 .3 8.3 .3 -8.4 .4 5.7 .3 -3.9 .3 4.1 .4 -4.8 .3 6.8 .3 -7.4 .4 7.9 .3 -7.6 .3 7.7 .4 2 .3 -9 .3 1.6 .4 3.1 .3 -3.7 .3 4.2 .4 -5.2 .3 5.8 .4 -5.2 .3 5.1 .3 -4.7 .4 4.8 .3 -6.4 .3 5.7 .4 -5.8 .3 5.3 .3 -5.8 .4 6.5 .3 -4.8 .3 4.7 .4 -4.3 .3 5.3 .3 -6.3 .4 6.3 .3 -5.7 .3 5.2 .4 -4.4 .3 5 .3 -7.1 .4 7.5 .3 -5.7 .3 3.9 .4 -4.6 .3 5.9 .3 -4.8 .4 4.5 .3 -5 .3 4.1 .4 -3.9 .3 5.1 .3 -5.2 .4 5.5 .3 -4.9 .3 3.6 .4 -4.4 .3 3.8 .3 -5.1 .4 6.8 .3 -5.3 .3 4.4 .4 -4.7 .3 4.3 .3 -4.8 .4 7.9 .3 -9.9 .3 8.9 .4 -7.4 .3 5.5 .3 -4.6 .4 4.4 .3 -5.5 .3 6.7 .4 -5.4 .3 7.2 .3 -7.7 .4 5.4 .3 3.3 .3 -9 .4 1.2 .3 4.9 .3 -5.7 .4 5.7 .3 -6.1 .3 6.2 .4 -5.2 .3 4.2 .3 -4.5 .4 4.9 .3 -4.5 .3 4.5 .4 -5.5 .3 5.8 .3 -5.5 .4 4.9 .3 -5.1 .3 5.9 .4 -5.9 .3 6.1 .3 -5.2 .4 4 .3 -4.1 .3 4.9 .4 -4.7 .3 4.8 .3 -6 .4 6.3 .3 -6.3 .4 6.1 .3 -7.3 .3 5.6 .4 -3.4 .3 6.3 .3 -6.2 .4 3.9 .3 -5.4 .3 5.9 .4 -4.7 .3 4.4 .3 -4.5 .4 5.3 .3 -6.1 .3 7 .4 -5.9 .3 4.3 .3 -4.2 .4 4.5 .3 -5.1 .3 4.3 .4 -5.2 .3 5.6 .3 -4.9 .4 5.7 .3 -6 .3 6 .4 -4.7 .3 4.7 .3 -8.4 .4 8.2 .3 -7 .3 7.8 .4 -5.9 .3 4.5 .3 -3.9 .4 4.5 .3 -6.5 .3 6.6 .4 -6.5 .3 5.7 .3 -4.9 .4 6.5 .3 -6.1 .3 4.4 .4 -4.8 .3 5.1 .3 -5.8 .4 5.1 .3 -3.8 .3 6.7 .4 -6.8 .3 4.3 .3 -5 .4 5.6 .3 -4.7 .3 5.3 .4 -6.5 .3 6.1 .3 -5.9 .4 6.1 .3 -5.5 .3 7.3 .4 -7 .3 5.2 .3 -5.8 .4 5.1 .3 -4.7 .3 6.5 .4 -6.6 .3 5.3 .3 -6.7 .4 5.3 .3 -3.3 .3 3.9 .4 -3.7 .3 3.6 .3 -5 .4 5.6 .3 -4.9 .3 4.3 .4 -6.1 .3 7.1 .3 -4.5 .4 3.4 .3 -6 .3 6.3 .4 -5.3 .3 8.3 .4 -7.3 .3 3.8 .3 -3.4 .4 3.4 .3 -3.2 .3 4.8 .4 -5.8 .3 6.6 .3 -8.6 .4 7.8 .3 -6.2 .3 7.7 .4 -7.3 .3 4.7 .3 -4.5 .4 5.8 .3 -6.4 .3 7.2 .4 -7.7 .3 6 .3 -5.9 .4 7.3 .3 -10 .3 8.4 .4 -4.3 .3 6.1 .3 -6.3 .4 4.9 .3 -4.7 .3 3.8 .4 -3.7 .3 3.8 .3 -3.9 .4 4.5 .3 -5.4 .3 5.7 .4 -5.7 .3 5.6 .3 -5.3 .4 6.7 .3 -6.8 .3 5.8 .4 -6.3 .3 6.5 .3 -5.1 .4 4.6 .3 -4.4 .3 5.1 .4 -5 .3 3.8 .3 -5.4 .4 4.9 .3 -4.2 .3 5.2 .4 -6.2 .3 5.5 .3 -4.4 .4 4.6 .3 -5.2 .3 6.1 .4 -4.8 .3 4.6 .3 -5.5 .4 4.5 .3 -3.4 .3 3.8 .4 -4.2 .3 3.9 .3 -4.6 .4 4.5 .3 -4 .3 3.8 .4 -4.1 .3 5.5 .3 -7.7 .4 8.9 .3 -7.8 .3 5.6 .4 -4.6 .3 5.7 .3 -6.5 .4 7.2 .3 -6.4 .3 6.4 .4 -6.6 .3 6.4 .3 -6.3 .4 6.4 .3 -6.8 .4 4.9 .3 -4.3 .3 5.3 .4 -6.6 .3 7.7 .3 -6.9 .4 5.7 .3 -4.9 .3 4.8 .4 -8 .3 8.4 .3 -5.6 .4 4.3 .3 -4.9 .3 5.5 .4 -5.6 .3 5 .3 -5.1 .4 7.6 .3 -6.9 .3 5.9 .4 -6.1 .3 6.5 .3 -6.4 .4 5.6 .3 -5 .3 5.4 .4 -7.3 .3 7.2 .3 -7.9 .4 7.1 .3 -5 .3 5.5 .4 -6.3 .3 5.9 .3 -5.2 .4 5.2 .3 -5.7 .3 9.2 .4 -8 .3 6 .3 -6.6 .4 4.6 .3 -4.9 .3 4.7 .4 -4.6 .3 5.7 .3 -5.9 .4 7.1 .3 -8.8 .3 6.4 .4 -7.5 .3 9.6 .3 -7.1 .4 8 .3 -8.8 .3 7.2 .4 -5.3 .3 4.9 .3 -5.6 .4 5.2 .3 -5.4 .3 5.1 .4 -6.3 .3 7.2 .3 -4.9 .4 4 .3 -3.6 .3 4.3 .4 -6.8 .3 6.9 .3 -5.2 .4 6.2 .3 -6.8 .3 6.5 .4 -6.3 .3 5.1 .3 -6.1 .4 6.1 .3 -4.8 .3 5.3 .4 -4.8 .3 4.9 .3 -5.3 .4 4.7 .3 -4.6 .3 6.1 .4 -7.8 .3 6 .4 -4.5 .3 6.7 .3 -7.7 .4 6.6 .3 -6.4 .3 5.2 .4 -3.7 .3 3.3 .3 -7 .4 7.4 .3 -6.5 .3 6.9 .4 -6.1 .3 6.9 .3 -6.7 .4 5.3 .3 -5.7 .3 7.1 .4 -7.3 .3 6.1 .3 -4.6 .4 6.7 .3 -8.6 .3 7 .4 -5.2 .3 4 .3 -4.5 .4 5.5 .3 -6 .3 7.2 .4 -5.5 .3 5 .3 -6.4 .4 8.1 .3 -8.3 .3 7.7 .4 -6.3 .3 6.3 .3 -5.9 .4 5.1 .3 -6.4 .3 5.1 .4 -4.4 .3 5.4 .3 -7.8 .4 7.5 .3 -6.9 .3 7 .4 -5.1 .3 5.9 .3 -6.9 .4 7.1 .3 -7.9 .3 5.7 .4 -6.2 .3 7.3 .3 -5 .4 4 .3 -5.1 .3 5.8 .4 -4.7 .3 4.4 .3 -5.2 .4 6.6 .3 -6.9 .3 5 .4 -3.8 .3 5 .3 -4.6 .4 5.5 .3 -5.5 .3 -1.2 .4 8 .3 -2.8 .3 -6.2 .4 7.1 .3 -5.2 .3 5.4 .4 -6.9 .3 7.4 .3 -6.9 .4 6.2 .3 -5.2 .3 4.9 .4 -6.8 .3 6.6 .4 -4.4 .3 5 .3 -4.8 .4 5.2 .3 -6.8 .3 6.4 .4 -6.6 .3 5.6 .3 -4 .4 4.8 .3 -5 .3 6.1 .4 -6.5 .3 3.9 .3 -3.9 .4 4.2 .3 -5.4 .3 6.3 .4 -5 .3 4.8 .3 -5.7 .4 5.7 .3 -5.8 .3 6.3 .4 -5.8 .3 4.8 .3 -5.3 .4 6.3 .3 -4.8 .3 4.8 .4 -5.5 .3 5.6 .3 -4.7 .4 4.5 .3 -7.6 .3 9.6 .4 -6.8 .3 3.6 .3 -3.5 .4 4.4 .3 -7.3 .3 7.3 .4 -4.8 .3 5 .3 -5.9 .4 6.5 .3 -7.7 .3 6.8 .4 -4.9 .3 5.6 .3 -6.6 .4 6.5 .3 -5.1 .3 6 .4 -7.2 .3 5.1 .3 -5.2 .4 5.5 .3 -5.6 .3 6.6 .4 -6.5 .3 6.3 .3 -6.4 .4 5.6 .3 -5.5 .3 5.1 .4 -4.4 .3 4.6 .3 -4.8 .4 7.2 .3 -7 .3 5.5 .4 -5.3 .3 5.3 .3 -7.4 .4 6.9 .3 -5 .3 5.2 .4 -4.8 .3 5.6 .3 -5.3 .4 5.8 .3 -6.8 .3 4.9 .4 -3.9 .3 4.5 .3 -5.1 .4 4.5 .3 -5.2 .4 6.3 .3 -5.5 .3 5.8 .4 -7.3 .3 7.9 .3 -5.6 .4 3.6 .3 -4.8 .3 5.6 .4 -5.1 .3 4.6 .3 -4.6 .4 4.4 .3 -5.2 .3 5.4 .4 1.7 .3 -9 .3 2.4 .4 5.5 .3 -6.6 .3 5.9 .4 -5.1 .3 7.3 .3 -7.2 .4 5.2 .3 -6.4 .3 6.2 .4 -4.9 .3 5.5 .3 -5.1 .4 4.5 .3 -4.8 .3 4.7 .4 -5.6 .3 6.6 .3 -5.5 .4 5 .3 -5.8 .3 5.7 .4 -7.8 .3 6.8 .3 -5 .4 5.2 .3 -3 .3 5 .4 -6.6 .3 5.1 .3 -4.1 .4 4.5 .3 -6.7 .3 7.2 .4 -5 .3 4.5 .3 -4.3 .4 4.5 .3 -5.8 .3 6.1 .4 -7.5 .3 9.4 .3 -9 .4 5.6 .3 -4.3 .3 5.5 .4 -4.8 .3 3.8 .3 -3.5 .4 4.5 .3 -5.4 .3 5.5 .4 -6.3 .3 6.1 .3 -4.9 .4 4.3 .3 -4.3 .3 4.5 .4 -4.1 .3 4 .3 -4.4 .4 5 .3 -4.4 .3 3.6 .4 -4.1 .3 4.3 .3 -5.7 .4 5.2 .3 -5 .3 6.3 .4 -5.7 .3 4.9 .4 -4.8 .3 6.2 .3 -5.4 .4 5.5 .3 -6 .3 4.9 .4 -5.3 .3 4.5 .3 -3.9 .4 5.5 .3 -7.4 .3 6.2 .4 -5.6 .3 6.3 .3 -4.6 .4 4.2 .3 -6.2 .3 6.5 .4 -6 .3 4.9 .3 -3.7 .4 3.9 .3 -4.8 .3 4.5 .4 -4.2 .3 4.6 .3 -4.4 .4 4.9 .3 -5.5 .3 6 .4 -5.3 .3 5.8 .3 -5.8 .4 5 .3 -6.3 .3 5.6 .4 -4.6 .3 6.3 .3 -5.9 .4 5.1 .3 -4.5 .3 4.3 .4 -5.1 .3 5.2 .3 -5.9 .4 6.1 .3 -8.4 .3 7.8 .4 -4.9 .3 5 .3 -5.4 .4 4.6 .3 -3.2 .3 3.7 .4 -6.3 .3 5.9 .3 -4.8 .4 6 .3 -5 .3 4.7 .4 -5 .3 4.4 .3 -5.2 .4 5.5 .3 -5 .3 5.3 .4 -5.7 .3 4.8 .3 -4.2 .4 5.4 .3 -5 .3 3.7 .4 -5.7 .3 5.8 .3 -5.6 .4 6.8 .3 -5 .3 4.2 .4 -4.8 .3 5.3 .3 -6.2 .4 6.8 .3 -6.1 .3 5 .4 -5.8 .3 4.9 .3 -3.1 .4 3.4 .3 -4 .4 5.9 .3 -6.3 .3 5.5 .4 -4.5 .3 5.1 .3 -5.4 .4 4.6 .3 -5.4 .3 7.8 .4 -8 .3 5.5 .3 -5 .4 6 .3 -5.4 .3 4 .4 -4.8 .3 6.4 .3 -6.2 .4 6.6 .3 -6 .3 6.2 .4 -7.6 .3 6.9 .3 -6.7 .4 5.7 .3 -3.9 .3 5.9 .4 -6.7 .3 5.9 .3 -6.7 .4 5.4 .3 -4.3 .3 4.3 .4 -4.4 .3 5.4 .3 -5.3 .4 4.2 .3 -4.2 .3 4.1 .4 -4.5 .3 5 .3 -4.5 .4 4.3 .3 -5.1 .3 5 .4 -4.9 .3 5 .3 -5 .4 4.7 .3 -5.3 .3 4.4 .4 -4.5 .3 5.4 .3 -4.5 .4 3.9 .3 -4.5 .3 5 .4 -4.8 .3 5.3 .3 -6.9 .4 7.8 .3 -6.8 .3 5.7 .4 -5.8 .3 5.8 .3 -5.7 .4 5 .3 -4.2 .3 6.3 .4 -6.6 .3 6.2 .3 -7.5 .4 5.7 .3 -3.3 .3 6.1 .4 -6.8 .3 7.4 .3 -9.7 .4 8.2 .3 -5.9 .3 4.7 .4 -5.7 .3 6.3 .3 -5.9 .4 5.6 .3 -6.4 .3 5.6 .4 -5 .3 8 .4 -6.8 .3 6.2 .3 -6.3 .4 4.5 .3 -4 .3 3.7 .4 -5.6 .3 5.7 .3 -6.8 .4 7.4 .3 -4.9 .3 3.7 .4 -4.6 .3 5 .3 -5.4 .4 6 .3 -5.8 .3 8.7 .4 -7.9 .3 4.1 .3 -5.9 .4 7.2 .3 -6.2 .3 6.3 .4 -5 .3 4.4 .3 -5.7 .4 5.8 .3 -4.8 .3 4 .4 -6 .3 5.9 .3 -6.8 .4 7.9 .3 -5.2 .3 4.3 .4 -4.6 .3 6.2 .3 -6 .4 5.5 .3 -4.7 .3 4.7 .4 -6 .3 6.3 .3 -7 .4 6.4 .3 -5.2 .3 4.2 .4 -4.7 .3 6 .3 -5.4 .4 6.6 .3 -6.6 .3 5.7 .4 -7.2 .3 8 .3 -9 .4 6.1 .3 -3.6 .3 4.4 .4 -6.4 .3 6.7 .3 -6.5 .4 10.4 .3 -7.9 .3 4.7 .4 -8.3 .3 9.2 .3 -5.1 .4 3.5 .3 -5.8 .3 7.5 .4 -7.2 .3 7.2 .3 -6.4 .4 5.7 .3 -7.4 .3 6.6 .4 -5.6 .3 6.4 .3 -6.3 .4 6.5 .3 -8.8 .3 8.9 .4 -6.9 .3 5.9 .3 -6 .4 6.5 .3 -7.2 .4 8.7 .3 -9.1 .3 6.7 .4 -4.3 .3 -3.9 .3 10 .4 -1.5 .3 -5.5 .3 4.7 .4 -4.4 .3 4.9 .3 -4.1 .4 4.6 .3 -6.6 .3 7.4 .4 -7 .3 7.6 .3 -7 .4 6.8 .3 -8.2 .3 7.7 .4 -6.6 .3 5.2 .3 -3.9 .4 5.3 .3 -6.6 .3 6.7 .4 -6.3 .3 8 .3 -7.1 .4 5.2 .3 -7.6 .3 6.8 .4 -6 .3 5.7 .3 -4.6 .4 7.2 .3 -8.2 .3 7.2 .4 -7.9 .3 6.2 .3 -5.1 .4 5.8 .3 -5.5" fill="none" stroke="#000" stroke-width="1.1" stroke-linejoin="miter" stroke-miterlimit="2"/>
<path d="M1202.6 226.8l.3 -10.1 .4 9.1 .3 -7.5 .3 6.9 .4 -6.1 .3 7.8 .3 -10.6 .4 8.8 .3 -8.1 .3 9.6 .4 -10.1 .3 8.9 .3 -6.9 .4 7.9 .3 -11.2 .3 10 .4 -11.3 .3 10.6 .3 -6.4 .4 8.8 .3 -11.8 .3 11.6 .4 -9.4 .3 9 .3 -12.5 .4 12.1 .3 -10.3 .3 11.2 .4 -11 .3 9.4 .3 -11.1 .4 10.4 .3 -6.1 .3 8.1 .4 -12.8 .3 11.7 .3 -7.9 .4 11.2 .3 -11 .3 9.7 .4 -10.6 .3 10.2 .3 -9.1 .4 8.2 .3 -9.7 .4 8.6 .3 -10.3 .3 11.9 .4 -8.7 .3 10.4 .3 -11.4 .4 10.1 .3 -9.4 .3 8.7 .4 -13.4 .3 15.2 .3 -10.7 .4 7.4 .3 -8.5 .3 11 .4 -11.7 .3 10.3 .3 -9.1 .4 12.8 .3 -15.9 .3 12.1 .4 -7.9 .3 9.9 .3 -12.1 .4 11.4 .3 -9.6 .3 9.5 .4 -10.4 .3 9.3 .3 -11.1 .4 10.5 .3 -9.6 .3 10.5 .4 -10.2 .3 10 .3 -8.7 .4 8.1 .3 -9.4 .3 12 .4 -14.2 .3 17.4 .3 -17 .4 13.2 .3 -12 .3 11.7 .4 -9 .3 9.5 .3 -11 .4 8.6 .3 -8.1 .3 7.5 .4 -8 .3 12.6 .3 -13.8 .4 10.5 .3 -9.8 .3 8.5 .4 -10.8 .3 11.3 .3 -8.9 .4 10.8 .3 -11.7 .3 10.7 .4 -8.6 .3 10.7 .3 -16.2 .4 14.9 .3 -12.2 .3 12.8 .4 -13.5 .3 14.9 .3 -12.5 .4 13.8 .3 -13.3 .3 14.5 .4 -17.2 .3 16.3 .3 -14.2 .4 9.6 .3 -8.6 .3 11 .4 -13.3 .3 14.2 .3 -14.9 .4 16.6 .3 -18.4 .3 16.2 .4 -13.4 .3 12 .4 -12.1 .3 10.1 .3 -9.9 .4 10.4 .3 -9.1 .3 11.3 .4 -10.4 .3 9.3 .3 -11.5 .4 15.4 .3 -13.8 .3 9.4 .4 -11.1 .3 11.6 .3 -13.9 .4 19.7 .3 -15.8 .3 11.1 .4 -11.8 .3 15.1 .3 -14.7 .4 14.1 .3 -14.1 .3 12.6 .4 -12.6 .3 .2 .3 17 .4 -7.3 .3 -9.6 .3 12.7 .4 -13.8 .3 12.7 .3 -21.1 .4 22.4 .3 -13.9 .3 17.7 .4 -20.5 .3 12.9 .3 -14.6 .4 20.3 .3 -14.7 .3 9.4 .4 -10.6 .3 10 .3 -9.8 .4 17.3 .3 -17.4 .3 10 .4 -10.9 .3 12.7 .3 -14.5 .4 11.5 .3 -6.9 .3 10.9 .4 -15.7 .3 4.8 .3 14 .4 -5.7 .3 -7.8 .3 7.4 .4 -9.7 .3 9.4 .3 -9.7 .4 10.1 .3 -6.5 .3 9.4 .4 -14.3 .3 12.8 .3 -9.4 .4 8.4 .3 -9.7 .3 8.8 .4 -7.5 .3 8 .3 -8.2 .4 8 .3 -9.4 .3 8.9 .4 -7.3 .3 8.4 .3 -9.4 .4 7.7 .3 -8.3 .3 10.8 .4 -9.1 .3 8.8 .3 -7.9 .4 6.9 .3 -8.2 .4 8.9 .3 -10.6 .3 10.4 .4 -7.8 .3 10.8 .3 -11.3 .4 7.3 .3 -6.5 .3 12.4 .4 -15.5 .3 10.1 .3 -10.6 .4 13 .3 -10.9 .3 8.7 .4 -12.1 .3 12.3 .3 -9.3 .4 8.5 .3 -11.1 .3 13.6 .4 -11.5 .3 12.7 .3 -11.2 .4 9.9 .3 -9.6 .3 8 .4 -10 .3 9.7 .3 -8.7 .4 12.5 .3 -12 .3 8.5 .4 -8.1 .3 10.2 .3 -10.1 .4 10.6 .3 -9.6 .3 6 .4 -7.2 .3 6.9 .3 -8.4 .4 10 .3 -8.6 .3 8.3 .4 -7.9 .3 7.8 .3 -10.1 .4 11.8 .3 -9.2 .3 10.5 .4 -13.5 .3 11.2 .3 -12.4 .4 11.1 .3 -9.2 .3 12.1 .4 -9.8 .3 9.9 .3 -11.7 .4 13.6 .3 -11.7 .3 5.9 .4 -8.6 .3 9.2 .3 -8.4 .4 10 .3 -10.8 .3 9.2 .4 -6.6 .3 6.8 .3 -12.3 .4 13 .3 -8.5 .3 7 .4 -7.9 .3 9.1 .3 -8.1 .4 9.1 .3 -11.9 .3 11.2 .4 -8.2 .3 7.4 .3 -15.1 .4 17.3 .3 -9 .3 6.9 .4 -12 .3 14.7 .4 -10.3 .3 10.4 .3 -11.8 .4 9.7 .3 -8.8 .3 8.8 .4 -12.2 .3 12.2 .3 -8.7 .4 8.6 .3 -10.3 .3 9.9 .4 -8.8 .3 11.3 .3 -11.4 .4 8.5 .3 -6.6 .3 9.6 .4 -12.5 .3 10 .3 -7.7 .4 7.9 .3 -8.3 .3 10.3 .4 -11.7 .3 9.5 .3 -11.6 .4 12.5 .3 -10 .3 9.7 .4 -8 .3 9.8 .3 -11.4 .4 9.3 .3 -11.1 .3 11 .4 -7.7 .3 8.7 .3 -12.9 .4 12.4 .3 -9.2 .3 8.8 .4 -10.5 .3 11.2 .3 -9 .4 8.6 .3 -10.5 .3 13.1 .4 -10.1 .3 6.5 .3 -7.4 .4 7.9 .3 -7.3 .3 7.7 .4 -6.6 .3 6.4 .3 -8 .4 7.7 .3 -7.2 .3 8 .4 -11.4 .3 12 .3 -12.2 .4 11.2 .3 -10.2 .3 8.5 .4 -10.3 .3 13.9 .3 -9.6 .4 8.8 .3 -10.4 .3 8.1 .4 -7.4 .3 7.2 .3 -6.6 .4 6.8 .3 -9.4 .3 9.7 .4 -9.8 .3 10.9 .3 -10.5 .4 13 .3 -12.3 .3 8.8 .4 -8.9 .3 14 .3 -11.1 .4 7.2 .3 -8.8 .4 7.3 .3 -6.6 .3 11.6 .4 -12.5 .3 7.5 .3 -8.3 .4 9.1 .3 -7 .3 9.8 .4 -11.6 .3 11.9 .3 -10.4 .4 7.3 .3 -8.7 .3 11.6 .4 -11.4 .3 8.1 .3 -5.8 .4 9.4 .3 -11.2 .3 9.5 .4 -11.5 .3 10.5 .3 -8.9 .4 9.2 .3 13.3 .3 -23 .4 1.4 .3 7.6 .3 -9.3 .4 8.7 .3 -7.9 .3 7.4 .4 -8.9 .3 13 .3 -10.6 .4 9 .3 -9.9 .3 8.5 .4 -15.3 .3 16.9 .3 -11.9 .4 9.2 .3 -6.1 .3 7.6 .4 -12.4 .3 14.2 .3 -12.8 .4 14.3 .3 -14.3 .3 10.7 .4 -12.4 .3 11.7 .3 -7.1 .4 8.1 .3 -10.3 .3 16.9 .4 -16.6 .3 10.8 .3 -12.8 .4 12.2 .3 -9.7 .3 9.4 .4 -8.7 .3 7.9 .3 -9 .4 11.6 .3 -10.9 .3 10.6 .4 -12.1 .3 10.2 .3 -7.5 .4 8.4 .3 -9 .3 13 .4 -12.8 .3 8.6 .3 -9.3 .4 11.6 .3 -11 .3 7.7 .4 -8.5 .3 7.9 .3 -9.2 .4 10 .3 -7.7 .3 10.9 .4 -10.6 .3 9.5 .4 -10.1 .3 9.2 .3 -11.4 .4 11.1 .3 -11 .3 12.9 .4 -11.5 .3 10.4 .3 -11.1 .4 12.2 .3 -14.3 .3 11.8 .4 -7.5 .3 6.3 .3 -5.8 .4 7.6 .3 -11.2 .3 12 .4 -11.8 .3 10.5 .3 -8.1 .4 8.4 .3 -9.3 .3 9.6 .4 -10.8 .3 9.9 .3 -11.9 .4 17.3 .3 -12.9 .3 7.7 .4 -11.3 .3 13.4 .3 -11.3 .4 8.3 .3 -8.3 .3 11.6 .4 -9.5 .3 7.2 .3 -7.6 .4 9.8 .3 -10.4 .3 7.9 .4 -7.9 .3 7.5 .3 -7 .4 12.1 .3 -13.9 .3 8 .4 -5.2 .3 5.9 .3 -7.4 .4 8.4 .3 -9.2 .3 8.7 .4 -7.8 .3 8.2 .3 -9.5 .4 10.4 .3 -8.8 .3 8.9 .4 -10.1 .3 9.9 .3 -8.3 .4 7.6 .3 -7.5 .3 6.2 .4 -8.5 .3 10 .3 -9.8 .4 9.4 .3 -7.2 .3 8.2 .4 -10.8 .3 10.5 .3 -11.9 .4 11.1 .3 -7.3 .3 7 .4 -9.9 .3 11.7 .3 3.4 .4 -13 .3 -1.3 .3 8.9 .4 -7.5 .3 8.1 .4 -12.6 .3 14.4 .3 -11.6 .4 11.9 .3 -11.6 .3 10.9 .4 -9.9 .3 9.5 .3 -8.3 .4 7.7 .3 -10.5 .3 10.8 .4 -11.9 .3 11 .3 -9.7 .4 9.9 .3 -13.2 .3 13 .4 -10.1 .3 11.2 .3 -11.5 .4 10.8 .3 -8.7 .3 9.6 .4 -9 .3 7.6 .3 -9 .4 11 .3 -9.7 .3 7.1 .4 -10.4 .3 12.7 .3 -10.1 .4 8.1 .3 -8.6 .3 10.9 .4 3.1 .3 -12 .3 -4.1 .4 11.1 .3 -9.4 .3 9 .4 -8.1 .3 8.5 .3 -8.9 .4 8.7 .3 -7.4 .3 9.3 .4 -10.5 .3 10.6 .3 -9.5 .4 8.8 .3 -9.2 .3 10.7 .4 -12.6 .3 10.1 .3 -8 .4 7.6 .3 -8.3 .3 9.2 .4 -7.7 .3 7.3 .3 -10.3 .4 9.8 .3 -7.6 .3 9.5 .4 -10.8 .3 9.9 .3 -7.7 .4 7 .3 -8.8 .3 8.9 .4 -8.3 .3 8.4 .3 -8.4 .4 8.8 .3 -8.7 .3 7.7 .4 -7.4 .3 8.6 .3 -11.4 .4 9.6 .3 -7.1 .3 8.6 .4 -7.7 .3 6.3 .3 -6.5 .4 7.5 .3 -8.4 .4 9.4 .3 -10.9 .3 11.7 .4 -11.4 .3 9.3 .3 -9 .4 8.4 .3 -7.6 .3 9.5 .4 -8.7 .3 6.8 .3 -10.5 .4 11.6 .3 -7.4 .3 10 .4 -13.1 .3 11.1 .3 -9.7 .4 8.3 .3 -8.2 .3 8.1 .4 -8.6 .3 12.4 .3 -9.5 .4 5.9 .3 -7.4 .3 10 .4 -12.9 .3 15.2 .3 -13.1 .4 11.9 .3 -11.4 .3 7.2 .4 -9.7 .3 9.9 .3 -7.5 .4 7.4 .3 -9.2 .3 15.1 .4 -13.1 .3 8.6 .3 -10.3 .4 12.1 .3 -10.2 .3 6.8 .4 -6.9 .3 9.5 .3 -10.5 .4 9.3 .3 -8.8 .3 7.5 .4 -6.5 .3 8.3 .3 -7.9 .4 8.7 .3 -10 .3 10.4 .4 -10 .3 9.5 .3 -13.5 .4 12.4 .3 -11.7 .3 12.5 .4 -9.4 .3 7.8 .3 -6.4 .4 7.3 .3 -8.3 .3 9 .4 -12.1 .3 11.4 .3 -11 .4 10.3 .3 -8.3 .3 11 .4 -12 .3 8.6 .3 -6.2 .4 10.6 .3 -10.3 .3 7.1 .4 -8.4 .3 7.6 .3 -6.6 .4 6.4 .3 -6.5 .3 5 .4 -8.8 .3 11.4 .4 -10.2 .3 9.7 .3 -7.9 .4 7.7 .3 -7.6 .3 6.7 .4 -7 .3 7.9 .3 -9.5 .4 11.7 .3 -9.5 .3 7.2 .4 -11.2 .3 13 .3 -13.7 .4 13.3 .3 -10.5 .3 10.6 .4 -11.9 .3 10.4 .3 -7.8 .4 7.6 .3 -8.1 .3 10 .4 -11.3 .3 9.8 .3 -8.7 .4 9.4 .3 -13 .3 14.1 .4 -12 .3 10 .3 -8.4 .4 9.2 .3 -10.5 .3 8.5 .4 -7.6 .3 11 .3 -10.1 .4 7.1 .3 -10.6 .3 10.4 .4 -5.2 .3 6.5 .3 -7.1 .4 8.4 .3 -11 .3 12.7 .4 -11.6 .3 9.1 .3 -8.4 .4 9.7 .3 -8.9 .3 6.7 .4 -7.5 .3 6.6 .3 -7.9 .4 9.1 .3 -8.3 .3 7.6 .4 -8.4 .3 9.9 .3 -9.4 .4 8 .3 -8.9 .3 9.1 .4 -8.5 .3 8.3 .3 -10.5 .4 11.4 .3 -8 .3 7 .4 -7.1 .3 7.9 .3 -8.3 .4 11.4 .3 -10.6 .3 6.6 .4 -6.3 .3 7 .3 -10.1 .4 9.8 .3 -8.2 .3 10.3 .4 -11.6 .3 10.1 .3 -7.3 .4 9 .3 -8.6 .4 6.1 .3 -8.7 .3 7.7 .4 -6.2 .3 14.7 .3 -16.5 .4 14 .3 -13.3 .3 10.1 .4 -8.3 .3 7 .3 -7.5 .4 7.2 .3 -15.8 .3 15.5 .4 -8.8 .3 8.6 .3 -8.8 .4 9.1 .3 -6.9 .3 7.1 .4 -6.9 .3 7.8 .3 -10.6 .4 14.4 .3 -12.9 .3 8.4 .4 -7.4 .3 7.2 .3 -6.9 .4 9.5 .3 -10.4 .3 8.7 .4 -9.4 .3 10.4 .3 -12.2 .4 11.5 .3 -7.8 .3 7.1 .4 -8.7 .3 8.7 .3 -6.9 .4 8.3 .3 -8.5 .3 6.3 .4 -7.2 .3 8.1 .3 -10.4 .4 14.1 .3 -14.2 .3 12.2 .4 -8.9 .3 6.8 .3 -7.7 .4 9.8 .3 -9.7 .3 9.1 .4 -9.6 .3 7.9 .3 -9.4 .4 10.5 .3 -11.4 .3 11.5 .4 -9.5 .3 9 .3 -7 .4 6.7 .3 -8.1 .3 9.6 .4 -9.1 .3 8 .3 -10.3 .4 9.2 .3 -7.9 .3 7.3 .4 -7.5 .3 10.1 .3 -14.1 .4 12.3 .3 -7.7 .3 7.7 .4 -10.6 .3 11.4 .3 -8.4 .4 8.6 .3 -7.8 .3 9.5 .4 -9.6 .3 7.6 .4 -9.7 .3 13.4 .3 -11.4 .4 7.5 .3 -6.7 .3 5.8 .4 -9 .3 10 .3 -8 .4 10 .3 -9.6 .3 7.9 .4 -8.1 .3 6.5 .3 -5.5 .4 5.8 .3 -10.6 .3 10.1 .4 -8 .3 8.9 .3 -6 .4 6.4 .3 -7.6 .3 8.6 .4 -11.6 .3 12.2 .3 -9.4 .4 8.4 .3 -11.8 .3 13 .4 -11.9 .3 12 .3 -9 .4 8.9 .3 -9.8 .3 8 .4 -7 .3 8.7 .3 -10.4 .4 9.5 .3 -10.4 .3 12 .4 -10.6 .3 8.7 .3 -7.5 .4 6.6 .3 -8.5 .3 11 .4 -8.7 .3 7.2 .3 -7.8 .4 8 .3 -8.9 .3 11.8 .4 -12.5 .3 11 .3 -9.8 .4 7.7 .3 -7.4 .3 8.7 .4 -7.9 .3 8.1 .3 -11.4 .4 10.3 .3 -7.7 .3 16.8 .4 -17.2 .3 9.3 .3 -10.8 .4 8.9 .3 -6.3 .3 7.9 .4 -10.1 .3 8.8 .3 -8.9 .4 9 .3 -8.3 .3 10.4 .4 -12.8 .3 9.9 .3 -7.8 .4 7.9 .3 -7.7 .3 7.5 .4 -6.6 .3 7.4 .3 -7.3 .4 8.1 .3 -9.7 .4 8.6 .3 -10.8 .3 12.5 .4 -11.6 .3 10.5 .3 -12.8 .4 13.4 .3 -8.1 .3 8.4 .4 -7.7 .3 6.7 .3 -7.4 .4 7 .3 6.3 .3 -15 .4 1.4 .3 9.1 .3 -10.8 .4 12.3 .3 -9.7 .3 7.1 .4 -7.9 .3 8.7 .3 -10.9 .4 9.2 .3 -10.2 .3 12 .4 -11.9 .3 9.8 .3 -6.9 .4 9.7 .3 -8.3 .3 5.8 .4 -7 .3 -3.5 .3 11 .4 1.8 .3 -9.9 .3 9.6 .4 -11.3 .3 10.2 .3 -10 .4 8.6 .3 -9.9" fill="none" stroke="#000" stroke-width="1.1" stroke-linejoin="miter" stroke-miterlimit="2"/>
<path d="M1202.6 351.2l.3 -4.4 .4 5.8 .3 -4.7 .3 3.7 .4 -3.9 .3 4.4 .3 -4.2 .4 3.9 .3 -5.7 .3 6.9 .4 -4.7 .3 3.8 .3 -4.1 .4 3.6 .3 -4.1 .3 4.5 .4 -4.2 .3 3.7 .3 -4.3 .4 6.1 .3 -6.9 .3 5.1 .4 -4.2 .3 5.5 .3 -5.6 .4 4.4 .3 -4.8 .3 6.1 .4 -5.3 .3 5.1 .3 -4.8 .4 4.1 .3 -4.8 .3 4.9 .4 -4.3 .3 3.9 .3 -4.7 .4 4.7 .3 -4.6 .3 4.2 .4 -3.2 .3 4.4 .3 -5.9 .4 5.8 .3 -5.2 .4 5.9 .3 -5.1 .3 3.7 .4 -4.4 .3 5.5 .3 -5.8 .4 4.8 .3 -4.1 .3 4.7 .4 -5.7 .3 5.4 .3 -4.6 .4 5.8 .3 -5.7 .3 3.8 .4 -4 .3 3.8 .3 -3 .4 4.1 .3 -5.7 .3 5.6 .4 -4.6 .3 4.2 .3 -3.9 .4 4.9 .3 -5.6 .3 3.9 .4 -4.1 .3 5.8 .3 -6.9 .4 7.1 .3 -5.9 .3 4.7 .4 -3.7 .3 4.3 .3 -6.2 .4 6.8 .3 -6.2 .3 6.2 .4 -7 .3 5.5 .3 -5.1 .4 5 .3 -5.1 .3 7.2 .4 -9.6 .3 8.1 .3 -4.9 .4 6.2 .3 -5.8 .3 4.4 .4 -4.1 .3 3.6 .3 -3.8 .4 4.4 .3 -4.1 .3 3.4 .4 -3.6 .3 3.8 .3 -5.2 .4 4.9 .3 -5 .3 5.3 .4 -5 .3 6.4 .3 -5.4 .4 5.9 .3 -5.3 .3 3.9 .4 -5.8 .3 6.8 .3 -8.1 .4 7.3 .3 -4.8 .3 4.1 .4 -4.1 .3 3.9 .3 -3.7 .4 3.7 .3 -4.4 .3 4.4 .4 -4.3 .3 5 .3 -4.3 .4 5.9 .3 -8 .3 6.5 .4 -4.8 .3 4.4 .4 -4.5 .3 5.7 .3 -5.6 .4 5.5 .3 -4.6 .3 3.6 .4 -4.6 .3 4.2 .3 -4.5 .4 5 .3 -4.1 .3 3.7 .4 -3.9 .3 5.7 .3 -5 .4 3.9 .3 -5.3 .3 5.2 .4 -4.8 .3 4.7 .3 -5.9 .4 5.9 .3 -6.1 .3 7.8 .4 -6.5 .3 4.4 .3 -4 .4 4 .3 -4.3 .3 4.5 .4 -4.2 .3 5.2 .3 -4.6 .4 4 .3 -4.1 .3 3.1 .4 -3.9 .3 4.6 .3 -4.6 .4 4.4 .3 -3.5 .3 3.2 .4 -3.8 .3 4.1 .3 -4.2 .4 3.4 .3 -3 .3 5.1 .4 -6.1 .3 5.1 .3 -4.3 .4 4.3 .3 -4.8 .3 4.4 .4 -4 .3 4.6 .3 -5.4 .4 6.3 .3 -5.3 .3 4.7 .4 -4.8 .3 5.2 .3 -6.9 .4 6.9 .3 -5.8 .3 4.6 .4 -5 .3 4.9 .3 -5 .4 5.2 .3 -4 .3 4.6 .4 -5 .3 4.3 .3 -3.9 .4 4.4 .3 -5.7 .3 5.9 .4 -5.1 .3 4.8 .3 -4.2 .4 5.3 .3 -6.3 .3 4.9 .4 -4.4 .3 4.6 .3 -3.9 .4 3.4 .3 -6.8 .4 7.3 .3 -5.2 .3 5 .4 -5.5 .3 6.8 .3 -6.6 .4 5.5 .3 -6.3 .3 5.3 .4 -4.4 .3 5.1 .3 -5.7 .4 5.2 .3 -3.9 .3 4.8 .4 -4.3 .3 4.2 .3 -5.7 .4 6.5 .3 -5.1 .3 3.6 .4 -3.3 .3 4.5 .3 -6.6 .4 5.6 .3 -4.7 .3 5.4 .4 -5.3 .3 5.6 .3 -4.9 .4 4.6 .3 -6.5 .3 6.2 .4 -4.6 .3 4.7 .3 -5.2 .4 4.8 .3 -4.3 .3 5.6 .4 -6.4 .3 5.5 .3 -4.2 .4 4.8 .3 -6.2 .3 5.4 .4 -5.6 .3 6 .3 -4.9 .4 6.8 .3 -6.6 .3 4 .4 -4.5 .3 5.1 .3 -4 .4 3.9 .3 -4.4 .3 5.1 .4 -4.7 .3 3.8 .3 -4.7 .4 5.8 .3 -5.8 .3 5.8 .4 -5.1 .3 3.8 .3 -3.9 .4 4 .3 -4 .3 4 .4 -4 .3 5.1 .3 -6.5 .4 5 .3 -5.4 .3 5.8 .4 -4.1 .3 4.1 .3 -5.5 .4 5.9 .3 -7.1 .3 7.6 .4 -5.3 .3 4.2 .3 -3.8 .4 5.9 .3 -7.7 .3 6.1 .4 -4.2 .3 5.3 .4 -5.8 .3 4.1 .3 -6.5 .4 7.5 .3 -5.7 .3 4.9 .4 -3.5 .3 4.1 .3 -4.8 .4 4.7 .3 -4.3 .3 6.7 .4 -7.7 .3 7.8 .3 -6.8 .4 6.1 .3 -7 .3 4.5 .4 -6.1 .3 6.5 .3 -5.4 .4 5.3 .3 -3.9 .3 3.9 .4 -5.8 .3 5.9 .3 -4.1 .4 5.2 .3 -5.3 .3 4.1 .4 -4.8 .3 5 .3 -4.5 .4 6.8 .3 -7.4 .3 4.9 .4 -4.2 .3 4.9 .3 -5 .4 4.4 .3 -6.9 .3 6.7 .4 -4 .3 6.1 .3 -7.9 .4 7.5 .3 -6.9 .3 7.4 .4 -6.5 .3 4 .3 -4.4 .4 4.1 .3 -2.7 .3 4.6 .4 -5.5 .3 4.7 .3 -5 .4 4.6 .3 -4.4 .3 4 .4 -3.9 .3 4.9 .3 -4.9 .4 4.5 .3 -4.4 .3 6.4 .4 -6.1 .3 4.7 .3 -5.2 .4 4.6 .3 -4.6 .3 4.2 .4 -4 .3 4.5 .3 -5.6 .4 6.8 .3 -5.3 .3 5.4 .4 -8.1 .3 6.9 .3 -5.2 .4 4.9 .3 -4.3 .3 4.1 .4 -5.5 .3 5.7 .3 -4.3 .4 4.2 .3 -4.7 .4 5.1 .3 -4.8 .3 4.8 .4 -4.5 .3 4.4 .3 -5 .4 4.4 .3 -4.1 .3 5.7 .4 -6.5 .3 6.6 .3 -6.1 .4 4.8 .3 -4.4 .3 4.3 .4 -5.1 .3 4.8 .3 -5.4 .4 5.7 .3 -5 .3 4.5 .4 -4.8 .3 6.7 .3 -5.6 .4 3.7 .3 -5.6 .3 6 .4 -6.3 .3 7.9 .3 -7.7 .4 6.7 .3 -4.9 .3 4.8 .4 -6 .3 7.1 .3 -6.1 .4 5.3 .3 -4.9 .3 5.7 .4 -6 .3 5.1 .3 -6.5 .4 6.3 .3 -4.3 .3 4.7 .4 -6.3 .3 5 .3 -5.3 .4 6 .3 -4.4 .3 4.5 .4 -5.6 .3 7.3 .3 -6.3 .4 4.3 .3 -4.6 .3 6.7 .4 -5.6 .3 4.3 .3 -7.9 .4 7.6 .3 -4.4 .3 4.5 .4 -7.8 .3 7.2 .3 -6.1 .4 6.3 .3 -5 .3 5.4 .4 -6.7 .3 6.8 .3 -6.7 .4 6 .3 -4.1 .3 5 .4 -6.4 .3 5 .3 -4.8 .4 6.6 .3 2.6 .3 -9 .4 -1.4 .3 6.7 .3 -5.3 .4 5.2 .3 -5.4 .3 6 .4 -5.2 .3 4.7 .4 -4.7 .3 4.7 .3 -5.4 .4 4.6 .3 -3.6 .3 5.3 .4 -6.4 .3 5.7 .3 -5.9 .4 5.7 .3 -5.4 .3 6.1 .4 -5.9 .3 5.1 .3 -4.3 .4 4.2 .3 -5 .3 5.6 .4 -5.4 .3 6.1 .3 -5.7 .4 4.7 .3 -4.7 .3 4.2 .4 -4.8 .3 6.1 .3 -6.4 .4 5.9 .3 -4.6 .3 5.8 .4 -5.9 .3 5 .3 -6.2 .4 6 .3 -6.1 .3 6.7 .4 -5.7 .3 5.4 .3 -6.1 .4 5.3 .3 -4.1 .3 4.4 .4 -5.7 .3 5.4 .3 -5.5 .4 5.7 .3 -4.5 .3 3.9 .4 -5.5 .3 7.1 .3 -6.8 .4 5.4 .3 -5.3 .3 4.9 .4 -4.5 .3 6 .3 -6 .4 4.7 .3 -3.9 .3 5.2 .4 -5.2 .3 4.3 .3 -5.7 .4 5.3 .3 -5.6 .3 5.5 .4 -3.8 .3 4.4 .3 -4.3 .4 4.2 .3 -5.9 .3 6.5 .4 -5 .3 5.5 .3 -6.4 .4 6.3 .3 -6.5 .3 5.5 .4 -5.6 .3 6.1 .3 -6.8 .4 6.2 .3 -5.9 .3 5.9 .4 -5.1 .3 5.1 .4 -5.3 .3 6.5 .3 -6.4 .4 6.5 .3 -6.1 .3 7 .4 -6.8 .3 6 .3 -6.3 .4 5.6 .3 -6.7 .3 5.9 .4 -5.8 .3 6.3 .3 -6.8 .4 9.7 .3 -7.5 .3 6.5 .4 -6.8 .3 6.1 .3 -5.7 .4 4.3 .3 -5.3 .3 7 .4 -7.6 .3 6.3 .3 -5 .4 5.6 .3 -7 .3 10.1 .4 -11.3 .3 8.9 .3 -6.2 .4 4.2 .3 -5.9 .3 5.8 .4 -4 .3 5.5 .3 -6.7 .4 5.7 .3 -5.7 .3 7.2 .4 -7.3 .3 6.2 .3 -4.7 .4 5 .3 -6.2 .3 6.8 .4 -7.8 .3 7.1 .3 -4.9 .4 4.2 .3 -5.8 .3 7.2 .4 -5.6 .3 4.1 .3 -4.4 .4 4.3 .3 -4.6 .3 4.5 .4 -4.2 .3 5 .3 -4.8 .4 4.7 .3 -4.3 .3 3.5 .4 -7 .3 7.4 .3 -4.6 .4 6.1 .3 -8.6 .3 9.4 .4 -8.3 .3 5.5 .3 -6.7 .4 8.5 .3 -7.1 .3 5.6 .4 -7.1 .3 9.9 .3 -8 .4 4.8 .3 -5.3 .3 6.4 .4 -7 .3 7.2 .3 -6.5 .4 6.2 .3 -6 .4 7.4 .3 -7.5 .3 6.2 .4 -6.5 .3 6.8 .3 -5.6 .4 5 .3 -6.4 .3 5.7 .4 -6.3 .3 6.2 .3 -4.1 .4 4.6 .3 -5.6 .3 7.4 .4 -6.8 .3 5.7 .3 -7.1 .4 8.2 .3 -5.9 .3 4.8 .4 -5.1 .3 4.7 .3 -4.8 .4 5.5 .3 -5.5 .3 4.4 .4 -5.2 .3 5.2 .3 -5.6 .4 6.4 .3 -5 .3 3.5 .4 -7.2 .3 7.8 .3 -4.5 .4 7 .3 -6.6 .3 5.2 .4 -6.1 .3 5.9 .3 -5.7 .4 5.1 .3 -4.4 .3 4.6 .4 -4.7 .3 4.4 .3 -5.5 .4 5.8 .3 -5.1 .3 7.3 .4 -8.5 .3 8 .3 -8.2 .4 6.8 .3 -6.6 .3 6 .4 -5.4 .3 7 .3 -5.4 .4 5 .3 -7.1 .3 7.3 .4 -7.5 .3 5.8 .3 -4.6 .4 5.1 .3 -6.9 .3 7.3 .4 -7 .3 5.6 .3 -3.7 .4 4.7 .3 -5 .3 6.5 .4 -7 .3 6.5 .3 -5.9 .4 4.6 .3 -5 .3 4.8 .4 -4.9 .3 6.2 .3 -6.1 .4 5.2 .3 -5.6 .3 5.3 .4 -4 .3 4 .4 -4.5 .3 4.4 .3 -6.3 .4 8.5 .3 -7.2 .3 5.8 .4 -6.7 .3 6 .3 -4.2 .4 4.5 .3 -6 .3 5.6 .4 -5.7 .3 6.8 .3 -8.9 .4 9.3 .3 -6.1 .3 5.4 .4 -4.9 .3 4.8 .3 -5 .4 5.5 .3 -7.2 .3 7.9 .4 -7.5 .3 7.7 .3 -6.1 .4 5 .3 -7 .3 9.3 .4 -8.2 .3 6.6 .3 -7.2 .4 7 .3 -7.4 .3 8.2 .4 -7.6 .3 6.8 .3 -5.6 .4 5 .3 -4.7 .3 5.2 .4 -7.5 .3 6.3 .3 -5.5 .4 7.7 .3 -8.9 .3 8.1 .4 -5.2 .3 4.7 .3 -7.7 .4 6.8 .3 -5.5 .3 7 .4 -6.4 .3 4.6 .3 -4.6 .4 5 .3 -4 .3 4.6 .4 -5.6 .3 4.7 .3 -5.3 .4 6.4 .3 -8.5 .3 7.4 .4 -6.1 .3 6.3 .3 -4.3 .4 4.8 .3 -5.2 .3 6 .4 -5.7 .3 3.8 .3 -3.5 .4 4.3 .3 3.6 .3 -9 .4 0 .3 5.8 .3 -5.5 .4 5.1 .3 -7.5 .3 7 .4 -5 .3 7.6 .3 -6.2 .4 3.7 .3 -5.1 .4 7.1 .3 -5.8 .3 4.2 .4 -4 .3 6.9 .3 -8.8 .4 5.2 .3 -6.2 .3 6.6 .4 -6.6 .3 9 .3 -6 .4 4 .3 -5.7 .3 6.7 .4 -5.3 .3 3.8 .3 -5.5 .4 6.6 .3 -5.1 .3 3.8 .4 -3.2 .3 4.6 .3 -5.7 .4 4.8 .3 -3.9 .3 3.5 .4 -3.7 .3 6.2 .3 -6.6 .4 4 .3 -3.8 .3 4.5 .4 -4.6 .3 4.6 .3 -5.3 .4 6.6 .3 -5 .3 4.6 .4 -5.6 .3 5 .3 -5.5 .4 4.3 .3 -5 .3 5.8 .4 -4.1 .3 5.4 .3 -6.8 .4 7.4 .3 -6.5 .3 3.9 .4 -4.7 .3 7.3 .3 -7.5 .4 8.6 .3 -8.7 .3 6.3 .4 -5.2 .3 6.6 .3 -5.8 .4 3.5 .3 -3.9 .3 5 .4 -5.4 .3 4.5 .3 -4.4 .4 4.1 .3 -4.9 .3 6.3 .4 -6.6 .3 5.5 .3 -6 .4 5.8 .3 -4.9 .3 4.3 .4 -4.1 .3 6.8 .3 .8 .4 -8 .3 .5 .3 6 .4 -7.8 .3 6.6 .3 -4.3 .4 4.4 .3 -4.8 .3 4.7 .4 -5 .3 5.1 .4 -5.1 .3 4.6 .3 -3.9 .4 6.8 .3 -8.9 .3 6 .4 -4.2 .3 5.3 .3 -5.7 .4 5.5 .3 -5.6 .3 5.2 .4 -5.6 .3 5.2 .3 -4.9 .4 5.2 .3 -4.1 .3 3.9 .4 -5.5 .3 8.2 .3 -7.8 .4 4.7 .3 -4.6 .3 5.4 .4 -3.9 .3 4.7 .3 -5.1 .4 4.2 .3 -5.6 .3 4.8 .4 -3.9 .3 5.6 .3 -4.9 .4 4.4 .3 -5.6 .3 6.4 .4 -7.8 .3 5.9 .3 -3.6 .4 5 .3 -4.9 .3 3.9 .4 -4.9 .3 4.9 .3 -4.2 .4 4.1 .3 -3.9 .3 5.2 .4 -6.9 .3 6.9 .3 -5.8 .4 4.6 .3 -4.2 .3 8.1 .4 -10.8 .3 6.8 .3 -3.7 .4 4 .3 -4 .3 3.3 .4 -4.5 .3 5.6 .3 -4.9 .4 3.5 .3 -2.8 .3 5.8 .4 -6.6 .3 3.8 .3 -4.5 .4 4.9 .3 -3.7 .3 3.9 .4 -3.4 .3 3.3 .3 -3.8 .4 5.9 .3 -8.5 .3 9 .4 -6.7 .3 4 .3 -5.2 .4 6 .3 -6 .3 8 .4 -6.6 .3 4.6 .3 -4.5 .4 4.5 .3 -3.9 .4 5.7 .3 -7 .3 5.7 .4 -4.8 .3 4.9 .3 -5 .4 4.5 .3 -4.9 .3 4.7 .4 -5.7 .3 6.5 .3 -6.6 .4 5.1 .3 -4.6 .3 5.7 .4 -4.9 .3 4.2 .3 -4.2 .4 5.3 .3 -5.3 .3 3.2 .4 -2.9 .3 2.9 .3 -2.5 .4 3.2 .3 -3.8 .3 3.7 .4 -4.3 .3 3.8 .3 -3.1 .4 5.4 .3 -5.9 .3 3.7 .4 -4.3 .3 4.5 .3 -3.3 .4 3.1 .3 -3.2 .3 3.5 .4 -5.3 .3 7.1 .3 -7.2 .4 5.6 .3 -4.4" fill="none" stroke="#000" stroke-width="1.1" stroke-linejoin="miter" stroke-miterlimit="2"/>
<path d="M1202.6 411.3l.3 -4.1 .4 3.7 .3 -3.3 .3 4.5 .4 -4.9 .3 3.6 .3 -3.8 .4 3.6 .3 -3.2 .3 2.8 .4 -2.7 .3 4.7 .3 -4.2 .4 3.4 .3 -4.7 .3 4.3 .4 -3.9 .3 3.3 .3 -2.6 .4 3.2 .3 -3 .3 2.5 .4 -2.5 .3 3.2 .3 -3.4 .4 2.8 .3 -2.8 .3 3.2 .4 -4.1 .3 4.6 .3 -4 .4 3.3 .3 -3.5 .3 3.4 .4 -3 .3 3.1 .3 -3.4 .4 3.2 .3 -4.4 .3 4.3 .4 -2.8 .3 3.6 .3 -3.4 .4 4.1 .3 -4.5 .4 3.2 .3 -4.3 .3 4.5 .4 -3.3 .3 3.2 .3 -3.1 .4 4 .3 -3.9 .3 3.8 .4 -4.9 .3 4.9 .3 -4.5 .4 4.5 .3 -5.5 .3 4.6 .4 -2.5 .3 3 .3 -3.8 .4 4.7 .3 -4.7 .3 3.4 .4 -3.4 .3 4.6 .3 -5.8 .4 5.6 .3 -4 .3 2.7 .4 -3.3 .3 4.5 .3 -3.9 .4 3.6 .3 -4.4 .3 5 .4 -4.3 .3 3.2 .3 -3.3 .4 3.6 .3 -3.6 .3 3.6 .4 -5.2 .3 5.6 .3 -3.9 .4 3.4 .3 -4.1 .3 4.7 .4 -4.2 .3 3.4 .3 -3.2 .4 3.5 .3 -4.5 .3 4.9 .4 -3.7 .3 3.4 .3 -3.8 .4 5.4 .3 -5.1 .3 3.1 .4 -3.3 .3 3.7 .3 -3.4 .4 2.6 .3 -3.6 .3 3.7 .4 -2.7 .3 3.2 .3 -4.9 .4 4.6 .3 -3 .3 4.5 .4 -5.9 .3 5.2 .3 -5.4 .4 4.7 .3 -4.3 .3 5.5 .4 -5.3 .3 5.2 .3 -6.7 .4 6.1 .3 -4 .3 7.4 .4 -8.2 .3 5.6 .3 -5 .4 6.8 .3 -8.1 .3 8.5 .4 -7 .3 5.2 .4 -7.9 .3 7.6 .3 -5.8 .4 5.5 .3 -5.6 .3 6.3 .4 -6.9 .3 -2.5 .3 10 .4 2 .3 -10.8 .3 7.6 .4 -4.6 .3 5.9 .3 -6.5 .4 6.4 .3 -6 .3 4.3 .4 -5.5 .3 5.6 .3 -5.8 .4 5.1 .3 -5.1 .3 6.3 .4 -4.3 .3 3.4 .3 -5.1 .4 5.5 .3 -3.9 .3 3.1 .4 -3.4 .3 4.4 .3 -4.3 .4 3.5 .3 -4.1 .3 4.1 .4 -3.8 .3 4.1 .3 -4.2 .4 5 .3 -5 .3 4 .4 -5.8 .3 6.7 .3 -5.9 .4 5.3 .3 -5.3 .3 5.1 .4 -4.5 .3 3.7 .3 -2.7 .4 3.1 .3 -2.6 .3 3.4 .4 -4.2 .3 3 .3 -3.1 .4 4.1 .3 -3.9 .3 3 .4 -2.9 .3 3.8 .3 -4.9 .4 4 .3 -3.2 .3 4.8 .4 -5.4 .3 5.5 .3 -5.4 .4 3.8 .3 -2.9 .3 3.2 .4 -3.6 .3 3.9 .3 -3.3 .4 2.9 .3 -3 .3 2.6 .4 -2.7 .3 3.2 .3 -4.6 .4 4.5 .3 -3.4 .3 3.3 .4 -2.9 .3 3.4 .3 -4.7 .4 4.4 .3 -3.1 .4 3.6 .3 -3.5 .3 3.3 .4 -4.8 .3 4.3 .3 -3.4 .4 4.9 .3 -5.4 .3 4.5 .4 -4.5 .3 4.3 .3 -3.4 .4 3.1 .3 -3.3 .3 3.7 .4 -5.9 .3 5.8 .3 -3.2 .4 3.2 .3 -4.8 .3 4.4 .4 -3.5 .3 4.2 .3 -4.9 .4 4 .3 -4.2 .3 4.3 .4 -3.7 .3 4.1 .3 -6 .4 6 .3 -5 .3 5.5 .4 -4 .3 3.7 .3 -3.3 .4 3.8 .3 -4.8 .3 3.4 .4 -3.6 .3 3.9 .3 -4.2 .4 4.4 .3 -3.6 .3 4.9 .4 -5.3 .3 4.4 .3 -3.4 .4 3.5 .3 -4.7 .3 5.1 .4 -6.2 .3 5.5 .3 -4.3 .4 4.1 .3 -2.8 .3 3.7 .4 -4.5 .3 3.9 .3 -3.2 .4 2.7 .3 -3.1 .3 4 .4 -5.4 .3 4.7 .3 -3.8 .4 3.6 .3 -2.7 .3 2.4 .4 -3.5 .3 3.7 .3 -3.2 .4 3.9 .3 -3.5 .3 3.8 .4 -4 .3 3.2 .3 -4.7 .4 4.8 .3 -4.1 .3 4 .4 -3.4 .3 3 .3 -3.1 .4 5.2 .3 -4.8 .3 4.5 .4 -4.8 .3 3.1 .4 -4.5 .3 4.3 .3 -3.6 .4 5.7 .3 -5.6 .3 4.8 .4 -3.8 .3 2.8 .3 -2.7 .4 3.3 .3 -3.1 .3 2.3 .4 -3.2 .3 5.3 .3 -6.6 .4 5 .3 -3.9 .3 4.8 .4 -4.3 .3 3.5 .3 -3.8 .4 3.8 .3 -3.1 .3 2.6 .4 -4.3 .3 5 .3 -3.5 .4 3.3 .3 -4.3 .3 4.3 .4 -4.6 .3 5.3 .3 -4 .4 3.7 .3 -3.7 .3 2.8 .4 -3.3 .3 3.5 .3 -3.3 .4 4 .3 -5.4 .3 5.6 .4 -4.1 .3 4.1 .3 -3.7 .4 3.2 .3 -4.7 .3 6.5 .4 -6.4 .3 4.1 .3 -4.1 .4 6.2 .3 -4.9 .3 3.6 .4 -4 .3 3.5 .3 -2.8 .4 3.3 .3 -3.2 .3 3.2 .4 -4.3 .3 3.8 .3 -3.5 .4 3.7 .3 -4.2 .3 3.8 .4 -2.9 .3 3.9 .3 -5.2 .4 4.3 .3 -3 .3 2.6 .4 -3.5 .3 4.1 .3 -3.3 .4 3.5 .3 -3.2 .3 3 .4 -4.6 .3 4.6 .3 -3.6 .4 4 .3 -4.3 .3 3.4 .4 -4.3 .3 4.4 .3 -2.9 .4 2.8 .3 -3.5 .4 4.4 .3 -5.7 .3 5.3 .4 -3.6 .3 4.5 .3 -4.2 .4 3.6 .3 -3.6 .3 4.2 .4 -4.9 .3 4.6 .3 -3.8 .4 4 .3 -4.1 .3 4.5 .4 -4.9 .3 3.5 .3 -2.8 .4 3.5 .3 -3.8 .3 3.3 .4 -3.1 .3 3.3 .3 -3.9 .4 4.4 .3 -4.6 .3 4.4 .4 -4.1 .3 3.7 .3 -3.9 .4 4.5 .3 -4.7 .3 3.7 .4 -4 .3 4 .3 -3.6 .4 4.2 .3 -5.4 .3 5.1 .4 -4.3 .3 4.7 .3 -3.3 .4 2.7 .3 -3.9 .3 5.6 .4 -4.8 .3 3.6 .3 -4.5 .4 4.8 .3 -4.3 .3 3.6 .4 -3.7 .3 3.6 .3 -3.1 .4 4.1 .3 -4.1 .3 3.3 .4 -3.8 .3 3.2 .3 -2.7 .4 2.7 .3 -3.4 .3 4.1 .4 -3.4 .3 4.1 .3 -3.9 .4 3.4 .3 -3.6 .3 2.8 .4 -3.4 .3 3.6 .3 -3 .4 3.6 .3 -3.4 .3 2.8 .4 -4.8 .3 5.1 .3 -3.1 .4 3 .3 -3 .3 3.3 .4 -4.3 .3 4.3 .3 -3.4 .4 3.2 .3 -4.1 .3 3.7 .4 -3.7 .3 5.3 .4 -3.9 .3 2.1 .3 -4.3 .4 5.1 .3 -3.3 .3 3.9 .4 -4.1 .3 3.1 .3 -2.8 .4 3 .3 -4.3 .3 4.2 .4 -3.1 .3 3.1 .3 -2.8 .4 2.7 .3 -2.9 .3 4.2 .4 -3.9 .3 2.5 .3 -2.9 .4 3 .3 -2.5 .3 3.5 .4 -3.5 .3 3.1 .3 -3.6 .4 3.1 .3 -4.9 .3 5.2 .4 -4.9 .3 4.6 .3 -4.3 .4 5 .3 -4 .3 3.8 .4 -4.3 .3 3.8 .3 -4.2 .4 4.4 .3 -4.2 .3 5.5 .4 -5.4 .3 3.3 .3 -2.7 .4 3.1 .3 -3.3 .3 4.4 .4 -5.4 .3 5.3 .3 -4.3 .4 5.5 .3 -4.8 .3 3.9 .4 -5.7 .3 7 .3 -6.7 .4 4.4 .3 -2.8 .3 3.3 .4 -3.3 .3 2.7 .3 -4.3 .4 4.2 .3 -4.4 .3 4.4 .4 -3.4 .3 5.3 .3 -6.1 .4 4.4 .3 -4.5 .3 4.1 .4 -3.3 .3 4.4 .3 -4.1 .4 3.3 .3 -3.7 .3 3.3 .4 -2.7 .3 3.7 .3 -4.1 .4 4.2 .3 -3.9 .3 3.2 .4 -4.3 .3 4.3 .4 -4.1 .3 3.8 .3 -2.7 .4 3.2 .3 -3.1 .3 3.3 .4 -3.1 .3 2.5 .3 -4 .4 4.2 .3 -3 .3 4.2 .4 -5 .3 3.6 .3 -2.9 .4 3.5 .3 -4.9 .3 4.1 .4 -3 .3 4.5 .3 -4.5 .4 4 .3 -5 .3 4.3 .4 -3.9 .3 4.3 .3 -3.4 .4 3.6 .3 -4.4 .3 3.9 .4 -3.6 .3 3.2 .3 -3.3 .4 3.7 .3 -3.3 .3 4 .4 -4 .3 4.8 .3 -5.8 .4 4.5 .3 -3.9 .3 3.2 .4 -2.6 .3 2.9 .3 -3.7 .4 4.3 .3 -3.3 .3 4.5 .4 -4.6 .3 3.3 .3 -4.4 .4 4.5 .3 -3.8 .3 3.8 .4 -4.3 .3 5.9 .3 -5.1 .4 4.7 .3 -4.8 .3 2.8 .4 -2.9 .3 3 .3 -2.8 .4 3 .3 -3.4 .3 5.4 .4 -7 .3 4.9 .3 -4 .4 4.8 .3 -3.7 .3 3.9 .4 -4.9 .3 5.3 .3 -4.4 .4 4.9 .3 -6.3 .3 4.8 .4 -3.2 .3 3.3 .3 -3.8 .4 4.1 .3 -4.1 .3 4.1 .4 -3.2 .3 2.4 .3 -3.3 .4 4.2 .3 -5 .4 4.8 .3 -4.1 .3 4.5 .4 -5.2 .3 4.9 .3 -4.3 .4 4.9 .3 -4.5 .3 4.7 .4 -4.5 .3 3 .3 -3.1 .4 3.1 .3 -3.1 .3 4.4 .4 -4.9 .3 3.7 .3 -3.8 .4 3.6 .3 -2.3 .3 2.2 .4 -2.9 .3 2.9 .3 -2.9 .4 4.5 .3 -5.4 .3 5 .4 -4.4 .3 3.9 .3 -4.4 .4 4.8 .3 -3.8 .3 3 .4 -4.1 .3 5.2 .3 -4.3 .4 3.3 .3 -4.2 .3 4.1 .4 -4.3 .3 4.7 .3 -5.2 .4 4.7 .3 -3.2 .3 3.4 .4 -3.4 .3 4.2 .3 -4.6 .4 4.7 .3 -6.5 .3 5.2 .4 -2.3 .3 2.7 .3 -3.3 .4 3.4 .3 -3.2 .3 2.8 .4 -4.7 .3 5.4 .3 -3.9 .4 3.2 .3 -2.9 .3 3.1 .4 -3 .3 3.5 .3 -3.8 .4 3.6 .3 -4.3 .3 3.5 .4 -4.8 .3 5.5 .3 -4.9 .4 5.3 .3 -3.7 .3 4.8 .4 -5.7 .3 4.4 .3 -4 .4 4.7 .3 -4.1 .3 3.2 .4 -4.1 .3 5.2 .3 -4.8 .4 3.6 .3 -3.3 .3 3.3 .4 -5.2 .3 4.7 .4 -3.1 .3 3.9 .3 -4 .4 4.8 .3 -5.5 .3 4.1 .4 -4.1 .3 4.2 .3 -3 .4 4.1 .3 -5.3 .3 3.9 .4 -2.6 .3 3.6 .3 -4.8 .4 4.9 .3 -5.5 .3 4.6 .4 -4 .3 4 .3 -3.5 .4 4 .3 -4.2 .3 4.4 .4 -3.8 .3 2.9 .3 -2.5 .4 4 .3 -4.8 .3 4.4 .4 -5.3 .3 4.5 .3 -3 .4 3.4 .3 -3.9 .3 3.9 .4 -3.5 .3 3.2 .3 -3.6 .4 3.9 .3 -4.2 .3 4.5 .4 -4.2 .3 4.1 .3 -4.2 .4 3.8 .3 -3.7 .3 3.1 .4 -3.2 .3 3.6 .3 -2.7 .4 3.3 .3 -5.4 .3 5.2 .4 -4.6 .3 4.3 .3 -3.1 .4 4.8 .3 -4.6 .3 2.7 .4 -2.9 .3 3.6 .3 -3.9 .4 3.8 .3 -4 .3 3.6 .4 -3.5 .3 3.2 .3 -3 .4 3.5 .3 -3.8 .3 3.5 .4 -5 .3 5.4 .3 -4.3 .4 3.9 .3 -3.2 .3 3.2 .4 -3.6 .3 4.4 .3 -4.2 .4 3.8 .3 -5.2 .3 5.3 .4 -3.4 .3 3.6 .3 -3.8 .4 5.3 .3 -5.1 .4 3.8 .3 -4.2 .3 3.8 .4 -4 .3 3.8 .3 -3.3 .4 3.3 .3 -4.4 .3 4.1 .4 -3.1 .3 2.9 .3 -2.7 .4 4.3 .3 -4.3 .3 3 .4 -4.7 .3 5.9 .3 -5.5 .4 3.9 .3 -4 .3 4.5 .4 -4.4 .3 5.5 .3 -5 .4 3.7 .3 -4.4 .3 6.7 .4 -5.5 .3 3.3 .3 -3.9 .4 4.2 .3 -3.9 .3 3.1 .4 -2.6 .3 3.8 .3 -3.9 .4 3.2 .3 -4.4 .3 4.3 .4 -4.8 .3 4.5 .3 -4.7 .4 5.2 .3 -3.5 .3 3.3 .4 -3.5 .3 4.2 .3 -4 .4 3.3 .3 -4.4 .3 5.3 .4 -3.5 .3 3.8 .3 -5.1 .4 3.4 .3 -3.2 .3 4.2 .4 -3.5 .3 3.1 .3 -4.4 .4 4.1 .3 -3.3 .3 3.9 .4 -4.5 .3 4.3 .3 -4.6 .4 4.2 .3 -4.4 .3 4.8 .4 -4.2 .3 5.5 .3 -4.4 .4 2.6 .3 -4.4 .3 5.3 .4 -4.2 .3 3.9 .3 -3.3 .4 3.8 .3 -4.7 .3 4.9 .4 -5 .3 4.5 .3 -5.3 .4 4.5 .3 -3.6 .3 4.4 .4 -4.7 .3 5.9 .4 -5.9 .3 3.9 .3 -3.7 .4 3.8 .3 -3.3 .3 4.3 .4 -4.2 .3 5.6 .3 -4.8 .4 4 .3 -4.4 .3 3.3 .4 -3.5 .3 4 .3 -4.1 .4 6 .3 -6.6 .3 4.8 .4 -4.1 .3 4.3 .3 -4 .4 3.2 .3 -3.9 .3 4 .4 -4 .3 3.4 .3 -2.2 .4 2.6 .3 -3.9 .3 4.2 .4 -4.4 .3 4.9 .3 -4.7 .4 4.8 .3 -5.7 .3 5.2 .4 -4.4 .3 4.7 .3 -5.4 .4 4.4 .3 -3.6 .3 4.6 .4 -5.4 .3 5.4 .3 -4.3 .4 3.6 .3 -4.4 .3 4.6 .4 -4.4 .3 6.1 .3 -6.1 .4 3.9 .3 -3.3 .3 3.7 .4 -5.1 .3 4.9 .3 -3.5 .4 3.5 .3 -2.8 .3 4.1 .4 -5.3 .3 4.6 .3 -6.1 .4 5.8 .3 -3.7 .3 4.8 .4 -5.1 .3 3.5 .3 -3.9 .4 4.2 .3 -3.3 .3 3.3 .4 -3.3 .3 3.6 .3 -4.1 .4 4.4 .3 -4.2 .3 5 .4 -5.5 .3 3.8 .3 -2.7 .4 3.2 .3 -3.4 .3 4.1 .4 -3.9 .3 4.7 .3 -7.4 .4 5.8 .3 -3.5 .4 4 .3 -4.4 .3 3.8 .4 -2.8 .3 2.9 .3 -3 .4 4.6 .3 -6.6 .3 4.8 .4 -4.7 .3 4.5 .3 -3.3 .4 4.6 .3 -4.6 .3 3.5 .4 -3.5 .3 3.3 .3 -3.6 .4 4.9 .3 -5.2 .3 4.1 .4 -4 .3 4.1 .3 -3.9 .4 3.9 .3 -3.2 .3 3.4 .4 -5.2 .3 5.1 .3 -3.6 .4 3.1 .3 -4.2 .3 6.1 .4 -5.9 .3 4.4 .3 -3.2 .4 5.1 .3 -5.9 .3 4.2 .4 -3.2 .3 3.9 .3 -4 .4 3.4 .3 -3.9" fill="none" stroke="#000" stroke-width="1.1" stroke-linejoin="miter" stroke-miterlimit="2"/>
<path d="M1203.0 252.8 C1204.7 253.1 1209.8 253.2 1212.9 254.5 C1216.1 255.8 1219.1 258.3 1221.9 260.9 C1224.7 263.5 1227.2 266.4 1229.9 269.9 C1232.6 273.4 1235.3 278.4 1237.8 281.9 C1240.3 285.4 1242.3 288.7 1244.8 290.8 C1247.3 292.9 1249.8 293.6 1252.8 294.3 C1255.8 295.0 1260.0 295.1 1262.7 294.8 C1265.4 294.6 1266.7 294.1 1268.7 292.8 C1270.7 291.5 1272.4 289.6 1274.7 286.8 C1277.0 284.0 1279.9 279.4 1282.6 275.9 C1285.2 272.4 1287.8 268.6 1290.6 265.9 C1293.4 263.2 1296.4 261.1 1299.6 259.9 C1302.8 258.6 1306.2 258.8 1309.5 258.4 C1312.8 258.0 1316.7 257.5 1319.5 257.7 C1322.3 257.9 1324.0 258.0 1326.5 259.4 C1329.0 260.8 1331.8 263.0 1334.4 265.9 C1337.1 268.8 1339.4 272.8 1342.4 276.9 C1345.4 281.0 1349.1 286.1 1352.4 290.3 C1355.7 294.5 1359.0 298.7 1362.3 301.8 C1365.6 304.9 1369.3 307.2 1372.3 308.7 C1375.3 310.1 1378.2 310.5 1380.5 310.5 C1382.8 310.5 1384.1 310.1 1386.0 308.7 C1387.9 307.2 1389.7 305.4 1392.0 301.8 C1394.3 298.2 1397.2 291.8 1399.9 286.8 C1402.6 281.8 1405.4 275.8 1407.9 271.9 C1410.4 268.0 1412.4 265.6 1414.9 263.4 C1417.4 261.2 1419.8 259.8 1422.8 258.9 C1425.8 257.9 1429.6 257.9 1432.8 257.7 C1436.0 257.5 1439.0 257.3 1441.8 257.9 C1444.6 258.5 1447.0 259.4 1449.7 261.4 C1452.4 263.4 1454.7 266.0 1457.7 269.9 C1460.7 273.8 1464.3 280.1 1467.6 284.8 C1470.9 289.5 1474.6 294.3 1477.6 297.8 C1480.6 301.3 1483.4 304.2 1485.6 305.8 C1487.8 307.4 1488.8 307.6 1490.6 307.7 C1492.4 307.8 1494.2 307.8 1496.5 306.3 C1498.8 304.8 1501.5 302.7 1504.5 298.8 C1507.5 294.9 1511.5 287.8 1514.5 282.8 C1517.5 277.8 1519.9 272.4 1522.4 268.9 C1524.9 265.4 1526.6 263.5 1529.4 261.9 C1532.2 260.3 1536.1 260.0 1539.4 259.4 C1542.7 258.8 1546.2 258.5 1549.3 258.4 C1552.4 258.3 1556.8 258.8 1558.3 258.9" fill="none" stroke="#000" stroke-width="2.2" stroke-linejoin="round" stroke-linecap="round"/>
<path d="M1202.6 464.7 C1204.4 463.6 1209.3 459.1 1213.5 458.0 C1217.7 456.9 1222.4 458.7 1228.0 458.0 C1233.6 457.3 1241.8 453.7 1247.0 453.8 C1252.2 453.9 1253.6 458.2 1259.5 458.6 C1265.4 459.0 1271.3 455.9 1282.5 456.3 C1293.7 456.7 1313.9 459.8 1326.4 461.1 C1339.0 462.4 1347.3 464.0 1357.8 464.3 C1368.3 464.6 1379.8 463.3 1389.2 462.8 C1398.6 462.3 1408.0 462.1 1414.3 461.1 C1420.6 460.1 1417.8 457.1 1426.8 456.9 C1435.8 456.7 1455.3 459.5 1468.6 459.7 C1481.8 459.9 1491.4 457.8 1506.3 458.0 C1521.2 458.2 1549.4 460.6 1558.0 461.1" fill="none" stroke="#000" stroke-width="1.8" stroke-linejoin="round" stroke-linecap="round"/>
<path d="M1611.9 159.7l.3 -10.5 .4 9.8 .3 -5.8 .3 5.8 .4 -6.6 .3 7.2 .3 -6.8 .4 5.4 .3 -5.8 .3 5.5 .4 -5.2 .3 4.6 .3 -5.3 .4 6.3 .3 -5.5 .3 5 .4 -7.4 .3 9 .3 -6.3 .4 6 .3 -6.5 .3 7.6 .4 -9.7 .3 7.2 .3 -6.5 .4 7.1 .3 -7.3 .3 8.1 .4 -6.5 .3 6.8 .3 -6.5 .4 5.1 .3 -6 .4 5.5 .3 -6 .3 7 .4 -5.8 .3 6.3 .3 -6.9 .4 7 .3 -6.3 .3 5.6 .4 -8 .3 6.9 .3 -4.8 .4 4.8 .3 -5.6 .3 6.1 .4 -6.5 .3 5.8 .3 -4.9 .4 4.8 .3 -5.3 .3 6.3 .4 -6.4 .3 5.8 .3 -6.8 .4 6.8 .3 -4.9 .3 5.5 .4 -6.1 .3 5.6 .3 -5.2 .4 5.5 .3 -7 .3 7.2 .4 -8.9 .3 9.8 .3 -7 .4 6.4 .3 -6 .3 7.7 .4 -7.8 .3 6.4 .3 -6.4 .4 4.8 .3 -4.2 .3 5.4 .4 -4.5 .3 4.6 .3 -11 .4 12.4 .3 -8.7 .3 7.4 .4 -6.4 .3 6.6 .3 -5.9 .4 6.3 .3 -6.6 .3 7.4 .4 -6.9 .3 5.7 .3 -5.4 .4 4.6 .3 -6.9 .3 8.3 .4 -6.4 .3 4.5 .4 -4.8 .3 6.9 .3 -7.5 .4 7.3 .3 -6 .3 5.5 .4 -6.6 .3 7.9 .3 -9 .4 6.4 .3 -5.2 .3 6.1 .4 -5.7 .3 4.4 .3 -3.9 .4 5.6 .3 -7 .3 6.7 .4 -7.2 .3 7.6 .3 -6.4 .4 6.5 .3 -6.5 .3 8.8 .4 -8.1 .3 7.3 .3 -7.9 .4 5 .3 -5.2 .3 4.7 .4 -4 .3 7.7 .3 -11.6 .4 9.1 .3 -5.8 .3 5.1 .4 -5.8 .3 6.5 .3 -5.7 .4 4.9 .3 -6.1 .3 6.1 .4 -7.3 .3 7.5 .3 -5.6 .4 5.1 .3 -5.4 .3 6.9 .4 -4.9 .3 3.8 .3 -4.6 .4 4.9 .3 -5.9 .3 6.3 .4 -5.1 .3 5.2 .3 -4.9 .4 7.5 .3 -8.9 .3 5.2 .4 -8.2 .3 8.5 .3 -8.3 .4 10.4 .3 -8.7 .4 6.6 .3 -5.5 .3 8.5 .4 -9.1 .3 7.5 .3 -5.4 .4 3.9 .3 -5.3 .3 5.7 .4 -4.6 .3 5.7 .3 -6 .4 7.7 .3 -9.3 .3 9.7 .4 -9.3 .3 -1.6 .3 16 .4 -8.5 .3 -6.5 .3 9.2 .4 -8.9 .3 6.6 .3 -6 .4 6 .3 -5 .3 6.6 .4 -6.6 .3 5.5 .3 -6.5 .4 7.9 .3 -8.3 .3 9.3 .4 -11.4 .3 9.9 .3 -6.9 .4 5.2 .3 -5.8 .3 6.8 .4 -5.8 .3 4.8 .3 -5.3 .4 4.7 .3 -6.7 .3 9.7 .4 -10.8 .3 8.3 .3 -5.6 .4 6.5 .3 -6 .3 5.1 .4 -5.3 .3 5 .3 -5.4 .4 7.4 .3 -7.6 .3 5.9 .4 -5.2 .3 8.9 .3 -9.8 .4 8.6 .3 -10.2 .3 8.8 .4 -7.1 .3 7.6 .4 -6.3 .3 6.4 .3 -7 .4 6.6 .3 -6.5 .3 5.2 .4 -4.9 .3 4.9 .3 -4.7 .4 6.4 .3 -6.2 .3 5.3 .4 -6 .3 5.7 .3 -6.2 .4 6.4 .3 -6.8 .3 6 .4 -5.2 .3 5.1 .3 -4.8 .4 5.1 .3 -4.6 .3 6.3 .4 -10 .3 7.8 .3 -7.1 .4 7.7 .3 -5.2 .3 4.3 .4 -5.8 .3 6.6 .3 -8.6 .4 9.5 .3 -10.4 .3 11.4 .4 -6.5 .3 6.7 .3 -9.8 .4 10.6 .3 -7.9 .3 4.2 .4 -4 .3 6.4 .3 -7.3 .4 6.5 .3 -5.8 .3 6.3 .4 -5.6 .3 3.5 .3 -4.6 .4 6 .3 -6.1 .3 5.5 .4 -7.1 .3 6.4 .3 -4.3 .4 4.2 .3 -6.5 .3 7.8 .4 -5.7 .3 7.5 .3 -7 .4 4 .3 -4.9 .4 6.6 .3 -8.1 .3 7.1 .4 -5.3 .3 5.5 .3 -7.7 .4 7 .3 -4.5 .3 4.8 .4 -5.3 .3 5.1 .3 -6.3 .4 8.2 .3 -7.5 .3 5.1 .4 -4.3 .3 8.2 .3 -9 .4 7.7 .3 -6.7 .3 5.6 .4 -7.4 .3 7 .3 -6.3 .4 8.4 .3 -7.2 .3 5.8 .4 -7.1 .3 9 .3 -8.4 .4 5.5 .3 -8.1 .3 8.8 .4 -5.7 .3 6.4 .3 -9.8 .4 8.6 .3 -5.3 .3 9.1 .4 -10.2 .3 5.3 .3 -5.2 .4 5.9 .3 -5.1 .3 5.2 .4 -5.5 .3 6.2 .3 -7.1 .4 6.6 .3 -4.8 .3 6.8 .4 -7.4 .3 7.7 .3 -7.5 .4 6 .3 -7.5 .3 7.4 .4 -6 .3 6.4 .3 -5.9 .4 5.7 .3 -6.1 .4 7.7 .3 -7.1 .3 4.8 .4 -5.8 .3 5.1 .3 -6.5 .4 6.5 .3 -3.7 .3 4.2 .4 -6.7 .3 7.1 .3 -6 .4 6.8 .3 -8.2 .3 6.8 .4 -5.4 .3 7.2 .3 -9.1 .4 6.6 .3 -5.8 .3 7.6 .4 -5.7 .3 5.7 .3 -5.9 .4 5.5 .3 -5.2 .3 5.8 .4 -9.4 .3 10.2 .3 -6.7 .4 5.2 .3 -6.9 .3 6.7 .4 -7.3 .3 7.6 .3 -4.8 .4 4.4 .3 -6.7 .3 6 .4 -5.6 .3 8.9 .3 -9.3 .4 7.7 .3 .3 .3 -8 .4 1.5 .3 5.4 .3 -5.9 .4 5.9 .3 -6.8 .3 6.2 .4 -5.3 .3 7.7 .3 -6.7 .4 4.5 .3 -4.7 .3 4.8 .4 -6.7 .3 9.2 .3 -7.8 .4 6.7 .3 -6.6 .3 4.7 .4 -5.6 .3 9.3 .4 -10 .3 7.3 .3 -5.1 .4 5.6 .3 -7 .3 6.1 .4 -4.9 .3 7.2 .3 -9.1 .4 7.6 .3 -5.6 .3 5.9 .4 -6.3 .3 5.2 .3 -6.4 .4 7.9 .3 -6.8 .3 6.9 .4 -7 .3 7 .3 -7.4 .4 7.3 .3 -7.1 .3 5.5 .4 -6.7 .3 6 .3 -3.8 .4 5.6 .3 -6.5 .3 6.9 .4 -5.9 .3 6.9 .3 -9.5 .4 7.1 .3 -5.3 .3 5 .4 -4.5 .3 3.9 .3 -3.7 .4 5.9 .3 -6.9 .3 5.9 .4 -5.2 .3 6.2 .3 -6.3 .4 7 .3 -7.1 .3 6.6 .4 -10.6 .3 10.7 .3 -8.5 .4 7.6 .3 -6.1 .3 4.5 .4 -3.7 .3 4.5 .3 -5.5 .4 7.4 .3 -10.1 .3 8.3 .4 -5.5 .3 5.6 .3 -5.2 .4 6.5 .3 -6.2 .4 9.1 .3 -8.6 .3 3.4 .4 -5.3 .3 8.5 .3 -8 .4 5.1 .3 -5 .3 6.9 .4 -6.7 .3 4.6 .3 -3.7 .4 5.1 .3 -8 .3 8.9 .4 -7.8 .3 5.9 .3 -4.8 .4 7 .3 -10.3 .3 7.5 .4 -4.7 .3 7.9 .3 -10.8 .4 8.9 .3 -6.3 .3 6.5 .4 -7 .3 7 .3 -7.5 .4 6 .3 -4.1 .3 6.2 .4 -8.1 .3 6.9 .3 -4.8 .4 6.1 .3 -5.8 .3 5.3 .4 -6 .3 6.3 .3 -6.1 .4 6 .3 -6 .3 5.5 .4 -7.5 .3 7 .3 -5.7 .4 5.6 .3 -4.2 .3 4.7 .4 -6.3 .3 5.4 .3 -5.6 .4 6 .3 -4.5 .3 5.1 .4 -6.8 .3 6.7 .3 -5.2 .4 7.8 .3 -8.1 .3 6.7 .4 -6.5 .3 5.5 .4 -8.2 .3 8.5 .3 -6.2 .4 5.5 .3 -6.8 .3 7.7 .4 -7.4 .3 6.4 .3 -5.1 .4 4.3 .3 -6 .3 7.5 .4 -6.5 .3 7.4 .3 -6.7 .4 4.7 .3 -4.4 .3 4.2 .4 -4.2 .3 5.8 .3 -6.3 .4 5.2 .3 -5.3 .3 7.9 .4 -8.9 .3 7.2 .3 -5.9 .4 5.4 .3 -4.8 .3 5.5 .4 1.3 .3 -9 .3 -.4 .4 8.3 .3 -7.2 .3 5.9 .4 -7.9 .3 7.5 .3 -4.4 .4 5 .3 -4.8 .3 5.6 .4 -5.9 .3 8.1 .3 -9.5 .4 7.6 .3 -7.1 .3 5.2 .4 -5.6 .3 5.4 .3 -4 .4 5.2 .3 -6.3 .3 5.4 .4 -5.1 .3 5.6 .3 -5.2 .4 5.3 .3 -6.1 .3 6.1 .4 -6.5 .3 5.6 .3 -6.4 .4 7.3 .3 -5.1 .4 5.6 .3 -5.5 .3 7.5 .4 -10 .3 8 .3 -6.3 .4 6.3 .3 -5.7 .3 5 .4 -4.4 .3 5.2 .3 -8.1 .4 9.6 .3 -8.6 .3 6.4 .4 -6.1 .3 6 .3 -5.1 .4 4.8 .3 -6.9 .3 7 .4 -4.6 .3 5 .3 -5.4 .4 7.8 .3 -7.6 .3 5.9 .4 -7.7 .3 6.5 .3 -6 .4 7.7 .3 -5.9 .3 5.4 .4 -7.1 .3 6.1 .3 -4.7 .4 5.2 .3 -5.7 .3 4.9 .4 -5 .3 5.8 .3 -8.1 .4 9.2 .3 -6.2 .3 5.1 .4 -5.5 .3 6.1 .3 -7.1 .4 8.3 .3 -7.8 .3 6.2 .4 -7.2 .3 6.1 .3 -7.1 .4 8.3 .3 -5.6 .3 4.4 .4 -5.5 .3 6.4 .3 -4.8 .4 5 .3 -5.4 .3 5.2 .4 -5.5 .3 6.7 .4 -7.3 .3 6.4 .3 -6.6 .4 7.7 .3 -6.5 .3 6.5 .4 -7.3 .3 5.2 .3 -5.1 .4 5.9 .3 -4.7 .3 4.6 .4 -4.9 .3 5.9 .3 -8 .4 7.9 .3 -5.9 .3 6.1 .4 -7 .3 4.7 .3 -4.6 .4 6.6 .3 -6.3 .3 5.5 .4 -5.4 .3 6.7 .3 -8.1 .4 6 .3 -4.1 .3 4 .4 -5.9 .3 6.9 .3 -5.6 .4 4.3 .3 -4.6 .3 5.2 .4 -4.4 .3 4.8 .3 -6.4 .4 6 .3 -4.9 .3 7.4 .4 -7.7 .3 6 .3 -5.7 .4 4.8 .3 -4.5 .3 5.8 .4 -6.3 .3 7.6 .3 -7.1 .4 4.8 .3 -4.8 .3 7.6 .4 -9 .3 5.9 .3 -5.2 .4 6.1 .3 -5.8 .3 7.4 .4 -7.3 .3 6.1 .3 -6.8 .4 7.1 .3 -7.8 .4 6.6 .3 -6.4 .3 5.3 .4 -6.8 .3 10.1 .3 -7.9 .4 5.7 .3 -5.6 .3 5.4 .4 -5.1 .3 5.7 .3 -5.5 .4 5.8 .3 -5.7 .3 4.9 .4 -4.8 .3 6 .3 -5.5 .4 6.9 .3 -7.9 .3 6.1 .4 -8.2 .3 7 .3 -7.2 .4 9 .3 -6.9 .3 5.7 .4 -5.7 .3 5.8 .3 -6.6 .4 7.6 .3 -7.2 .3 9.7 .4 -9.7 .3 6.4 .3 -6.2 .4 7.8 .3 -8.6 .3 8.5 .4 -8.1 .3 6.3 .3 -6 .4 5.5 .3 -5.6 .3 5.2 .4 -6.1 .3 8.4 .3 -9.1 .4 8.4 .3 -5.5 .3 4.6 .4 -7 .3 7.3 .3 -6 .4 5.5 .3 -4.5 .3 4.3 .4 -6.9 .3 9.2 .3 -7 .4 4.4 .3 -3.9 .3 4.9 .4 -7.2 .3 7.3 .4 -6.2 .3 7.6 .3 -10 .4 8 .3 -5.8 .3 7.5 .4 -6.9 .3 5.7 .3 -6 .4 6.2 .3 -5.4 .3 5.6 .4 -7.3 .3 7.8 .3 -8.9 .4 9.4 .3 -7.8 .3 7.1 .4 -6.3 .3 5.8 .3 -5.8 .4 6.6 .3 -6.3 .3 7.4 .4 -7.4 .3 6.4 .3 -6.5 .4 4.5 .3 -5.9 .3 7.6 .4 -6.7 .3 4.9 .3 -4.3 .4 5.4 .3 -6.9 .3 6.2 .4 -4.7 .3 6.3 .3 -6.1 .4 4.9 .3 -5.6 .3 6.1 .4 -6.6 .3 5.6 .3 -4.3 .4 4.9 .3 -5.8 .3 5.7 .4 -4.9 .3 4.4 .3 -4.9 .4 6.2 .3 -6.2 .3 5.3 .4 -7 .3 7.7 .3 -6 .4 4.2 .3 -3.8 .3 4.8 .4 -5.8 .3 8 .3 -9.8 .4 8.1 .3 -5.7 .4 5 .3 -5.7 .3 6.3 .4 -4.9 .3 8.4 .3 -10.5 .4 6.1 .3 -6.3 .3 7.3 .4 -5 .3 5.2 .3 -8.5 .4 7.6 .3 -7.1 .3 6.7 .4 -6.5 .3 8.6 .3 -8 .4 6.7 .3 -7.1 .3 6.7 .4 -5.8 .3 6.9 .3 -6 .4 5.1 .3 -4.9 .3 4.4 .4 -4.1 .3 4.6 .3 -5.5 .4 5 .3 -5 .3 7.1 .4 -6.6 .3 5.2 .3 -4.6 .4 4.1 .3 -5.7 .3 7.4 .4 -6.2 .3 4.8 .3 -5 .4 5.8 .3 -7.3 .3 7.1 .4 -5.3 .3 5.4 .3 -6.8 .4 8.3 .3 -8.3 .3 6.5 .4 -7.9 .3 8.1 .3 -6.7 .4 8.2 .3 -7.1 .3 7.3 .4 -8 .3 7.4 .3 -9.8 .4 8.9 .3 -7.9 .4 7.4 .3 -5.8 .3 7.1 .4 -8.3 .3 8 .3 -5.7 .4 7.6 .3 -11 .3 9.2 .4 -9.7 .3 10.8 .3 -8.2 .4 6 .3 -4.6 .3 6.7 .4 -6.2 .3 4 .3 -5.2 .4 6.8 .3 -7.6 .3 5.2 .4 -5.2 .3 5.6 .3 -5.1 .4 5.9 .3 -7.9 .3 8.4 .4 -6.1 .3 7.9 .3 -10.4 .4 7.7 .3 -7.2 .3 7.9 .4 -8.1 .3 8.2 .3 -5.8 .4 6.1 .3 -6.6 .3 5.7 .4 -5.3 .3 4.9 .3 -6.7 .4 8.7 .3 -6.6 .3 6 .4 -6.5 .3 5 .3 -4.7 .4 6.1 .3 -7.2 .3 6.8 .4 -6.1 .3 7.5 .3 -7.8 .4 7.9 .3 -7.9 .3 5.4 .4 -5.8 .3 6.2 .3 -8.5 .4 9.6 .3 -8 .3 7.8 .4 -5.9 .3 5.6 .4 -7.2 .3 7.2 .3 -5.9 .4 5.9 .3 -7.4 .3 7.6 .4 -7.7 .3 6.9 .3 -5 .4 6.8 .3 -6.8 .3 4.9 .4 -5.9 .3 5.6 .3 -8.3 .4 8.7 .3 -6 .3 7 .4 -6.6 .3 5.5 .3 -5.8 .4 6.7 .3 -6.6 .3 5.9 .4 -4.5 .3 4.5 .3 -8.7 .4 8.8 .3 -6.3 .3 5.9 .4 -5.4 .3 5.5 .3 -5.9 .4 7.2 .3 -6 .3 3.9 .4 -5.5 .3 7.2 .3 -6.4 .4 6.7 .3 -9.5 .3 9.3 .4 -6.2 .3 6.6 .3 -6.1 .4 6.1 .3 -7.1 .3 6 .4 -6.1 .3 5.7 .3 -7.4 .4 9.9 .3 -7.6 .3 7.2 .4 -8.1 .3 7 .3 -8.8 .4 8.1 .3 -5.1 .3 7.4 .4 -11 .3 8.3 .3 -5.6 .4 5.4 .3 -5.6 .4 5.2 .3 -5.2 .3 7.3 .4 -6.3 .3 6.5 .3 -7 .4 5.4 .3 -5.6 .3 7.3 .4 -9.5 .3 10.6 .3 -8.7 .4 6.4 .3 -6.6 .3 6.3 .4 -6.3 .3 5.9 .3 -5.5 .4 7.5 .3 -6.8 .3 6.4 .4 -6.4 .3 6.4 .3 -7.5 .4 6.5 .3 -5.4 .3 5.7 .4 -5.8 .3 6 .3 -5.8 .4 6.6 .3 -6.8 .3 5.3 .4 -5.8 .3 6.7 .3 -5.5 .4 3.9 .3 -5.2 .3 7.3 .4 -6.5 .3 4.8 .3 -5.8 .4 6.2 .3 -7.9 .3 8.2 .4 -7.4 .3 9.2 .3 -8.1 .4 6.1 .3 -6.8 .3 6.8 .4 -5.4 .3 8.5 .3 -9.3 .4 7 .3 -6.8 .3 6.7 .4 -6.4 .3 5.7 .3 -6.6 .4 8.4 .3 -9.2 .3 7.9 .4 -6.9 .3 6.9 .4 -7 .3 6.7 .3 -7.8 .4 7.8 .3 -5.4 .3 8.1 .4 -8.2 .3 5.1 .3 -6.1 .4 8.8 .3 -9.3 .3 8.6 .4 -9.5 .3 8.4 .3 -6.3 .4 6.2 .3 -8.7 .3 7.6 .4 -6 .3 6.7 .3 -7.7 .4 9 .3 -7.6 .3 8.2 .4 -8.5 .3 7.3 .3 -7 .4 6.3 .3 -5.7 .3 5.9 .4 -6.6 .3 7.3" fill="none" stroke="#000" stroke-width="1.1" stroke-linejoin="miter" stroke-miterlimit="2"/>
<path d="M1611.9 223.6l.3 -7.3 .4 9.2 .3 -13.2 .3 11.4 .4 -8.1 .3 7.6 .3 -6 .4 7.4 .3 -8.2 .3 10.8 .4 -11.1 .3 7.2 .3 -10.9 .4 9.9 .3 -4.7 .3 5.4 .4 -6.1 .3 10.5 .3 -10.3 .4 9 .3 -10.4 .3 8.1 .4 -6.9 .3 6.7 .3 -5.9 .4 5.7 .3 -9.5 .3 9.2 .4 -7.2 .3 7.8 .3 -6.2 .4 7.4 .3 -7.5 .4 6.9 .3 -8.3 .3 6.3 .4 -5.8 .3 8.5 .3 -9.9 .4 8.3 .3 -8.2 .3 9.3 .4 -8.7 .3 7.8 .3 -6.8 .4 7 .3 -9.1 .3 9.8 .4 -9 .3 10.3 .3 -8.8 .4 6.4 .3 -6.9 .3 7.8 .4 -8 .3 7.7 .3 -9.2 .4 9.5 .3 -6.8 .3 7.6 .4 -8.9 .3 8.2 .3 -7.1 .4 6.3 .3 -6.3 .3 6.2 .4 -7.5 .3 9.7 .3 -8.1 .4 8.1 .3 -8.8 .3 5.5 .4 -4.5 .3 7 .3 -7.7 .4 7.8 .3 -8.6 .3 8.2 .4 -7.1 .3 7.4 .3 -9.1 .4 7.3 .3 -9.2 .3 9.5 .4 -8.2 .3 10.1 .3 -8.7 .4 8.4 .3 -7.2 .3 4.8 .4 -8 .3 9.8 .3 -9.9 .4 10.4 .3 -7.5 .3 5.8 .4 -5.8 .3 5.4 .4 -7 .3 7.9 .3 -7.1 .4 6.9 .3 -7.2 .3 8.8 .4 -7.6 .3 8.3 .3 -9.2 .4 6.7 .3 -7.8 .3 8.8 .4 -8.6 .3 9.4 .3 -8.7 .4 7.3 .3 -7.6 .3 8.7 .4 -7.2 .3 7.2 .3 -8 .4 6.7 .3 -8.3 .3 8.6 .4 -9.7 .3 9.1 .3 -6 .4 5.2 .3 -7 .3 8.2 .4 -6.3 .3 5.6 .3 -7.6 .4 8.1 .3 -8 .3 7.4 .4 -6.4 .3 7.2 .3 -6.3 .4 8.6 .3 -8.1 .3 5.4 .4 -7.2 .3 7.5 .3 -7.6 .4 9 .3 -8.3 .3 8.3 .4 -9 .3 8.9 .3 -8.6 .4 10.1 .3 -10 .3 7.3 .4 -8.3 .3 8.1 .3 -5.8 .4 7.6 .3 -10 .3 7.8 .4 -5.4 .3 8.8 .3 -11 .4 10.8 .3 -9.9 .4 7.8 .3 -7.8 .3 6.9 .4 -6.6 .3 8 .3 -8.5 .4 9.2 .3 -8.5 .3 10.6 .4 -13 .3 8.5 .3 -7.8 .4 7.2 .3 -5 .3 6.8 .4 -8.9 .3 -1 .3 14 .4 -2.6 .3 -10.6 .3 7.5 .4 -6.6 .3 7.9 .3 -9.3 .4 10.8 .3 -9.5 .3 7.7 .4 -6.8 .3 6.9 .3 -7.8 .4 9.9 .3 -9.1 .3 7.3 .4 -7.8 .3 9.3 .3 -10.3 .4 8.3 .3 -10 .3 9.2 .4 -7.7 .3 11.3 .3 -9.4 .4 7.7 .3 -8.2 .3 7.5 .4 -8.2 .3 7.4 .3 -7.3 .4 9.8 .3 -8.9 .3 9.3 .4 -9.6 .3 7 .3 -9.5 .4 11.3 .3 -10 .3 8.3 .4 -6.6 .3 6.5 .3 -6.9 .4 6.8 .3 -7.4 .3 8.4 .4 -8 .3 6.9 .4 -6.3 .3 9 .3 -9 .4 5.7 .3 -7.3 .3 8.4 .4 -7.6 .3 8.4 .3 -6.4 .4 5.5 .3 -5.7 .3 7.1 .4 -8.1 .3 7.3 .3 -6.9 .4 7.4 .3 -11.8 .3 12 .4 -8.4 .3 8 .3 -9.6 .4 9.9 .3 -7 .3 5 .4 -7.2 .3 7.8 .3 -6.9 .4 6.8 .3 -8.9 .3 9.7 .4 -7.7 .3 8.7 .3 -8.8 .4 8.7 .3 -9.7 .3 0 .4 11 .3 -1.9 .3 -6.7 .4 5.7 .3 -6.5 .3 7.3 .4 -6.1 .3 6 .3 -6.4 .4 6.2 .3 -8.8 .3 9.2 .4 -7.1 .3 8.9 .3 -10.2 .4 7 .3 -7.1 .3 7.9 .4 -7.6 .3 7.5 .3 -9.5 .4 9.7 .3 -6.7 .3 5.5 .4 -5.5 .3 6.5 .3 -6.8 .4 9.4 .3 -9.3 .4 8.9 .3 -9.4 .3 9.2 .4 -10.7 .3 11.6 .3 -10.8 .4 8 .3 -6.3 .3 9.3 .4 -10.2 .3 6.7 .3 -6.8 .4 6.6 .3 -6.5 .3 10.4 .4 -10.8 .3 7.8 .3 -9.6 .4 9.2 .3 -6 .3 5.3 .4 -5.8 .3 7.1 .3 -6.6 .4 7.1 .3 -6.6 .3 8 .4 -8.4 .3 7.2 .3 -8.6 .4 7.5 .3 -6.2 .3 4.6 .4 -6.8 .3 7.9 .3 -6.9 .4 7.4 .3 -5.8 .3 5 .4 -6.6 .3 7.1 .3 -6.6 .4 6.3 .3 -5.3 .3 4.8 .4 -7.1 .3 9.7 .3 -11.3 .4 11.5 .3 -7.8 .3 6.6 .4 -8.5 .3 8.9 .3 -7.5 .4 8.2 .3 -10.6 .3 8.8 .4 -11.6 .3 13.7 .3 -8.2 .4 6.6 .3 -9.1 .4 11.9 .3 -12.8 .3 9.8 .4 -6.7 .3 6.5 .3 -6.7 .4 6.2 .3 -5.5 .3 8.2 .4 -8.4 .3 6.9 .3 -8.1 .4 10 .3 -9.7 .3 6.7 .4 -9.1 .3 9 .3 -5.3 .4 7.3 .3 -7.1 .3 7.2 .4 -8.3 .3 7.1 .3 -6.5 .4 5.8 .3 -7.1 .3 10.1 .4 -9.9 .3 6.8 .3 -7.3 .4 9.1 .3 -11.6 .3 10.7 .4 -6.6 .3 8.4 .3 -10.9 .4 8.6 .3 -6.1 .3 5.5 .4 -7.4 .3 7.3 .3 -8.4 .4 11 .3 -9.2 .3 6.9 .4 -5.8 .3 5 .3 -4.9 .4 6.8 .3 -6.7 .3 5.1 .4 -6.9 .3 9 .3 -8.1 .4 8 .3 -8.9 .3 8.1 .4 -7.2 .3 6.9 .3 -6.6 .4 6.5 .3 -6.5 .3 11.6 .4 -14.4 .3 9.8 .4 -8.2 .3 9.6 .3 -7.4 .4 6.2 .3 -7.1 .3 6.6 .4 -9.8 .3 11.4 .3 -7.5 .4 8.5 .3 -9.6 .3 8.4 .4 -9.2 .3 7.8 .3 -7.2 .4 9.6 .3 -10.1 .3 7.9 .4 -7.1 .3 5.8 .3 -5.3 .4 6.5 .3 -7.3 .3 7.5 .4 -7.2 .3 10.4 .3 -10 .4 10.3 .3 -10.1 .3 5.9 .4 -7.7 .3 8.5 .3 -9.6 .4 8.4 .3 -8.6 .3 10.8 .4 -9.1 .3 8.2 .3 -6 .4 8.2 .3 -11.1 .3 10.1 .4 -7.6 .3 5.6 .3 -6.6 .4 7 .3 -5.7 .3 7 .4 -8.1 .3 7 .3 -10.1 .4 11.9 .3 -10.5 .3 9.1 .4 -6.9 .3 6.9 .3 -10.2 .4 10.6 .3 -6.2 .3 5.2 .4 -6.4 .3 8.9 .3 -10.5 .4 7.9 .3 -8.4 .4 10.5 .3 -7.9 .3 6.8 .4 -7.1 .3 5 .3 -7.5 .4 8.4 .3 -7.8 .3 7.2 .4 -5.8 .3 7 .3 -8.5 .4 8.7 .3 -7 .3 7.7 .4 -8 .3 10.3 .3 -11.6 .4 8.9 .3 -8.4 .3 7.9 .4 -9.1 .3 9.4 .3 -7.1 .4 5.8 .3 -10.1 .3 11.5 .4 -11.5 .3 9.9 .3 -7.2 .4 10.6 .3 -8.8 .3 -2.2 .4 11 .3 -2.5 .3 -7.8 .4 8.8 .3 -6.8 .3 6 .4 -9.5 .3 9.9 .3 -10 .4 8.2 .3 -4.4 .3 7 .4 -8.2 .3 7 .3 -7.3 .4 6.4 .3 -6.2 .3 6.3 .4 -6.6 .3 6.9 .3 -7.7 .4 9.3 .3 -7 .3 4.9 .4 -5.9 .3 5.8 .3 -7.2 .4 9.4 .3 -9.9 .3 10.7 .4 -12.7 .3 13.9 .4 -9.9 .3 7.7 .3 -8.6 .4 7.9 .3 -9.3 .3 11.2 .4 -9.3 .3 6.7 .3 -7 .4 5.9 .3 -5.3 .3 7.7 .4 -11.6 .3 9.6 .3 -7.2 .4 9.4 .3 -8.9 .3 8.4 .4 -8.3 .3 6.1 .3 -8.6 .4 10.4 .3 -7.4 .3 11 .4 -11.7 .3 7.9 .3 -6.7 .4 8.3 .3 -8 .3 5.5 .4 -6.5 .3 6.8 .3 -9.5 .4 11 .3 -7.3 .3 6.8 .4 -8.1 .3 9.4 .3 -10.1 .4 8.4 .3 -8.8 .3 7.7 .4 -6.2 .3 6.2 .3 -6.7 .4 6.5 .3 -6.6 .3 8.3 .4 -8.7 .3 12.4 .3 -10.8 .4 7.2 .3 -6.9 .3 5.4 .4 -6.8 .3 7.9 .3 -8.8 .4 11.4 .3 -10 .3 7.9 .4 -8.9 .3 9.8 .3 -8.5 .4 7.3 .3 -10.7 .4 12.6 .3 -8.6 .3 7.4 .4 -7.2 .3 9.9 .3 -12.1 .4 8.7 .3 -7.8 .3 7.7 .4 -8.2 .3 7.5 .3 -8.5 .4 9.1 .3 -9.2 .3 8.8 .4 -9.1 .3 9.2 .3 -7.5 .4 6.8 .3 -7.9 .3 8.6 .4 -7.6 .3 6.5 .3 -5.8 .4 6.7 .3 -9.6 .3 9.5 .4 -6.5 .3 7.4 .3 -7.1 .4 6.1 .3 -8.1 .3 8.6 .4 -6.3 .3 6 .3 -8.9 .4 10.2 .3 -8.5 .3 6 .4 -5.9 .3 8.5 .3 -10.6 .4 9.5 .3 -7 .3 10.3 .4 -11 .3 7.7 .3 -7.4 .4 6.9 .3 -6.2 .3 6.6 .4 -9.3 .3 10.6 .3 -8.3 .4 11.1 .3 -10.7 .3 5.8 .4 -6.6 .3 8.3 .3 -9.4 .4 8.5 .3 -7.2 .3 9 .4 -9 .3 6.6 .4 -7.4 .3 7.7 .3 -6.2 .4 10.2 .3 -10 .3 6.6 .4 -8.9 .3 12.2 .3 -11.3 .4 8.9 .3 -9.5 .3 9.5 .4 -9.5 .3 9 .3 -7.8 .4 10.9 .3 -10.7 .3 6.9 .4 -7.3 .3 7.4 .3 -8.8 .4 8.3 .3 -6.2 .3 5.5 .4 -4.4 .3 5.9 .3 -7.5 .4 7.4 .3 -8.3 .3 7 .4 -5.6 .3 8.2 .3 -8.4 .4 6.4 .3 -5.1 .3 5.2 .4 -6.8 .3 8.1 .3 -7 .4 8.1 .3 -8.6 .3 8.8 .4 -9.3 .3 6.6 .3 -8.1 .4 10.4 .3 -9.4 .3 8.9 .4 -8 .3 5.5 .3 -6.5 .4 8.4 .3 -7.2 .3 6 .4 -5.6 .3 6.5 .3 -7.1 .4 6.4 .3 -8.8 .3 8.2 .4 -8 .3 9.9 .3 -7.4 .4 9.5 .3 -12.2 .4 8.9 .3 -9.4 .3 8.9 .4 -7.3 .3 10.9 .3 -9.1 .4 7.3 .3 -7.9 .3 8.1 .4 -8.2 .3 7.1 .3 -7.7 .4 6.5 .3 -6.5 .3 6.1 .4 -4.7 .3 9.9 .3 -10.9 .4 6.7 .3 -9.1 .3 13.3 .4 -10.3 .3 6.7 .3 -9.2 .4 10.5 .3 -7.9 .3 7.3 .4 -7.1 .3 6 .3 -7 .4 7.3 .3 -8.4 .3 11.4 .4 -12.1 .3 9.9 .3 -7.6 .4 7.3 .3 -7.3 .3 7 .4 -7.5 .3 7.5 .3 -8.2 .4 6.5 .3 -5.1 .3 6.2 .4 -8.3 .3 8.2 .3 -6.2 .4 8.6 .3 -8.4 .3 9 .4 -10.2 .3 9.1 .3 -8.6 .4 6.6 .3 -14.3 .3 15.3 .4 -7 .3 6.7 .3 -7.7 .4 7.5 .3 -6 .3 7.3 .4 -8.1 .3 8.3 .4 -10.3 .3 8.1 .3 -6.1 .4 8.4 .3 -9.7 .3 8.3 .4 -8.8 .3 9.7 .3 -10.6 .4 13.2 .3 -9.3 .3 4.7 .4 -5.2 .3 5.9 .3 -9 .4 9 .3 -7.2 .3 7.3 .4 -5.6 .3 7.5 .3 -8.3 .4 6.8 .3 -6.9 .3 7.1 .4 -8.4 .3 7.5 .3 -5.9 .4 5.5 .3 -6.7 .3 7.9 .4 -6.8 .3 6.4 .3 -8.8 .4 10.1 .3 -7.9 .3 5.8 .4 -8.5 .3 9.7 .3 -7.6 .4 7.1 .3 -9.2 .3 11.3 .4 -8.1 .3 5.6 .3 -8.7 .4 11.1 .3 -9.1 .3 8.3 .4 -9.4 .3 9.3 .3 -10.6 .4 9.5 .3 -5.5 .3 6 .4 -7.8 .3 9.1 .3 -9.2 .4 6.4 .3 -7.4 .3 7.5 .4 -7.1 .3 8 .3 -6.4 .4 8.2 .3 -11.4 .4 12 .3 -9.4 .3 9.4 .4 -10 .3 9 .3 -9 .4 9.4 .3 -8.1 .3 5.8 .4 -7.3 .3 8.9 .3 -6.8 .4 5.8 .3 -9.5 .3 8.4 .4 -5.8 .3 7.4 .3 -8.7 .4 9.5 .3 -7.5 .3 5.8 .4 -6.8 .3 10.9 .3 -9.4 .4 5.7 .3 -7.8 .3 7.6 .4 -6.5 .3 8.1 .3 -8.1 .4 6.4 .3 -6.2 .3 5.6 .4 -6 .3 7 .3 -7 .4 8.4 .3 -8.6 .3 8.7 .4 -7.9 .3 8.6 .3 -.8 .4 -11 .3 2.1 .3 8.3 .4 -7 .3 5.8 .3 -5.9 .4 5.4 .3 -5.9 .3 8.1 .4 -8 .3 9.3 .3 -9.6 .4 7.5 .3 -9.1 .3 11 .4 -8.3 .3 6.6 .3 -10.2 .4 8.8 .3 -7.8 .4 11.8 .3 -13.4 .3 8.9 .4 -7.9 .3 9.4 .3 -8.3 .4 10.5 .3 -9.9 .3 7 .4 -6.8 .3 8.8 .3 -8.2 .4 9.9 .3 -8.7 .3 5 .4 -8 .3 8.5 .3 -7.3 .4 8.6 .3 -9 .3 9.4 .4 -7.9 .3 4.8 .3 -5.8 .4 8 .3 -9.6 .3 9.6 .4 -8.8 .3 8 .3 -8.5 .4 8 .3 -6.6 .3 7.2 .4 -6.2 .3 5.7 .3 -7.6 .4 9.2 .3 -8.2 .3 6.4 .4 -6.6 .3 7.1 .3 -8 .4 8.9 .3 -7.5 .3 5.1 .4 -7.9 .3 9.8 .3 -9.3 .4 10 .3 -7.7 .3 5.8 .4 -5.1 .3 6.5 .3 -8.8 .4 6.2 .3 -4.8 .3 6.3 .4 -5.5 .3 8.7 .3 -9.9 .4 7.6 .3 -8.7 .3 9.2 .4 -10.5 .3 10.2 .4 -9.3 .3 10.1 .3 -8.1 .4 5.7 .3 -6.7 .3 8.4 .4 -9.6 .3 9.6 .3 -8 .4 10.7 .3 -11.3 .3 9.7 .4 -8.4 .3 7 .3 -8.3 .4 8.1 .3 -7.1 .3 5.2 .4 -5.1 .3 9.2 .3 -11.7 .4 8.8 .3 -7.3 .3 7.7 .4 -7.5 .3 9.7 .3 -9.9 .4 9.7 .3 -9.4 .3 6.6 .4 -5.8 .3 6 .3 -5.6 .4 8.6 .3 -11.6 .3 9.2 .4 -6.6 .3 9 .3 -9.2 .4 7.6 .3 -7.1 .3 5.7 .4 -8.2 .3 8.6 .3 -6.2 .4 6.6 .3 -9.8 .3 8.5 .4 -5 .3 5.7 .3 -6.1 .4 6.7 .3 -7.5 .3 7.4 .4 -6.3 .3 5.5 .3 -7.3 .4 9.3 .3 -7.6 .3 5.9 .4 -6.2 .3 8.5 .3 -11.1 .4 8.5 .3 -6.5 .4 7.7 .3 -6.4 .3 6.7 .4 -7.5 .3 5.9 .3 -6.4 .4 10.7 .3 -9.9 .3 6.4 .4 -5.6 .3 5.9 .3 -6 .4 5.5 .3 -6.3 .3 5.8 .4 -5.7 .3 8.7 .3 -9.3 .4 6.3 .3 -6.6 .3 6.6 .4 -6.4 .3 8.1 .3 -7.5 .4 5.1 .3 -6.5 .3 7.8 .4 -6.7 .3 7 .3 -7.2 .4 9.3 .3 -10.8 .3 9.1 .4 -6.6 .3 10.3 .3 -11.4 .4 8.5 .3 -9.1 .3 7.6 .4 -11.7 .3 12 .3 -6.8 .4 6.2 .3 -6.2 .3 7 .4 -7 .3 8.6 .3 -10.5 .4 9.2 .3 -8.2 .3 7.4 .4 -8.6 .3 10.3 .3 -8.2 .4 5.9 .3 -5.9 .3 7.9 .4 -7.5 .3 5.9 .3 -6.7 .4 7.6 .3 -8 .3 6.8 .4 -8.4 .3 11.1 .4 -9.4 .3 8.4 .3 -8.9 .4 8.2 .3 -8.4 .3 8.3 .4 -6.1 .3 6.4 .3 -7.4 .4 7.4 .3 -11.3 .3 10.1 .4 -6.9 .3 7.8 .3 -9.7 .4 9 .3 -5.9 .3 6.2 .4 -8.3 .3 11.3 .3 -9.6 .4 7.8 .3 -7.7 .3 9.5 .4 -9.4 .3 9.3 .3 -9.4 .4 7.9 .3 -8.3 .3 8.4 .4 -8.5 .3 7.3" fill="none" stroke="#000" stroke-width="1.1" stroke-linejoin="miter" stroke-miterlimit="2"/>
<path d="M1608.7 349.2l.3 -6.4 .4 5.2 .3 -3.1 .3 3.2 .4 -3.8 .3 5.2 .3 -5.4 .4 4 .3 -5.6 .3 6 .4 -5.2 .3 5 .3 -3.5 .4 3.8 .3 -5.2 .3 5.1 .4 -5.3 .3 5.6 .3 -4 .4 5.1 .3 -6.2 .3 4.7 .4 -3.9 .3 5.4 .3 -5.7 .4 4.3 .3 -4.2 .3 4.2 .4 -5.9 .3 6.6 .4 -4.8 .3 4 .3 -3.9 .4 3.6 .3 -4.7 .3 6.4 .4 -5.6 .3 4.6 .3 -4.9 .4 6.1 .3 -6.5 .3 4.9 .4 -3.5 .3 4.3 .3 -6.6 .4 5.9 .3 -4.1 .3 4.6 .4 -5 .3 5.2 .3 -4.6 .4 5.1 .3 -5.2 .3 4.4 .4 -5.5 .3 6 .3 -6.1 .4 4.9 .3 -3.8 .3 3.7 .4 -3.2 .3 4.7 .3 -5.5 .4 5.1 .3 -5.3 .3 7.6 .4 -6.9 .3 5.5 .3 -5.5 .4 3.8 .3 -5.3 .3 5 .4 -4.3 .3 5.4 .3 -4.7 .4 3.6 .3 -4.5 .3 4.6 .4 -3.7 .3 4.5 .3 -4.9 .4 5 .3 -5.4 .3 5.2 .4 -6.1 .3 7.4 .3 -6 .4 6.5 .3 -6.4 .3 6.3 .4 -8 .3 6 .4 -4.6 .3 5.5 .3 -5.7 .4 4.7 .3 -5 .3 5.2 .4 -4.1 .3 3.6 .3 -4.2 .4 6.5 .3 -5.5 .3 4.5 .4 -6.6 .3 5.2 .3 -3.8 .4 6.2 .3 -5.8 .3 4.7 .4 -4.5 .3 6.4 .3 -9.3 .4 7.8 .3 -5 .3 5.6 .4 -6.4 .3 5.7 .3 -6.3 .4 6.1 .3 -5.6 .3 7.1 .4 -15 .3 13.5 .3 -5.9 .4 -14 .3 50 .3 -30.3 .4 -6.9 .3 -7.8 .3 32 .4 -16.3 .3 -6.9 .3 6.4 .4 -7.3 .3 7.7 .3 -5.1 .4 3.6 .3 -6.7 .3 8.2 .4 -5.9 .3 4.2 .3 -3.9 .4 4.6 .3 -4.7 .3 4.2 .4 -4 .3 3.7 .3 -3.7 .4 5 .3 -4.8 .3 5 .4 -5.8 .3 4.8 .4 -5.3 .3 6.6 .3 -6.7 .4 5.6 .3 -4.3 .3 5.6 .4 -6.7 .3 5.5 .3 -4 .4 3.1 .3 -3.8 .3 4.7 .4 -6.9 .3 6.5 .3 -3.7 .4 3.2 .3 -3.8 .3 4.7 .4 -4.6 .3 5 .3 -6.1 .4 5.4 .3 -4.4 .3 4.5 .4 -4.9 .3 4.3 .3 -4.6 .4 4.3 .3 -3.8 .3 4.2 .4 -3.6 .3 5.8 .3 -6.6 .4 4.7 .3 -5.7 .3 5.5 .4 -5.4 .3 7.2 .3 -10.3 .4 12.1 .3 -11.3 .3 13.1 .4 -13 .3 12.2 .3 3.4 .4 -24 .3 6.4 .3 20.8 .4 -24.1 .3 25.7 .3 -25 .4 19.7 .3 -16 .3 16.2 .4 -18.9 .3 15.3 .3 5.9 .4 -22 .3 -1.8 .3 24.6 .4 -21.1 .3 19.3 .4 -16.4 .3 17.3 .3 -18.7 .4 14.7 .3 -22.8 .3 25.1 .4 -20.5 .3 18.7 .3 -15.8 .4 15.1 .3 -18.3 .3 19.5 .4 -12.7 .3 13.9 .3 -22 .4 18.5 .3 -14.9 .3 15.1 .4 -16.8 .3 17.2 .3 -11.2 .4 12.5 .3 -16 .3 14.9 .4 -13 .3 10.6 .3 -10 .4 11.6 .3 -13.3 .3 13 .4 -12 .3 13 .3 3.7 .4 -20 .3 .6 .3 13.2 .4 -11.1 .3 13.2 .3 -13 .4 13.1 .3 -11.6 .3 9.4 .4 -10 .3 16.8 .3 -16.3 .4 9.2 .3 -9.6 .3 9 .4 -10.8 .3 10.7 .3 -7 .4 8 .3 -11.6 .3 10.3 .4 -7.2 .3 7.3 .3 -7.2 .4 11.3 .3 -12.3 .3 8.9 .4 -10.7 .3 11.1 .4 -11.8 .3 15.3 .3 -12.7 .4 7 .3 -5.9 .3 10.7 .4 -12.1 .3 10.8 .3 -9 .4 7 .3 -8.4 .3 10.6 .4 -12.4 .3 10.5 .3 -9.6 .4 10.4 .3 -8 .3 6.3 .4 -7 .3 8.3 .3 -11.1 .4 9.6 .3 -7.6 .3 9.7 .4 -7.6 .3 4.5 .3 -5.1 .4 6.1 .3 -6.6 .3 7.5 .4 -8.7 .3 7.2 .3 -8.9 .4 9 .3 -5.4 .3 5.4 .4 -6 .3 7.6 .3 -8.1 .4 7.5 .3 -6.9 .3 7.3 .4 -9.2 .3 7.6 .3 -4.4 .4 5.1 .3 -4.8 .3 3.9 .4 -5.8 .3 5.6 .3 -4.1 .4 4 .3 -4.7 .3 4.6 .4 -4.2 .3 3.9 .3 -3.7 .4 4.4 .3 -5.9 .4 7.2 .3 -5.3 .3 3.4 .4 -3 .3 2.9 .3 -4.6 .4 4.7 .3 -3.7 .3 4.3 .4 -5.7 .3 6.2 .3 -5.8 .4 7 .3 -7.8 .3 5.8 .4 -3.6 .3 3.1 .3 -3.3 .4 3.6 .3 -4.6 .3 6.1 .4 -6 .3 6.3 .3 -6.3 .4 4.9 .3 -3.9 .3 3.6 .4 -5.3 .3 4.7 .3 -4.6 .4 4.9 .3 -4.2 .3 4.4 .4 -4.3 .3 4.4 .3 -5.1 .4 5 .3 -3.9 .3 4.9 .4 -5.3 .3 5.8 .3 -5.2 .4 3.5 .3 -4.4 .3 4.9 .4 -4.5 .3 3.8 .3 -4.9 .4 5.4 .3 -4.2 .3 3.6 .4 -4.5 .3 4.7 .3 -5 .4 6.3 .3 -5.1 .3 4.7 .4 -4.4 .3 3.8 .3 -4.1 .4 4.2 .3 -4.4 .4 6.7 .3 -6.1 .3 3.4 .4 -5.1 .3 5.2 .3 -5.6 .4 5.8 .3 -3.7 .3 4.7 .4 -6.7 .3 5.7 .3 -4.5 .4 5.7 .3 -5.9 .3 5.9 .4 -4.4 .3 2.8 .3 -4.1 .4 4.9 .3 -4.9 .3 4.7 .4 -4.1 .3 5.2 .3 -5.3 .4 5.7 .3 -5.4 .3 4.4 .4 -4.1 .3 3.9 .3 -4.1 .4 3.3 .3 -3.3 .3 4.2 .4 -6.4 .3 5.9 .3 -4 .4 5.1 .3 -4.8 .3 3.7 .4 -3.3 .3 2.8 .3 -3 .4 3.3 .3 -3.6 .3 3.8 .4 -5.9 .3 5.6 .3 -4 .4 4.3 .3 -4.3 .3 5.3 .4 -4.9 .3 4.7 .3 -4.7 .4 3.6 .3 -5.1 .3 5.9 .4 -5.1 .3 5.8 .3 -6.1 .4 5.1 .3 -5.1 .4 4.6 .3 -3.3 .3 4.2 .4 -4.5 .3 4 .3 -4.8 .4 4.7 .3 -3.5 .3 3.9 .4 -5.6 .3 8.8 .3 -8.4 .4 5.1 .3 -6.6 .3 -15.6 .4 43 .3 -19.1 .3 -8.2 .4 8.5 .3 -11.3 .3 11.6 .4 5.5 .3 -20 .3 7.6 .4 7.1 .3 -9.6 .3 10.2 .4 -10.6 .3 7.8 .3 -9 .4 9 .3 -7.2 .3 10.5 .4 -9.2 .3 5.9 .3 -6.1 .4 6.5 .3 -6.4 .3 7.8 .4 -9.1 .3 7.8 .3 -6.7 .4 6.8 .3 -6.6 .3 6.3 .4 -7.3 .3 7 .3 -7.1 .4 8 .3 -5.4 .3 5.1 .4 -5.2 .3 4.6 .3 -7.6 .4 7.5 .3 -5.3 .3 5.2 .4 -6.4 .3 7.3 .3 -5.7 .4 5.3 .3 -5.9 .4 6 .3 -5 .3 5 .4 -6.4 .3 5.9 .3 -4.7 .4 6.5 .3 -7.9 .3 15.6 .4 -24 .3 20.9 .3 -24.2 .4 28.5 .3 -20.1 .3 15.3 .4 -20.4 .3 -8.9 .3 46 .4 -11.8 .3 -28.8 .3 26.1 .4 -20.7 .3 -6.8 .3 39 .4 -11.9 .3 -20.1 .3 25.8 .4 -24.4 .3 -5.4 .3 31 .4 -9.8 .3 -16.9 .3 17.8 .4 -14.4 .3 13.1 .3 -12.9 .4 17.8 .3 -26.3 .3 24.8 .4 -17.6 .3 12.3 .3 -11.5 .4 19.1 .3 -21.7 .3 16.3 .4 -11.1 .3 7.8 .3 -9.3 .4 13.8 .3 1.7 .3 -20 .4 4.5 .3 11.1 .3 -14.2 .4 14.4 .3 -9.1 .3 7 .4 -8.9 .3 13.2 .3 -16.4 .4 12.3 .3 -12 .4 11.3 .3 -7.8 .3 11.3 .4 -12.1 .3 9.3 .3 -7.3 .4 6.2 .3 -5.9 .3 6.1 .4 -5.7 .3 7.7 .3 -8.3 .4 7.7 .3 -9 .3 10.5 .4 -14.1 .3 10.8 .3 -7.5 .4 8 .3 -5.6 .3 4.5 .4 -6.9 .3 7.6 .3 -5.7 .4 6.9 .3 -6 .3 5.1 .4 -4.8 .3 5.3 .3 -7.8 .4 7.9 .3 -6.2 .3 5.2 .4 -6 .3 6.9 .3 -5.8 .4 4.2 .3 -4.2 .3 4.5 .4 -4 .3 3.2 .3 -4.4 .4 5 .3 -4.1 .3 4.3 .4 -4.5 .3 4.8 .3 -4 .4 4.8 .3 -7 .3 5.3 .4 -4 .3 6 .3 -5.3 .4 3.9 .3 -4.1 .3 3.8 .4 -5.7 .3 6.3 .4 -6 .3 6.3 .3 -6.3 .4 6.1 .3 -4.1 .3 3.5 .4 -4.8 .3 4.4 .3 -4.1 .4 4.7 .3 -5.2 .3 6.1 .4 -6.2 .3 5.6 .3 -5.3 .4 5.4 .3 -4.7 .3 4.4 .4 -5.8 .3 8 .3 -7.4 .4 3.9 .3 -2.6 .3 3.6 .4 -3.9 .3 4 .3 -3.9 .4 4.4 .3 -4.8 .3 4.5 .4 -3.8 .3 3.7 .3 -4.3 .4 4.2 .3 -4 .3 3.3 .4 -3.5 .3 4.2 .3 -5.3 .4 4.8 .3 -3.6 .3 4.2 .4 -3.6 .3 3.5 .3 -3.8 .4 4.3 .3 -5.6 .3 5.4 .4 -4.4 .3 4.7 .3 -5.1 .4 4.3 .3 -3.8 .3 3 .4 -3.4 .3 4.3 .3 -4.6 .4 4.3 .3 -4.1 .3 5.2 .4 -5.1 .3 3.9 .4 -4 .3 5 .3 -5.7 .4 4.9 .3 -4 .3 4.3 .4 -4 .3 5 .3 -5.7 .4 4.5 .3 -3.8 .3 4.4 .4 -3.7 .3 3 .3 -3.4 .4 3.1 .3 -3.6 .3 3.4 .4 -3.7 .3 4.9 .3 -5.7 .4 5 .3 -5.1 .3 5 .4 -3.2 .3 4 .3 -4.5 .4 3.4 .3 -2.8 .3 4.9 .4 -6 .3 4.8 .3 -4.7 .4 5.9 .3 -5.4 .3 5.5 .4 -5.1 .3 3.8 .3 -5.1 .4 5.2 .3 -3.9 .3 3.3 .4 -4 .3 5.3 .3 -6.5 .4 5 .3 -3.4 .3 4.2 .4 -5.3 .3 5 .3 -4.9 .4 5.3 .3 -4.5 .3 5.9 .4 -5.5 .3 3.8 .3 -5 .4 5 .3 -4.8 .3 5 .4 -5.1 .3 5.3 .4 -6.1 .3 5.6 .3 -4.6 .4 4.1 .3 -3.1 .3 3.2 .4 -4.9 .3 4.9 .3 -3.9 .4 4.1 .3 -5 .3 5.2 .4 -4 .3 5.6 .3 -5.2 .4 3.6 .3 -5.7 .3 5.7 .4 -4.7 .3 4.8 .3 -6.7 .4 9.1 .3 -7.9 .3 -2.7 .4 14 .3 -2.3 .3 -7.9 .4 4.5 .3 -4.7 .3 6.5 .4 -6.2 .3 3.4 .3 -3.2 .4 3.8 .3 -3.8 .3 4.3 .4 -3.9 .3 3.6 .3 -4.8 .4 4.3 .3 -3.5 .3 4.5 .4 -4.6 .3 5.1 .3 -6.2 .4 6 .3 -4.9 .3 3.6 .4 -4.6 .3 7.1 .3 -6 .4 4.5 .3 -4.7 .3 5 .4 -4.9 .3 4.9 .3 -5.9 .4 4.9 .3 -4.4 .3 5.9 .4 -5.4 .3 4.4 .4 -4.5 .3 3.6 .3 -3 .4 4 .3 -5.3 .3 5.7 .4 -4.7 .3 3.2 .3 -4.2 .4 5.3 .3 -5 .3 5 .4 -4 .3 3.7 .3 -6.3 .4 7.2 .3 -5.5 .3 5.8 .4 13.6 .3 -24 .3 4.7 .4 4.7 .3 19.6 .3 -36 .4 12.5 .3 4.9 .3 -5.1 .4 3.2 .3 -3.9 .3 4.6 .4 -5 .3 4.8 .3 -4.4 .4 4.6 .3 -6.2 .3 7.9 .4 -6.3 .3 5.9 .3 -7.1 .4 5.1 .3 -3.5 .3 3.7 .4 -4.1 .3 5.4 .3 -5.3 .4 4.6 .3 -4.6 .3 3.8 .4 -3.5 .3 3.4 .3 -3.6 .4 4 .3 -5.7 .3 6.4 .4 -6 .3 5.3 .3 -4 .4 4.1 .3 -3.8 .4 5.8 .3 -6.8 .3 5.1 .4 -4.1 .3 5.6 .3 -6.6 .4 5.9 .3 -6.6 .3 6.4 .4 -5.6 .3 5.1 .3 -5.9 .4 7.2 .3 -6.1 .3 4.9 .4 -4.3 .3 3.7 .3 -4.9 .4 5.9 .3 -5.8 .3 5 .4 -4.5 .3 6.4 .3 -8.1 .4 5.9 .3 -4.1 .3 4.9 .4 -5 .3 5.6 .3 -5.7 .4 4.1 .3 -4.8 .3 6 .4 -5.1 .3 4.3 .3 -3.1 .4 3.6 .3 -4.4 .3 5 .4 -5.9 .3 6 .3 -7.4 .4 8 .3 -8.8 .3 8.7 .4 4.4 .3 -24 .3 3.5 .4 18.9 .3 -11 .3 12.4 .4 -13.1 .3 11.1 .3 -11.1 .4 10 .3 -11.4 .3 10.6 .4 -10.3 .3 14.3 .3 -13.1 .4 10.9 .3 -13.1 .4 12.2 .3 -10 .3 9.8 .4 -9.5 .3 10.4 .3 -13.2 .4 12.2 .3 -9.2 .3 9.2 .4 -15.3 .3 .8 .3 20 .4 -4.7 .3 -11.3 .3 9 .4 -7 .3 9.9 .3 -15.2 .4 17.6 .3 -13.1 .3 8.8 .4 -9.5 .3 9.8 .3 -8.7 .4 11.6 .3 -12.3 .3 9 .4 -10.3 .3 14.1 .3 -13.2 .4 11.1 .3 -9.7 .3 9.8 .4 -9.4 .3 11.4 .3 -11.6 .4 7.7 .3 -7.8 .3 8.9 .4 -8.5 .3 9.4 .3 -10.8 .4 9.1 .3 -7.3 .3 6.2 .4 -6.9 .3 8.2 .3 -8.5 .4 8.9 .3 -7.7 .3 9.9 .4 -10.2 .3 6.5 .3 -9.3 .4 9.5 .3 -7.2 .3 12.9 .4 -13 .3 10 .3 -11.1 .4 9.1 .3 -7.9 .4 8 .3 -9 .3 10.2 .4 -9.5 .3 7.8 .3 -7.7 .4 9.7 .3 -10.1 .3 9.7 .4 -9.2 .3 8 .3 -7.9 .4 7.9 .3 -8.4 .3 8.4 .4 -9.3 .3 7.5 .3 -4.7 .4 5.7 .3 -6 .3 5.1 .4 -5.9 .3 6.2 .3 -5.9 .4 5.3 .3 -4.4 .3 4.3 .4 -4.9 .3 4.9 .3 -5.8 .4 6.3 .3 -4.9 .3 3.8 .4 -3.1 .3 6.4 .3 -6.1 .4 3.8 .3 -4.3 .3 3.6 .4 -4.3 .3 5.1 .3 -6.3 .4 5.5 .3 -4.3 .3 5 .4 -4.5 .3 4.1 .3 -5 .4 5.1 .3 -4.5 .3 5.8 .4 -5.2 .3 4 .3 -4.8 .4 4.8 .3 -5 .3 5.1 .4 -5 .3 4.8 .3 -4 .4 4.5 .3 -4.9 .4 7.1 .3 -8 .3 5.2 .4 -4.9 .3 4.9 .3 -5.5 .4 6.4 .3 -5.6 .3 4.5 .4 -3.8 .3 6.4 .3 -6.4 .4 4.7 .3 -5.8 .3 6.3 .4 -6.7 .3 5.8 .3 -5.1 .4 6.3 .3 -5.5 .3 3.5 .4 -3.6 .3 4.1 .3 -3.4 .4 3 .3 -4.1 .3 4.1 .4 -4.8 .3 5.6 .3 -4.2 .4 3.9 .3 -3.6 .3 3.9 .4 -6.5 .3 6.8 .3 -4.5 .4 -3.2 .3 11 .3 -4.1 .4 -3.6 .3 3.9 .3 -5.8 .4 5.6 .3 -4.5 .3 4.9 .4 -5.1 .3 4.4 .3 -4.1 .4 3.6 .3 -3.8 .3 4.7 .4 -5.7 .3 5.7 .3 -4.9 .4 5.1 .3 -4 .3 4.1 .4 -5.5 .3 5.9 .3 -4.4 .4 2.9 .3 -3.3 .4 3.4 .3 -4.5 .3 4.7 .4 -2.9 .3 3.7 .3 -5.1 .4 4.4 .3 -5.9 .3 6.8 .4 -5.8 .3 6.8 .3 -4.8 .4 4 .3 -4.9 .3 4.2 .4 -4 .3 4.3 .3 -4 .4 5 .3 -5.8 .3 5.3 .4 -4.8 .3 3.5 .3 -3.6 .4 4.1 .3 -3.6 .3 4 .4 -4.8 .3 4.8" fill="none" stroke="#000" stroke-width="1.1" stroke-linejoin="miter" stroke-miterlimit="2"/>
<path d="M1613.3 412.2l.3 -4.7 .4 4.4 .3 -5 .3 6.3 .4 -5.7 .3 4.2 .3 -3.7 .4 4.8 .3 -5.3 .3 4 .4 -4.4 .3 4.5 .3 -6.1 .4 6.4 .3 -4.1 .3 3.8 .4 -3.5 .3 5 .3 -6.1 .4 .7 .3 7 .3 -3.4 .4 -3.2 .3 3.6 .3 -3.6 .4 4.5 .3 -6.4 .3 6.3 .4 -6 .3 5.7 .3 -4.5 .4 3.7 .3 -5.2 .3 7.7 .4 -6 .3 3.9 .4 -4.5 .3 5.6 .3 -5 .4 3.8 .3 -3.5 .3 3.7 .4 -3.9 .3 4.3 .3 -4.2 .4 3.9 .3 -5.6 .3 6.2 .4 -4.8 .3 3.8 .3 -4.3 .4 4.9 .3 -6.4 .3 6.5 .4 -4.6 .3 3.8 .3 -3.8 .4 4.5 .3 -5.2 .3 6.9 .4 -5.5 .3 3.1 .3 -5.9 .4 6.7 .3 -5 .3 4.1 .4 -4 .3 4.1 .3 -3.9 .4 4.1 .3 -3.6 .3 4 .4 -5.8 .3 6.6 .3 -7 .4 7 .3 -5.3 .3 4 .4 -4.1 .3 4.4 .3 -4.1 .4 5.3 .3 -6.4 .3 5.7 .4 -4.3 .3 4.2 .3 -4.9 .4 5.7 .3 -6.3 .3 4.7 .4 -6.2 .3 6 .3 -5.1 .4 7.3 .3 -6 .3 4.1 .4 -6.6 .3 6.5 .3 -4.5 .4 6.2 .3 -5.8 .3 4.7 .4 -4 .3 3.4 .4 -3.4 .3 4.4 .3 -4.6 .4 5.5 .3 -5.6 .3 3.5 .4 -3.7 .3 4.5 .3 -5 .4 4.7 .3 -4 .3 4 .4 -4.1 .3 4.4 .3 -5 .4 4.4 .3 -4.7 .3 5.7 .4 -5.2 .3 5 .3 -5.8 .4 6.7 .3 -6.9 .3 5.9 .4 -4.2 .3 3.7 .3 -4.9 .4 6.9 .3 -6.1 .3 8 .4 -9.3 .3 7.2 .3 -5.8 .4 4.1 .3 -5.3 .3 6.3 .4 -4.9 .3 3.6 .3 -4.1 .4 4.7 .3 -6.3 .3 5.9 .4 -3.7 .3 4.1 .3 -4.2 .4 5.6 .3 -7 .3 4.6 .4 -3.6 .3 3.8 .3 -4 .4 4.5 .3 -5.6 .3 5.3 .4 -4 .3 4 .3 -3.6 .4 5.6 .3 -5.2 .3 3.5 .4 -4.6 .3 5.4 .3 -4.5 .4 3.1 .3 -2.8 .3 3.4 .4 -4.5 .3 4.8 .4 -4.4 .3 5.2 .3 -5.6 .4 3.5 .3 -3.2 .3 3.5 .4 -4.3 .3 6.8 .3 -5.4 .4 3.9 .3 -4.5 .3 5.3 .4 -5.9 .3 4.7 .3 -5.2 .4 7.3 .3 -7.7 .3 5.6 .4 -3.5 .3 3.7 .3 -4.9 .4 4.8 .3 -5 .3 5 .4 -4.9 .3 4.4 .3 -5 .4 5.7 .3 -6.6 .3 7.4 .4 -5.8 .3 6.9 .3 -7 .4 4.2 .3 -3.5 .3 4.6 .4 -4.8 .3 4.6 .3 -4.6 .4 5.3 .3 -6.7 .3 5.2 .4 -3.7 .3 3.6 .3 -3.3 .4 4.1 .3 -3.9 .3 3.2 .4 -3.8 .3 4.8 .3 -4.1 .4 3.3 .3 -3.7 .3 4 .4 -5.7 .3 6.5 .3 -4.7 .4 -3.1 .3 10 .3 -1.7 .4 -5.5 .3 3.9 .3 -3.7 .4 4.5 .3 -5.1 .3 5.4 .4 -5.2 .3 4.7 .4 -5 .3 6.6 .3 -6.4 .4 5.5 .3 -5.4 .3 4.2 .4 -3.7 .3 3.4 .3 -3.4 .4 4.6 .3 -4.8 .3 4.6 .4 -4.9 .3 6.3 .3 -5.8 .4 4.5 .3 -4.9 .3 4.2 .4 -4.4 .3 4.7 .3 -4.4 .4 3.9 .3 -4.5 .3 5.9 .4 -6.2 .3 5.7 .3 -4.4 .4 4.1 .3 -3.8 .3 4.3 .4 -5.8 .3 5 .3 -4.7 .4 5.1 .3 -4.9 .3 5.2 .4 -4.4 .3 6 .3 -6.4 .4 4.6 .3 -4.7 .3 5.2 .4 -4.8 .3 3.7 .3 -4.4 .4 6.2 .3 -6.4 .3 4.6 .4 -3.7 .3 4.8 .3 -5 .4 5.1 .3 -4.7 .3 3.8 .4 -3.6 .3 2.9 .3 -3.7 .4 5.1 .3 -5.3 .3 6.4 .4 -5.9 .3 4.5 .3 -5.2 .4 5.3 .3 -6.6 .3 5.9 .4 -4.4 .3 6.1 .3 -5.6 .4 3.9 .3 -5 .4 4.7 .3 -4.2 .3 5 .4 -5 .3 4.3 .3 -3.8 .4 3.5 .3 -5 .3 5.5 .4 -3.5 .3 5.3 .3 -6.4 .4 3.9 .3 -3.6 .3 4.1 .4 -3.7 .3 4.9 .3 -5.2 .4 5.5 .3 -5.6 .3 7.1 .4 -8 .3 5.4 .3 -5.3 .4 5.7 .3 -5.7 .3 4.5 .4 -4.5 .3 5.1 .3 -4.2 .4 4.5 .3 -3.6 .3 3.1 .4 -4.6 .3 4.6 .3 -3.2 .4 3.3 .3 -3.9 .3 4.8 .4 -6.8 .3 7.8 .3 -5.4 .4 3.9 .3 -4.3 .3 4.3 .4 -4.7 .3 3.7 .3 -4.6 .4 5.7 .3 -5.5 .3 6.9 .4 -5.6 .3 4 .3 -4.3 .4 5.3 .3 -5.8 .3 5.4 .4 -5 .3 4.5 .3 -5 .4 5.8 .3 -5 .3 3.9 .4 -4.9 .3 5.1 .3 -5.1 .4 4.8 .3 -4.6 .4 5.1 .3 -4.6 .3 3.6 .4 -3.9 .3 4.6 .3 -3.9 .4 4.3 .3 -5.2 .3 5.5 .4 -5.9 .3 5.3 .3 -4 .4 3.5 .3 -3.1 .3 3.7 .4 -4.2 .3 4 .3 -4.6 .4 4.6 .3 -5 .3 4.4 .4 -3.5 .3 3.9 .3 -3.8 .4 4.4 .3 -6.3 .3 8.1 .4 -6.8 .3 4.3 .3 -3.3 .4 3.6 .3 -4.2 .3 5 .4 -5.6 .3 6 .3 -6.3 .4 5.6 .3 -5 .3 5.5 .4 -6 .3 4.5 .3 -4.8 .4 5.6 .3 -4.7 .3 5.2 .4 -4.5 .3 3.9 .3 -4.8 .4 4.4 .3 -4.6 .3 4.3 .4 -3.7 .3 4.4 .3 -5.9 .4 5.4 .3 -3.3 .3 3.4 .4 -4.4 .3 4.9 .3 -4.6 .4 3.7 .3 -3.6 .3 4.1 .4 -6.6 .3 6.9 .3 -4.3 .4 4.3 .3 -5 .4 4.4 .3 -3.6 .3 3.5 .4 -5.3 .3 6.6 .3 -8.1 .4 8.2 .3 -5.5 .3 5.3 .4 -5.7 .3 5.3 .3 -6.7 .4 7.6 .3 -5.7 .3 3.9 .4 -3.9 .3 4.4 .3 -5.9 .4 6.1 .3 -4.5 .3 5.5 .4 -5.1 .3 3.3 .3 -4.1 .4 4.6 .3 -3.9 .3 4.1 .4 -4 .3 4 .3 -6.1 .4 6.4 .3 -5.1 .3 4.8 .4 -3.6 .3 3.9 .3 -4.8 .4 4.2 .3 -5.2 .3 5.5 .4 -3.8 .3 4.9 .3 -4.8 .4 3.6 .3 -3.8 .3 4.3 .4 -4 .3 3.4 .3 -4.6 .4 5 .3 -4.1 .3 5 .4 -4.5 .3 2.9 .3 -3.7 .4 6.6 .3 -6.7 .3 3.6 .4 -2.7 .3 3.8 .3 -5.3 .4 4.8 .3 -5.1 .3 5.3 .4 -4.5 .3 4.3 .3 -4.1 .4 3.8 .3 -3.8 .4 4.1 .3 -4.6 .3 3.9 .4 -3.6 .3 4.6 .3 -4.6 .4 4.8 .3 -5.1 .3 4.4 .4 -3.9 .3 3.9 .3 -3.8 .4 4.1 .3 -3.8 .3 3.3 .4 -3.6 .3 5.4 .3 -6.2 .4 4.4 .3 -4.2 .3 4.2 .4 -3.4 .3 3.7 .3 -4.6 .4 4.8 .3 -4 .3 5.2 .4 -6.1 .3 4.8 .3 -4.2 .4 4.6 .3 -4 .3 3.6 .4 -4.1 .3 4.4 .3 -6.6 .4 7.9 .3 -6 .3 4.5 .4 -5.6 .3 5.5 .3 -4.6 .4 5.9 .3 -5.6 .3 5.8 .4 -5.5 .3 4.1 .3 -3.5 .4 3.9 .3 -6.3 .3 7.3 .4 -5.2 .3 4.1 .3 -5.6 .4 6 .3 -4.3 .3 3.1 .4 -3.6 .3 3.7 .3 -4.7 .4 5.4 .3 -4.2 .3 3.7 .4 -3.9 .3 5 .3 -5 .4 4.2 .3 -4 .3 3.4 .4 -4.5 .3 4.7 .4 -3.2 .3 3.9 .3 -4.9 .4 3.8 .3 -3.5 .3 5.2 .4 -5.2 .3 4.4 .3 -5.3 .4 5.3 .3 -6.2 .3 5.8 .4 -4.4 .3 4.2 .3 -3.5 .4 3.6 .3 -3.7 .3 4.6 .4 -4.8 .3 5 .3 -5.8 .4 5 .3 -6.3 .3 6.1 .4 -4.5 .3 5.2 .3 -5.8 .4 6.6 .3 -5.5 .3 5 .4 -5.7 .3 5.3 .3 -4.3 .4 3.6 .3 -3.8 .3 4.7 .4 -4.6 .3 4.6 .3 -5.5 .4 4.7 .3 -3.9 .3 5.1 .4 -4.7 .3 3.5 .3 -3.8 .4 4.1 .3 -3.4 .3 3.1 .4 -4 .3 4.1 .3 -4.2 .4 4.9 .3 -4.1 .3 3.2 .4 -3.4 .3 3.7 .3 -4.1 .4 6.1 .3 -6.7 .3 4.5 .4 -4.7 .3 5 .3 -4.3 .4 4.9 .3 -4.1 .3 3.2 .4 -5.4 .3 5.3 .4 -3.9 .3 4.6 .3 -4.5 .4 5.1 .3 -5.5 .3 5.2 .4 -6.4 .3 5.5 .3 6.1 .4 -18 .3 7 .3 5.5 .4 -4.3 .3 4.5 .3 -3.8 .4 3.6 .3 -5.1 .3 4.4 .4 -4 .3 5.2 .3 -7.6 .4 7 .3 -5.8 .3 5.6 .4 -3.6 .3 3.2 .3 -3.9 .4 4.8 .3 -5.1 .3 4.3 .4 -5.4 .3 4.8 .3 -4.7 .4 5 .3 -3.1 .3 4.7 .4 -4.7 .3 4.3 .3 -5 .4 4.9 .3 -4.3 .3 3.8 .4 -5.2 .3 6.5 .3 -5.9 .4 5.4 .3 -5.1 .3 4.3 .4 -4.2 .3 5.8 .3 -5.6 .4 3.7 .3 -3.6 .3 3.1 .4 -4.3 .3 5.3 .3 -4.1 .4 3.9 .3 -4.7 .3 4.8 .4 -5.9 .3 5.5 .3 -4.7 .4 5 .3 -5 .3 6.5 .4 -6 .3 4.4 .4 -5.2 .3 5.4 .3 -4.2 .4 5.2 .3 -4.9 .3 3.1 .4 -4.4 .3 5 .3 -4.5 .4 4.1 .3 -3.6 .3 4.2 .4 -4.1 .3 4.8 .3 -6.6 .4 5.8 .3 -4.4 .3 4.2 .4 -5.3 .3 5.9 .3 -5.7 .4 5.4 .3 -5.4 .3 4.5 .4 -3.3 .3 5.4 .3 -7.5 .4 8.2 .3 -6.2 .3 5.3 .4 -5.1 .3 4 .3 -4 .4 4.2 .3 -3.8 .3 2.8 .4 -3.4 .3 4.3 .3 -4.9 .4 7.3 .3 -6.5 .3 3.6 .4 -3.6 .3 4.2 .3 -4.5 .4 4.2 .3 -4.7 .3 4.5 .4 -5.1 .3 5 .3 -4.1 .4 4.3 .3 -4.7 .3 4.6 .4 -3.8 .3 4.1 .3 -5.4 .4 4.7 .3 -4.3 .3 4.9 .4 -4.2 .3 3.9 .3 -3.8 .4 3.9 .3 -4.4 .3 4.5 .4 -5.8 .3 5.7 .4 -3.9 .3 6 .3 -7.4 .4 5.2 .3 -3.3 .3 3.8 .4 -4 .3 3.7 .3 -3.3 .4 3.8 .3 -4.8 .3 5.7 .4 -5.7 .3 4.4 .3 -6.2 .4 8 .3 -6.2 .3 4.4 .4 -4.6 .3 4.3 .3 -4.3 .4 4.4 .3 -3.5 .3 3.2 .4 -4 .3 5.4 .3 -5.8 .4 5.1 .3 -4.6 .3 5.4 .4 -5.4 .3 5.4 .3 -6.7 .4 6.3 .3 -5.2 .3 4.7 .4 -5 .3 5.5 .3 -6.5 .4 6 .3 -5.1 .3 5.4 .4 -4.3 .3 5.6 .3 -5.4 .4 3.1 .3 -4.3 .3 6.2 .4 -4.9 .3 3.8 .3 -5.5 .4 6.8 .3 -7.2 .3 6 .4 -4.6 .3 4.2 .3 -5.7 .4 5.9 .3 -5.6 .3 5.2 .4 -4.5 .3 5.1 .3 -4.7 .4 4.6 .3 -3.8 .3 4.1 .4 -5.4 .3 5.3 .4 -6.6 .3 6.9 .3 -6.1 .4 7.8 .3 -7 .3 6.7 .4 -7.1 .3 5.1 .3 -4.2 .4 4.3 .3 -4.5 .3 4.6 .4 -5.2 .3 5.8 .3 -7.1 .4 6.2 .3 -4.9 .3 4.5 .4 -3.6 .3 6.1 .3 -6.3 .4 4.7 .3 -4.8 .3 4.9 .4 -4.5 .3 6.1 .3 -6.3 .4 4.1 .3 -4.8 .3 5 .4 -4.7 .3 5.4 .3 -5.3 .4 6.1 .3 -6.6 .3 5.5 .4 -4.8 .3 5 .3 -5.2 .4 4.5 .3 -4.1 .3 4.4 .4 -6.1 .3 7.4 .3 -7.1 .4 5.5 .3 -4.5 .3 4 .4 -5.8 .3 6.4 .3 -4.6 .4 5.2 .3 -5.4 .3 5.8 .4 -5.1 .3 3.9 .3 -4 .4 4.6 .3 -5.7 .3 4.9 .4 -3.9 .3 4 .3 -3.5 .4 3.2 .3 -3.3 .3 3.8 .4 -4.6 .3 4.8 .3 -4.7 .4 4.3 .3 -4.6 .4 3.9 .3 -3.8 .3 4.3 .4 -4.7 .3 5 .3 -4 .4 4.4 .3 -4.4 .3 3.2 .4 -4.1 .3 4.8 .3 -4.2 .4 4 .3 -4.9 .3 5.3 .4 -4.3 .3 3.9 .3 -4.1 .4 5.6 .3 -6.4 .3 5.5 .4 -4.8 .3 5.7 .3 -5.9 .4 4.2 .3 -3.8 .3 4.8 .4 -5.2 .3 7.3 .3 -7.2 .4 4.8 .3 -5.5 .3 6.2 .4 -6.1 .3 5.1 .3 -5.4 .4 5.4 .3 -3.9 .3 4.4 .4 -4.9 .3 4.4 .3 -4.4 .4 4.8 .3 -5.8 .3 5.5 .4 -5.7 .3 6.5 .3 -6.4 .4 7.2 .3 -5.1 .3 3.1 .4 -5.4 .3 6.3 .3 -5.6 .4 6.3 .3 -5.1 .3 3.6 .4 -5.1 .3 5.3 .3 -5.4 .4 5.4 .3 -3.6 .3 4.6 .4 -4.6 .3 3.9 .3 -5 .4 5.2 .3 -4.2 .4 4.7 .3 -4.8 .3 5 .4 -6.6 .3 5.8 .3 -6.5 .4 7.1 .3 -4.8 .3 3.3 .4 -4 .3 4.8 .3 -6.1 .4 6.1 .3 -4 .3 3.9 .4 -4.2 .3 4.5 .3 -5.3 .4 6.1 .3 -5.7 .3 4.7 .4 -5.3 .3 4.9 .3 -3.3 .4 3.5 .3 -4.6 .3 3.7 .4 -3.7 .3 5 .3 -6.1 .4 6.8 .3 -5.9 .3 4.7 .4 -4.6 .3 7 .3 -8.1 .4 7.6 .3 -8.2 .3 7.3 .4 -5.8 .3 5.4 .3 -5.5 .4 5.4 .3 -5.1 .3 7.6 .4 -7.1 .3 5.6 .3 -6.1 .4 4.9 .3 -5.1 .3 5.9 .4 -6.1 .3 5.5 .3 -5.1 .4 4.8 .3 -5 .3 4.8 .4 -5.9 .3 7.4 .3 -6.6 .4 6.9 .3 -8 .3 7.1 .4 -5.5 .3 4.8 .3 -3.9 .4 4.2 .3 -4.5 .4 3.9 .3 -3.3 .3 5.2 .4 -6.5 .3 4.6 .3 -4.9 .4 7.3 .3 -7 .3 5.7 .4 -4.8 .3 6.8 .3 -8.5 .4 6.8 .3 -6.3 .3 5.5 .4 -5.3 .3 -7.2 .3 20 .4 -6.8 .3 -5.7 .3 6.7 .4 -8.8 .3 6.7 .3 -6.5 .4 8.3 .3 -5.7 .3 4.1 .4 -5.1 .3 6.5 .3 -6.5 .4 5.9 .3 -7.8 .3 7.6 .4 -5.2 .3 4.5 .3 -5.4 .4 6.3 .3 -5.1 .3 3.8 .4 -3.8 .3 6.6 .3 -7.2 .4 4.5 .3 -5.1 .3 6.6 .4 -6 .3 5.3 .3 -6.3 .4 7.1 .3 -7 .3 6.8 .4 -5.3 .3 4.1 .3 -5.7 .4 5.6 .3 -5.2 .3 6.3 .4 -6.1 .3 5.4 .3 -4.7 .4 4.8 .3 -3.9 .3 5.6 .4 -8.6 .3 6.1 .3 -3.3 .4 3.1 .3 -3.8 .4 4.4 .3 -5.4 .3 6 .4 -7.3 .3 8.2 .3 -6.9 .4 5.3 .3 -4.6 .3 6.4 .4 -6.5 .3 4.4 .3 -3.9 .4 5.2 .3 -6.9 .3 6.1 .4 -6.1 .3 6 .3 -6.6 .4 7.1 .3 -4.3 .3 4.3 .4 -5.2 .3 6.1 .3 -6.1 .4 5.2 .3 -5.8 .3 5.7 .4 -4.8 .3 4.4 .3 -7.1 .4 6.9 .3 -4.8 .3 4.4 .4 -4 .3 5.6" fill="none" stroke="#000" stroke-width="1.1" stroke-linejoin="miter" stroke-miterlimit="2"/>
<path d="M1611.9 272.7 C1616.6 272.8 1631.8 273.1 1640.0 273.3 C1648.2 273.5 1654.6 274.7 1660.8 273.7 C1667.0 272.7 1671.9 268.1 1677.4 267.5 C1682.9 266.9 1684.3 269.8 1694.0 270.2 C1703.7 270.6 1722.5 269.4 1735.7 270.0 C1748.9 270.6 1760.7 273.1 1773.2 273.7 C1785.7 274.2 1801.6 274.2 1810.6 273.3 C1819.6 272.4 1819.0 268.6 1827.3 268.1 C1835.6 267.7 1848.1 269.8 1860.6 270.6 C1873.1 271.4 1887.6 272.9 1902.2 273.1 C1916.8 273.3 1936.2 272.2 1948.0 271.7 C1959.8 271.2 1964.2 270.0 1973.0 270.0 C1981.8 270.0 1995.9 271.4 2000.5 271.7" fill="none" stroke="#000" stroke-width="1.8" stroke-linejoin="round" stroke-linecap="round"/>
<path d="M1613.5 439.2 C1614.7 439.8 1618.2 440.4 1620.9 442.9 C1623.6 445.3 1626.7 449.8 1629.9 453.9 C1633.1 458.0 1636.6 463.6 1639.9 467.8 C1643.2 472.0 1646.6 476.0 1649.8 478.8 C1653.0 481.6 1656.5 484.3 1659.3 484.8 C1662.1 485.3 1664.2 483.5 1666.8 481.8 C1669.4 480.1 1671.7 477.5 1674.7 474.8 C1677.7 472.1 1680.6 468.9 1684.7 465.9 C1688.8 462.9 1694.6 459.8 1699.6 456.9 C1704.6 454.0 1709.6 450.4 1714.6 448.4 C1719.6 446.4 1725.5 444.9 1729.5 444.7 C1733.5 444.5 1735.5 445.4 1738.5 447.4 C1741.5 449.4 1743.9 452.5 1747.4 456.9 C1750.9 461.3 1755.8 469.0 1759.4 473.8 C1763.1 478.6 1766.3 483.1 1769.3 485.8 C1772.3 488.6 1774.8 490.0 1777.3 490.3 C1779.8 490.6 1781.5 490.1 1784.3 487.8 C1787.1 485.6 1790.8 480.3 1794.2 476.8 C1797.7 473.3 1801.5 470.0 1805.0 466.9 C1808.5 463.8 1811.2 461.0 1815.0 457.9 C1818.8 454.8 1822.9 450.8 1827.9 448.4 C1832.9 446.0 1840.3 443.8 1844.8 443.4 C1849.3 443.0 1851.5 443.8 1854.8 445.9 C1858.1 448.0 1861.5 452.1 1864.8 455.9 C1868.1 459.7 1871.4 464.8 1874.7 468.8 C1878.0 472.8 1881.4 476.5 1884.7 479.8 C1888.0 483.1 1891.3 487.0 1894.6 488.8 C1897.9 490.6 1901.3 490.7 1904.6 490.8 C1907.9 490.9 1911.3 491.1 1914.6 489.3 C1917.9 487.5 1921.2 483.1 1924.5 479.8 C1927.8 476.6 1930.8 472.4 1934.5 469.8 C1938.2 467.2 1942.8 465.9 1946.4 464.4 C1950.1 462.9 1953.1 462.6 1956.4 460.9 C1959.7 459.1 1963.1 456.2 1966.4 453.9 C1969.7 451.6 1972.8 448.6 1976.3 446.9 C1979.8 445.2 1983.0 444.2 1987.3 443.9 C1991.6 443.6 1999.7 444.7 2002.2 444.9" fill="none" stroke="#000" stroke-width="2.2" stroke-linejoin="round" stroke-linecap="round"/>
<line x1="534.8" y1="135.7" x2="534.8" y2="180.0" stroke="#000" stroke-width="2"/>
<line x1="220.3" y1="491.5" x2="304.8" y2="491.5" stroke="#000" stroke-width="2.2"/>
<line x1="616.5" y1="500.7" x2="685.0" y2="500.7" stroke="#000" stroke-width="2.2"/>
<line x1="1220.4" y1="481.6" x2="1281.0" y2="481.6" stroke="#000" stroke-width="2.2"/>
<line x1="1614.0" y1="499.0" x2="1670.1" y2="499.0" stroke="#000" stroke-width="2.2"/>
<text x="73.8" y="48.7" font-size="34" text-anchor="start" font-weight="bold">A</text>
<text x="515.0" y="53.8" font-size="36" text-anchor="start" font-style="italic">3 mo</text>
<text x="1528.0" y="54.4" font-size="36" text-anchor="start" font-style="italic">11 mo</text>
<text x="166.5" y="99.7"><tspan font-size="30.8">left</tspan><tspan font-size="36"> knee movements</tspan></text>
<text x="602.2" y="99.7"><tspan font-size="30.8">right</tspan><tspan font-size="36"> knee movements</tspan></text>
<text x="1208.8" y="99.7"><tspan font-size="30.8">left</tspan><tspan font-size="36"> knee movements</tspan></text>
<text x="1629.8" y="99.7"><tspan font-size="30.8">right</tspan><tspan font-size="36"> knee movements</tspan></text>
<text x="491.5" y="128.3" font-size="26" text-anchor="start">150 µV</text>
<text x="82.7" y="168.5" font-size="31">RF<tspan font-size="21.5" dy="7.4">L</tspan></text>
<text x="78.5" y="236.0" font-size="31">BF<tspan font-size="21.5" dy="7.4">L</tspan></text>
<text x="33.0" y="296.7" font-size="31">shank<tspan font-size="21.5" dy="6.3">L</tspan></text>
<text x="71.3" y="357.6" font-size="31">RF<tspan font-size="21.5" dy="7.4">R</tspan></text>
<text x="71.0" y="425.4" font-size="31">BF<tspan font-size="21.5" dy="6.1">R</tspan></text>
<text x="29.5" y="469.2" font-size="31">shank<tspan font-size="21.5" dy="7">R</tspan></text>
<text x="244.8" y="524.6" font-size="31.5" text-anchor="start">2 s</text>
<text x="627.8" y="532.4" font-size="31.5" text-anchor="start">2 s</text>
<text x="1230.3" y="517.6" font-size="31.5" text-anchor="start">2 s</text>
<text x="1622.0" y="529.8" font-size="31.5" text-anchor="start">2 s</text>
<line x1="129.8" y1="749.3" x2="129.8" y2="1115.0" stroke="#222" stroke-width="1.3"/>
<line x1="127.9" y1="1341.6" x2="127.9" y2="1697.5" stroke="#222" stroke-width="1.3"/>
<line x1="129.8" y1="1041.9" x2="131.6" y2="1041.9" stroke="#222" stroke-width="1.2"/>
<line x1="127.9" y1="1626.3" x2="129.7" y2="1626.3" stroke="#222" stroke-width="1.2"/>
<line x1="129.8" y1="968.7" x2="131.6" y2="968.7" stroke="#222" stroke-width="1.2"/>
<line x1="127.9" y1="1555.1" x2="129.7" y2="1555.1" stroke="#222" stroke-width="1.2"/>
<line x1="129.8" y1="895.6" x2="131.6" y2="895.6" stroke="#222" stroke-width="1.2"/>
<line x1="127.9" y1="1484.0" x2="129.7" y2="1484.0" stroke="#222" stroke-width="1.2"/>
<line x1="129.8" y1="822.4" x2="131.6" y2="822.4" stroke="#222" stroke-width="1.2"/>
<line x1="127.9" y1="1412.8" x2="129.7" y2="1412.8" stroke="#222" stroke-width="1.2"/>
<line x1="130.0" y1="1115.0" x2="303.0" y2="1115.0" stroke="#222" stroke-width="1.3"/>
<rect x="151.6" y="1008.5" width="26.3" height="106.5" fill="#ffffff" stroke="#000" stroke-width="1.5"/>
<rect x="186.5" y="1021.8" width="26.6" height="93.2" fill="#c0c0c0" stroke="#000" stroke-width="1.5"/>
<rect x="221.4" y="1027.2" width="27.1" height="87.8" fill="#808080" stroke="#000" stroke-width="1.5"/>
<rect x="257.1" y="1111.9" width="26.6" height="3.1" fill="#5b5b5b" stroke="#000" stroke-width="1.5"/>
<line x1="164.8" y1="975.3" x2="164.8" y2="1037.7" stroke="#000" stroke-width="1.5"/>
<line x1="161.6" y1="975.3" x2="167.9" y2="975.3" stroke="#000" stroke-width="1.6"/>
<line x1="161.6" y1="1037.7" x2="167.9" y2="1037.7" stroke="#000" stroke-width="1.6"/>
<line x1="199.8" y1="985.7" x2="199.8" y2="1052.6" stroke="#000" stroke-width="1.5"/>
<line x1="196.6" y1="985.7" x2="203.0" y2="985.7" stroke="#000" stroke-width="1.6"/>
<line x1="196.6" y1="1052.6" x2="203.0" y2="1052.6" stroke="#000" stroke-width="1.6"/>
<line x1="234.9" y1="989.2" x2="234.9" y2="1057.1" stroke="#000" stroke-width="1.5"/>
<line x1="231.8" y1="989.2" x2="238.1" y2="989.2" stroke="#000" stroke-width="1.6"/>
<line x1="231.8" y1="1057.1" x2="238.1" y2="1057.1" stroke="#000" stroke-width="1.6"/>
<line x1="270.4" y1="1103.0" x2="270.4" y2="1116.0" stroke="#000" stroke-width="1.5"/>
<line x1="267.2" y1="1103.0" x2="273.6" y2="1103.0" stroke="#000" stroke-width="1.6"/>
<line x1="267.2" y1="1116.0" x2="273.6" y2="1116.0" stroke="#000" stroke-width="1.6"/>
<line x1="166.6" y1="944.1" x2="273.2" y2="944.1" stroke="#000" stroke-width="2.2"/>
<line x1="201.2" y1="955.0" x2="273.2" y2="955.0" stroke="#000" stroke-width="2.2"/>
<line x1="237.2" y1="965.7" x2="273.2" y2="965.7" stroke="#000" stroke-width="2.2"/>
<line x1="313.7" y1="1115.0" x2="487.0" y2="1115.0" stroke="#222" stroke-width="1.3"/>
<rect x="334.4" y="1068.5" width="27.4" height="46.5" fill="#ffffff" stroke="#000" stroke-width="1.5"/>
<rect x="369.8" y="998.7" width="26.6" height="116.3" fill="#c0c0c0" stroke="#000" stroke-width="1.5"/>
<rect x="404.5" y="1034.4" width="27.1" height="80.6" fill="#808080" stroke="#000" stroke-width="1.5"/>
<rect x="439.1" y="1065.8" width="27.4" height="49.2" fill="#5b5b5b" stroke="#000" stroke-width="1.5"/>
<line x1="348.1" y1="1042.5" x2="348.1" y2="1089.6" stroke="#000" stroke-width="1.5"/>
<line x1="344.9" y1="1042.5" x2="351.3" y2="1042.5" stroke="#000" stroke-width="1.6"/>
<line x1="344.9" y1="1089.6" x2="351.3" y2="1089.6" stroke="#000" stroke-width="1.6"/>
<line x1="383.1" y1="975.3" x2="383.1" y2="1021.7" stroke="#000" stroke-width="1.5"/>
<line x1="379.9" y1="975.3" x2="386.3" y2="975.3" stroke="#000" stroke-width="1.6"/>
<line x1="379.9" y1="1021.7" x2="386.3" y2="1021.7" stroke="#000" stroke-width="1.6"/>
<line x1="418.1" y1="984.4" x2="418.1" y2="1078.4" stroke="#000" stroke-width="1.5"/>
<line x1="414.9" y1="984.4" x2="421.2" y2="984.4" stroke="#000" stroke-width="1.6"/>
<line x1="414.9" y1="1078.4" x2="421.2" y2="1078.4" stroke="#000" stroke-width="1.6"/>
<line x1="452.8" y1="1031.8" x2="452.8" y2="1093.1" stroke="#000" stroke-width="1.5"/>
<line x1="449.6" y1="1031.8" x2="456.0" y2="1031.8" stroke="#000" stroke-width="1.6"/>
<line x1="449.6" y1="1093.1" x2="456.0" y2="1093.1" stroke="#000" stroke-width="1.6"/>
<line x1="344.6" y1="951.0" x2="379.8" y2="951.0" stroke="#000" stroke-width="2.2"/>
<line x1="380.6" y1="940.4" x2="452.3" y2="940.4" stroke="#000" stroke-width="2.2"/>
<line x1="382.0" y1="961.7" x2="417.6" y2="961.7" stroke="#000" stroke-width="2.2"/>
<line x1="554.2" y1="1115.0" x2="728.3" y2="1115.0" stroke="#222" stroke-width="1.3"/>
<rect x="568.7" y="1025.7" width="28.0" height="89.3" fill="#ffffff" stroke="#000" stroke-width="1.5"/>
<rect x="604.7" y="995.3" width="26.9" height="119.7" fill="#c0c0c0" stroke="#000" stroke-width="1.5"/>
<rect x="639.6" y="1016.5" width="27.3" height="98.5" fill="#808080" stroke="#000" stroke-width="1.5"/>
<rect x="675.1" y="1096.0" width="26.8" height="19.0" fill="#5b5b5b" stroke="#000" stroke-width="1.5"/>
<line x1="582.7" y1="988.0" x2="582.7" y2="1059.3" stroke="#000" stroke-width="1.5"/>
<line x1="579.5" y1="988.0" x2="585.9" y2="988.0" stroke="#000" stroke-width="1.6"/>
<line x1="579.5" y1="1059.3" x2="585.9" y2="1059.3" stroke="#000" stroke-width="1.6"/>
<line x1="618.1" y1="962.0" x2="618.1" y2="1025.0" stroke="#000" stroke-width="1.5"/>
<line x1="614.9" y1="962.0" x2="621.4" y2="962.0" stroke="#000" stroke-width="1.6"/>
<line x1="614.9" y1="1025.0" x2="621.4" y2="1025.0" stroke="#000" stroke-width="1.6"/>
<line x1="653.2" y1="974.7" x2="653.2" y2="1053.2" stroke="#000" stroke-width="1.5"/>
<line x1="650.0" y1="974.7" x2="656.5" y2="974.7" stroke="#000" stroke-width="1.6"/>
<line x1="650.0" y1="1053.2" x2="656.5" y2="1053.2" stroke="#000" stroke-width="1.6"/>
<line x1="688.5" y1="1075.8" x2="688.5" y2="1111.9" stroke="#000" stroke-width="1.5"/>
<line x1="685.3" y1="1075.8" x2="691.7" y2="1075.8" stroke="#000" stroke-width="1.6"/>
<line x1="685.3" y1="1111.9" x2="691.7" y2="1111.9" stroke="#000" stroke-width="1.6"/>
<line x1="628.6" y1="952.7" x2="697.8" y2="952.7" stroke="#000" stroke-width="2.2"/>
<line x1="661.0" y1="964.8" x2="697.8" y2="964.8" stroke="#000" stroke-width="2.2"/>
<line x1="736.9" y1="1115.0" x2="911.5" y2="1115.0" stroke="#222" stroke-width="1.3"/>
<rect x="762.2" y="1017.1" width="27.6" height="97.9" fill="#ffffff" stroke="#000" stroke-width="1.5"/>
<rect x="797.2" y="1021.6" width="27.3" height="93.4" fill="#c0c0c0" stroke="#000" stroke-width="1.5"/>
<rect x="832.7" y="1032.9" width="27.4" height="82.1" fill="#808080" stroke="#000" stroke-width="1.5"/>
<rect x="867.6" y="1095.0" width="27.0" height="20.0" fill="#5b5b5b" stroke="#000" stroke-width="1.5"/>
<line x1="776.0" y1="978.8" x2="776.0" y2="1050.7" stroke="#000" stroke-width="1.5"/>
<line x1="772.8" y1="978.8" x2="779.2" y2="978.8" stroke="#000" stroke-width="1.6"/>
<line x1="772.8" y1="1050.7" x2="779.2" y2="1050.7" stroke="#000" stroke-width="1.6"/>
<line x1="810.9" y1="991.5" x2="810.9" y2="1049.3" stroke="#000" stroke-width="1.5"/>
<line x1="807.6" y1="991.5" x2="814.1" y2="991.5" stroke="#000" stroke-width="1.6"/>
<line x1="807.6" y1="1049.3" x2="814.1" y2="1049.3" stroke="#000" stroke-width="1.6"/>
<line x1="846.4" y1="990.5" x2="846.4" y2="1071.7" stroke="#000" stroke-width="1.5"/>
<line x1="843.2" y1="990.5" x2="849.6" y2="990.5" stroke="#000" stroke-width="1.6"/>
<line x1="843.2" y1="1071.7" x2="849.6" y2="1071.7" stroke="#000" stroke-width="1.6"/>
<line x1="881.1" y1="1075.8" x2="881.1" y2="1110.7" stroke="#000" stroke-width="1.5"/>
<line x1="877.9" y1="1075.8" x2="884.3" y2="1075.8" stroke="#000" stroke-width="1.6"/>
<line x1="877.9" y1="1110.7" x2="884.3" y2="1110.7" stroke="#000" stroke-width="1.6"/>
<line x1="773.0" y1="963.0" x2="880.3" y2="963.0" stroke="#000" stroke-width="2.2"/>
<line x1="810.0" y1="975.3" x2="878.8" y2="975.3" stroke="#000" stroke-width="2.2"/>
<line x1="976.2" y1="1115.0" x2="1137.4" y2="1115.0" stroke="#222" stroke-width="1.3"/>
<rect x="992.7" y="972.3" width="27.3" height="142.7" fill="#ffffff" stroke="#000" stroke-width="1.5"/>
<rect x="1028.1" y="937.5" width="27.4" height="177.5" fill="#c0c0c0" stroke="#000" stroke-width="1.5"/>
<rect x="1063.1" y="1011.0" width="27.4" height="104.0" fill="#808080" stroke="#000" stroke-width="1.5"/>
<rect x="1098.6" y="906.8" width="27.3" height="208.2" fill="#5b5b5b" stroke="#000" stroke-width="1.5"/>
<line x1="1006.4" y1="922.8" x2="1006.4" y2="1019.8" stroke="#000" stroke-width="1.5"/>
<line x1="1003.1" y1="922.8" x2="1009.6" y2="922.8" stroke="#000" stroke-width="1.6"/>
<line x1="1003.1" y1="1019.8" x2="1009.6" y2="1019.8" stroke="#000" stroke-width="1.6"/>
<line x1="1041.8" y1="898.6" x2="1041.8" y2="977.8" stroke="#000" stroke-width="1.5"/>
<line x1="1038.6" y1="898.6" x2="1045.0" y2="898.6" stroke="#000" stroke-width="1.6"/>
<line x1="1038.6" y1="977.8" x2="1045.0" y2="977.8" stroke="#000" stroke-width="1.6"/>
<line x1="1076.8" y1="958.1" x2="1076.8" y2="1059.0" stroke="#000" stroke-width="1.5"/>
<line x1="1073.6" y1="958.1" x2="1080.0" y2="958.1" stroke="#000" stroke-width="1.6"/>
<line x1="1073.6" y1="1059.0" x2="1080.0" y2="1059.0" stroke="#000" stroke-width="1.6"/>
<line x1="1112.2" y1="843.6" x2="1112.2" y2="969.8" stroke="#000" stroke-width="1.5"/>
<line x1="1109.0" y1="843.6" x2="1115.5" y2="843.6" stroke="#000" stroke-width="1.6"/>
<line x1="1109.0" y1="969.8" x2="1115.5" y2="969.8" stroke="#000" stroke-width="1.6"/>
<line x1="1162.9" y1="1115.0" x2="1323.5" y2="1115.0" stroke="#222" stroke-width="1.3"/>
<rect x="1183.5" y="967.3" width="27.4" height="147.7" fill="#ffffff" stroke="#000" stroke-width="1.5"/>
<rect x="1218.0" y="945.0" width="27.9" height="170.0" fill="#c0c0c0" stroke="#000" stroke-width="1.5"/>
<rect x="1253.5" y="1013.0" width="27.6" height="102.0" fill="#808080" stroke="#000" stroke-width="1.5"/>
<rect x="1288.7" y="1049.2" width="27.4" height="65.8" fill="#5b5b5b" stroke="#000" stroke-width="1.5"/>
<line x1="1197.2" y1="919.8" x2="1197.2" y2="1011.5" stroke="#000" stroke-width="1.5"/>
<line x1="1194.0" y1="919.8" x2="1200.4" y2="919.8" stroke="#000" stroke-width="1.6"/>
<line x1="1194.0" y1="1011.5" x2="1200.4" y2="1011.5" stroke="#000" stroke-width="1.6"/>
<line x1="1231.9" y1="907.4" x2="1231.9" y2="981.8" stroke="#000" stroke-width="1.5"/>
<line x1="1228.7" y1="907.4" x2="1235.1" y2="907.4" stroke="#000" stroke-width="1.6"/>
<line x1="1228.7" y1="981.8" x2="1235.1" y2="981.8" stroke="#000" stroke-width="1.6"/>
<line x1="1267.3" y1="967.3" x2="1267.3" y2="1053.5" stroke="#000" stroke-width="1.5"/>
<line x1="1264.1" y1="967.3" x2="1270.5" y2="967.3" stroke="#000" stroke-width="1.6"/>
<line x1="1264.1" y1="1053.5" x2="1270.5" y2="1053.5" stroke="#000" stroke-width="1.6"/>
<line x1="1302.4" y1="999.0" x2="1302.4" y2="1090.5" stroke="#000" stroke-width="1.5"/>
<line x1="1299.2" y1="999.0" x2="1305.6" y2="999.0" stroke="#000" stroke-width="1.6"/>
<line x1="1299.2" y1="1090.5" x2="1305.6" y2="1090.5" stroke="#000" stroke-width="1.6"/>
<line x1="1231.6" y1="894.1" x2="1300.5" y2="894.1" stroke="#000" stroke-width="2.2"/>
<line x1="1507.0" y1="1115.0" x2="1668.8" y2="1115.0" stroke="#222" stroke-width="1.3"/>
<rect x="1524.1" y="890.3" width="27.8" height="224.7" fill="#ffffff" stroke="#000" stroke-width="1.5"/>
<rect x="1559.3" y="844.2" width="27.3" height="270.8" fill="#c0c0c0" stroke="#000" stroke-width="1.5"/>
<rect x="1594.6" y="919.8" width="27.3" height="195.2" fill="#808080" stroke="#000" stroke-width="1.5"/>
<rect x="1629.8" y="943.8" width="27.3" height="171.2" fill="#5b5b5b" stroke="#000" stroke-width="1.5"/>
<line x1="1538.0" y1="848.4" x2="1538.0" y2="931.9" stroke="#000" stroke-width="1.5"/>
<line x1="1534.8" y1="848.4" x2="1541.2" y2="848.4" stroke="#000" stroke-width="1.6"/>
<line x1="1534.8" y1="931.9" x2="1541.2" y2="931.9" stroke="#000" stroke-width="1.6"/>
<line x1="1572.9" y1="817.9" x2="1572.9" y2="871.9" stroke="#000" stroke-width="1.5"/>
<line x1="1569.7" y1="817.9" x2="1576.1" y2="817.9" stroke="#000" stroke-width="1.6"/>
<line x1="1569.7" y1="871.9" x2="1576.1" y2="871.9" stroke="#000" stroke-width="1.6"/>
<line x1="1608.2" y1="874.0" x2="1608.2" y2="964.8" stroke="#000" stroke-width="1.5"/>
<line x1="1605.0" y1="874.0" x2="1611.5" y2="874.0" stroke="#000" stroke-width="1.6"/>
<line x1="1605.0" y1="964.8" x2="1611.5" y2="964.8" stroke="#000" stroke-width="1.6"/>
<line x1="1643.4" y1="897.5" x2="1643.4" y2="989.3" stroke="#000" stroke-width="1.5"/>
<line x1="1640.2" y1="897.5" x2="1646.6" y2="897.5" stroke="#000" stroke-width="1.6"/>
<line x1="1640.2" y1="989.3" x2="1646.6" y2="989.3" stroke="#000" stroke-width="1.6"/>
<line x1="1576.1" y1="824.9" x2="1644.8" y2="824.9" stroke="#000" stroke-width="2.2"/>
<line x1="1576.6" y1="835.4" x2="1612.7" y2="835.4" stroke="#000" stroke-width="2.2"/>
<line x1="1694.1" y1="1115.0" x2="1855.3" y2="1115.0" stroke="#222" stroke-width="1.3"/>
<rect x="1709.9" y="840.2" width="27.3" height="274.8" fill="#ffffff" stroke="#000" stroke-width="1.5"/>
<rect x="1745.1" y="891.7" width="27.3" height="223.3" fill="#c0c0c0" stroke="#000" stroke-width="1.5"/>
<rect x="1780.4" y="949.6" width="26.7" height="165.4" fill="#808080" stroke="#000" stroke-width="1.5"/>
<rect x="1815.6" y="1009.1" width="26.8" height="105.9" fill="#5b5b5b" stroke="#000" stroke-width="1.5"/>
<line x1="1723.6" y1="806.9" x2="1723.6" y2="875.3" stroke="#000" stroke-width="1.5"/>
<line x1="1720.4" y1="806.9" x2="1726.8" y2="806.9" stroke="#000" stroke-width="1.6"/>
<line x1="1720.4" y1="875.3" x2="1726.8" y2="875.3" stroke="#000" stroke-width="1.6"/>
<line x1="1758.8" y1="862.2" x2="1758.8" y2="920.4" stroke="#000" stroke-width="1.5"/>
<line x1="1755.5" y1="862.2" x2="1762.0" y2="862.2" stroke="#000" stroke-width="1.6"/>
<line x1="1755.5" y1="920.4" x2="1762.0" y2="920.4" stroke="#000" stroke-width="1.6"/>
<line x1="1793.8" y1="904.0" x2="1793.8" y2="992.7" stroke="#000" stroke-width="1.5"/>
<line x1="1790.5" y1="904.0" x2="1797.0" y2="904.0" stroke="#000" stroke-width="1.6"/>
<line x1="1790.5" y1="992.7" x2="1797.0" y2="992.7" stroke="#000" stroke-width="1.6"/>
<line x1="1829.0" y1="964.8" x2="1829.0" y2="1048.8" stroke="#000" stroke-width="1.5"/>
<line x1="1825.8" y1="964.8" x2="1832.2" y2="964.8" stroke="#000" stroke-width="1.6"/>
<line x1="1825.8" y1="1048.8" x2="1832.2" y2="1048.8" stroke="#000" stroke-width="1.6"/>
<line x1="1726.2" y1="817.9" x2="1818.8" y2="817.9" stroke="#000" stroke-width="2.2"/>
<line x1="1727.5" y1="827.8" x2="1793.5" y2="827.8" stroke="#000" stroke-width="2.2"/>
<line x1="1756.2" y1="839.3" x2="1824.6" y2="839.3" stroke="#000" stroke-width="2.2"/>
<line x1="127.8" y1="1697.5" x2="291.7" y2="1697.5" stroke="#222" stroke-width="1.3"/>
<rect x="147.5" y="1355.3" width="26.8" height="342.2" fill="#ffffff" stroke="#000" stroke-width="1.5"/>
<rect x="183.0" y="1410.5" width="26.8" height="287.0" fill="#c0c0c0" stroke="#000" stroke-width="1.5"/>
<rect x="218.2" y="1498.6" width="26.8" height="198.9" fill="#808080" stroke="#000" stroke-width="1.5"/>
<rect x="253.7" y="1578.8" width="26.8" height="118.7" fill="#5b5b5b" stroke="#000" stroke-width="1.5"/>
<line x1="160.9" y1="1341.6" x2="160.9" y2="1367.9" stroke="#000" stroke-width="1.5"/>
<line x1="157.7" y1="1341.6" x2="164.1" y2="1341.6" stroke="#000" stroke-width="1.6"/>
<line x1="157.7" y1="1367.9" x2="164.1" y2="1367.9" stroke="#000" stroke-width="1.6"/>
<line x1="196.4" y1="1384.4" x2="196.4" y2="1437.7" stroke="#000" stroke-width="1.5"/>
<line x1="193.2" y1="1384.4" x2="199.6" y2="1384.4" stroke="#000" stroke-width="1.6"/>
<line x1="193.2" y1="1437.7" x2="199.6" y2="1437.7" stroke="#000" stroke-width="1.6"/>
<line x1="231.6" y1="1451.0" x2="231.6" y2="1546.1" stroke="#000" stroke-width="1.5"/>
<line x1="228.4" y1="1451.0" x2="234.8" y2="1451.0" stroke="#000" stroke-width="1.6"/>
<line x1="228.4" y1="1546.1" x2="234.8" y2="1546.1" stroke="#000" stroke-width="1.6"/>
<line x1="267.1" y1="1532.8" x2="267.1" y2="1622.5" stroke="#000" stroke-width="1.5"/>
<line x1="263.9" y1="1532.8" x2="270.3" y2="1532.8" stroke="#000" stroke-width="1.6"/>
<line x1="263.9" y1="1622.5" x2="270.3" y2="1622.5" stroke="#000" stroke-width="1.6"/>
<line x1="162.7" y1="1325.8" x2="265.7" y2="1325.8" stroke="#000" stroke-width="2.2"/>
<line x1="162.7" y1="1337.2" x2="232.0" y2="1337.2" stroke="#000" stroke-width="2.2"/>
<line x1="195.0" y1="1349.5" x2="264.1" y2="1349.5" stroke="#000" stroke-width="2.2"/>
<line x1="196.0" y1="1363.2" x2="232.0" y2="1363.2" stroke="#000" stroke-width="2.2"/>
<line x1="313.3" y1="1697.5" x2="473.0" y2="1697.5" stroke="#222" stroke-width="1.3"/>
<rect x="331.4" y="1543.3" width="27.1" height="154.2" fill="#ffffff" stroke="#000" stroke-width="1.5"/>
<rect x="366.9" y="1600.7" width="26.5" height="96.8" fill="#c0c0c0" stroke="#000" stroke-width="1.5"/>
<rect x="402.4" y="1661.3" width="26.8" height="36.2" fill="#808080" stroke="#000" stroke-width="1.5"/>
<rect x="438.2" y="1602.6" width="26.5" height="94.9" fill="#5b5b5b" stroke="#000" stroke-width="1.5"/>
<line x1="344.9" y1="1498.5" x2="344.9" y2="1582.6" stroke="#000" stroke-width="1.5"/>
<line x1="341.8" y1="1498.5" x2="348.1" y2="1498.5" stroke="#000" stroke-width="1.6"/>
<line x1="341.8" y1="1582.6" x2="348.1" y2="1582.6" stroke="#000" stroke-width="1.6"/>
<line x1="380.1" y1="1568.6" x2="380.1" y2="1629.5" stroke="#000" stroke-width="1.5"/>
<line x1="376.9" y1="1568.6" x2="383.3" y2="1568.6" stroke="#000" stroke-width="1.6"/>
<line x1="376.9" y1="1629.5" x2="383.3" y2="1629.5" stroke="#000" stroke-width="1.6"/>
<line x1="415.8" y1="1631.7" x2="415.8" y2="1684.3" stroke="#000" stroke-width="1.5"/>
<line x1="412.6" y1="1631.7" x2="419.0" y2="1631.7" stroke="#000" stroke-width="1.6"/>
<line x1="412.6" y1="1684.3" x2="419.0" y2="1684.3" stroke="#000" stroke-width="1.6"/>
<line x1="451.4" y1="1555.6" x2="451.4" y2="1644.7" stroke="#000" stroke-width="1.5"/>
<line x1="448.2" y1="1555.6" x2="454.6" y2="1555.6" stroke="#000" stroke-width="1.6"/>
<line x1="448.2" y1="1644.7" x2="454.6" y2="1644.7" stroke="#000" stroke-width="1.6"/>
<line x1="343.4" y1="1484.6" x2="409.6" y2="1484.6" stroke="#000" stroke-width="2.2"/>
<line x1="562.7" y1="1697.5" x2="721.9" y2="1697.5" stroke="#222" stroke-width="1.3"/>
<rect x="582.9" y="1489.6" width="27.4" height="207.9" fill="#ffffff" stroke="#000" stroke-width="1.5"/>
<rect x="618.3" y="1522.7" width="27.2" height="174.8" fill="#c0c0c0" stroke="#000" stroke-width="1.5"/>
<rect x="653.8" y="1574.7" width="27.7" height="122.8" fill="#808080" stroke="#000" stroke-width="1.5"/>
<rect x="688.9" y="1615.2" width="27.8" height="82.3" fill="#5b5b5b" stroke="#000" stroke-width="1.5"/>
<line x1="596.6" y1="1446.3" x2="596.6" y2="1532.8" stroke="#000" stroke-width="1.5"/>
<line x1="593.4" y1="1446.3" x2="599.8" y2="1446.3" stroke="#000" stroke-width="1.6"/>
<line x1="593.4" y1="1532.8" x2="599.8" y2="1532.8" stroke="#000" stroke-width="1.6"/>
<line x1="631.9" y1="1482.3" x2="631.9" y2="1561.3" stroke="#000" stroke-width="1.5"/>
<line x1="628.7" y1="1482.3" x2="635.1" y2="1482.3" stroke="#000" stroke-width="1.6"/>
<line x1="628.7" y1="1561.3" x2="635.1" y2="1561.3" stroke="#000" stroke-width="1.6"/>
<line x1="667.7" y1="1523.8" x2="667.7" y2="1622.6" stroke="#000" stroke-width="1.5"/>
<line x1="664.5" y1="1523.8" x2="670.9" y2="1523.8" stroke="#000" stroke-width="1.6"/>
<line x1="664.5" y1="1622.6" x2="670.9" y2="1622.6" stroke="#000" stroke-width="1.6"/>
<line x1="702.8" y1="1566.4" x2="702.8" y2="1657.2" stroke="#000" stroke-width="1.5"/>
<line x1="699.6" y1="1566.4" x2="706.0" y2="1566.4" stroke="#000" stroke-width="1.6"/>
<line x1="699.6" y1="1657.2" x2="706.0" y2="1657.2" stroke="#000" stroke-width="1.6"/>
<line x1="595.7" y1="1433.3" x2="698.8" y2="1433.3" stroke="#000" stroke-width="2.2"/>
<line x1="629.7" y1="1443.9" x2="698.8" y2="1443.9" stroke="#000" stroke-width="2.2"/>
<line x1="740.2" y1="1697.5" x2="901.5" y2="1697.5" stroke="#222" stroke-width="1.3"/>
<rect x="758.9" y="1373.4" width="26.9" height="324.1" fill="#ffffff" stroke="#000" stroke-width="1.5"/>
<rect x="794.1" y="1412.4" width="27.1" height="285.1" fill="#c0c0c0" stroke="#000" stroke-width="1.5"/>
<rect x="829.5" y="1480.0" width="27.2" height="217.5" fill="#808080" stroke="#000" stroke-width="1.5"/>
<rect x="864.7" y="1576.1" width="27.1" height="121.4" fill="#5b5b5b" stroke="#000" stroke-width="1.5"/>
<line x1="772.4" y1="1353.7" x2="772.4" y2="1397.6" stroke="#000" stroke-width="1.5"/>
<line x1="769.1" y1="1353.7" x2="775.6" y2="1353.7" stroke="#000" stroke-width="1.6"/>
<line x1="769.1" y1="1397.6" x2="775.6" y2="1397.6" stroke="#000" stroke-width="1.6"/>
<line x1="807.6" y1="1385.3" x2="807.6" y2="1441.8" stroke="#000" stroke-width="1.5"/>
<line x1="804.4" y1="1385.3" x2="810.9" y2="1385.3" stroke="#000" stroke-width="1.6"/>
<line x1="804.4" y1="1441.8" x2="810.9" y2="1441.8" stroke="#000" stroke-width="1.6"/>
<line x1="843.1" y1="1419.8" x2="843.1" y2="1541.8" stroke="#000" stroke-width="1.5"/>
<line x1="839.9" y1="1419.8" x2="846.3" y2="1419.8" stroke="#000" stroke-width="1.6"/>
<line x1="839.9" y1="1541.8" x2="846.3" y2="1541.8" stroke="#000" stroke-width="1.6"/>
<line x1="878.2" y1="1522.9" x2="878.2" y2="1625.0" stroke="#000" stroke-width="1.5"/>
<line x1="875.0" y1="1522.9" x2="881.5" y2="1522.9" stroke="#000" stroke-width="1.6"/>
<line x1="875.0" y1="1625.0" x2="881.5" y2="1625.0" stroke="#000" stroke-width="1.6"/>
<line x1="771.8" y1="1326.1" x2="874.5" y2="1326.1" stroke="#000" stroke-width="2.2"/>
<line x1="771.8" y1="1337.5" x2="840.9" y2="1337.5" stroke="#000" stroke-width="2.2"/>
<line x1="804.8" y1="1349.2" x2="873.9" y2="1349.2" stroke="#000" stroke-width="2.2"/>
<line x1="837.0" y1="1362.7" x2="874.5" y2="1362.7" stroke="#000" stroke-width="2.2"/>
<line x1="973.9" y1="1697.5" x2="1137.7" y2="1697.5" stroke="#222" stroke-width="1.3"/>
<rect x="991.3" y="1440.7" width="27.0" height="256.8" fill="#ffffff" stroke="#000" stroke-width="1.5"/>
<rect x="1026.2" y="1416.8" width="27.6" height="280.7" fill="#c0c0c0" stroke="#000" stroke-width="1.5"/>
<rect x="1061.7" y="1420.1" width="27.0" height="277.4" fill="#808080" stroke="#000" stroke-width="1.5"/>
<rect x="1097.2" y="1459.4" width="26.9" height="238.1" fill="#5b5b5b" stroke="#000" stroke-width="1.5"/>
<line x1="1004.8" y1="1402.9" x2="1004.8" y2="1481.3" stroke="#000" stroke-width="1.5"/>
<line x1="1001.6" y1="1402.9" x2="1008.0" y2="1402.9" stroke="#000" stroke-width="1.6"/>
<line x1="1001.6" y1="1481.3" x2="1008.0" y2="1481.3" stroke="#000" stroke-width="1.6"/>
<line x1="1040.0" y1="1390.0" x2="1040.0" y2="1444.2" stroke="#000" stroke-width="1.5"/>
<line x1="1036.8" y1="1390.0" x2="1043.2" y2="1390.0" stroke="#000" stroke-width="1.6"/>
<line x1="1036.8" y1="1444.2" x2="1043.2" y2="1444.2" stroke="#000" stroke-width="1.6"/>
<line x1="1075.2" y1="1373.9" x2="1075.2" y2="1472.3" stroke="#000" stroke-width="1.5"/>
<line x1="1072.0" y1="1373.9" x2="1078.4" y2="1373.9" stroke="#000" stroke-width="1.6"/>
<line x1="1072.0" y1="1472.3" x2="1078.4" y2="1472.3" stroke="#000" stroke-width="1.6"/>
<line x1="1110.7" y1="1407.7" x2="1110.7" y2="1511.9" stroke="#000" stroke-width="1.5"/>
<line x1="1107.5" y1="1407.7" x2="1113.9" y2="1407.7" stroke="#000" stroke-width="1.6"/>
<line x1="1107.5" y1="1511.9" x2="1113.9" y2="1511.9" stroke="#000" stroke-width="1.6"/>
<line x1="1161.0" y1="1697.5" x2="1325.5" y2="1697.5" stroke="#222" stroke-width="1.3"/>
<rect x="1181.0" y="1473.0" width="26.7" height="224.5" fill="#ffffff" stroke="#000" stroke-width="1.5"/>
<rect x="1215.9" y="1437.8" width="27.3" height="259.7" fill="#c0c0c0" stroke="#000" stroke-width="1.5"/>
<rect x="1251.3" y="1493.9" width="27.4" height="203.6" fill="#808080" stroke="#000" stroke-width="1.5"/>
<rect x="1286.8" y="1565.9" width="26.7" height="131.6" fill="#5b5b5b" stroke="#000" stroke-width="1.5"/>
<line x1="1194.3" y1="1421.6" x2="1194.3" y2="1526.5" stroke="#000" stroke-width="1.5"/>
<line x1="1191.1" y1="1421.6" x2="1197.5" y2="1421.6" stroke="#000" stroke-width="1.6"/>
<line x1="1191.1" y1="1526.5" x2="1197.5" y2="1526.5" stroke="#000" stroke-width="1.6"/>
<line x1="1229.6" y1="1405.5" x2="1229.6" y2="1472.6" stroke="#000" stroke-width="1.5"/>
<line x1="1226.4" y1="1405.5" x2="1232.8" y2="1405.5" stroke="#000" stroke-width="1.6"/>
<line x1="1226.4" y1="1472.6" x2="1232.8" y2="1472.6" stroke="#000" stroke-width="1.6"/>
<line x1="1265.0" y1="1439.4" x2="1265.0" y2="1549.0" stroke="#000" stroke-width="1.5"/>
<line x1="1261.8" y1="1439.4" x2="1268.2" y2="1439.4" stroke="#000" stroke-width="1.6"/>
<line x1="1261.8" y1="1549.0" x2="1268.2" y2="1549.0" stroke="#000" stroke-width="1.6"/>
<line x1="1300.2" y1="1499.0" x2="1300.2" y2="1625.8" stroke="#000" stroke-width="1.5"/>
<line x1="1297.0" y1="1499.0" x2="1303.4" y2="1499.0" stroke="#000" stroke-width="1.6"/>
<line x1="1297.0" y1="1625.8" x2="1303.4" y2="1625.8" stroke="#000" stroke-width="1.6"/>
<line x1="1229.4" y1="1389.0" x2="1298.1" y2="1389.0" stroke="#000" stroke-width="2.2"/>
<line x1="1506.5" y1="1697.5" x2="1670.3" y2="1697.5" stroke="#222" stroke-width="1.3"/>
<rect x="1530.4" y="1483.9" width="27.1" height="213.6" fill="#ffffff" stroke="#000" stroke-width="1.5"/>
<rect x="1565.8" y="1421.4" width="27.1" height="276.1" fill="#c0c0c0" stroke="#000" stroke-width="1.5"/>
<rect x="1601.3" y="1447.6" width="27.1" height="249.9" fill="#808080" stroke="#000" stroke-width="1.5"/>
<rect x="1637.0" y="1438.9" width="26.5" height="258.6" fill="#5b5b5b" stroke="#000" stroke-width="1.5"/>
<line x1="1544.0" y1="1441.8" x2="1544.0" y2="1527.4" stroke="#000" stroke-width="1.5"/>
<line x1="1540.8" y1="1441.8" x2="1547.2" y2="1441.8" stroke="#000" stroke-width="1.6"/>
<line x1="1540.8" y1="1527.4" x2="1547.2" y2="1527.4" stroke="#000" stroke-width="1.6"/>
<line x1="1579.3" y1="1391.6" x2="1579.3" y2="1449.9" stroke="#000" stroke-width="1.5"/>
<line x1="1576.1" y1="1391.6" x2="1582.5" y2="1391.6" stroke="#000" stroke-width="1.6"/>
<line x1="1576.1" y1="1449.9" x2="1582.5" y2="1449.9" stroke="#000" stroke-width="1.6"/>
<line x1="1614.8" y1="1400.6" x2="1614.8" y2="1495.8" stroke="#000" stroke-width="1.5"/>
<line x1="1611.6" y1="1400.6" x2="1618.0" y2="1400.6" stroke="#000" stroke-width="1.6"/>
<line x1="1611.6" y1="1495.8" x2="1618.0" y2="1495.8" stroke="#000" stroke-width="1.6"/>
<line x1="1650.2" y1="1395.8" x2="1650.2" y2="1483.2" stroke="#000" stroke-width="1.5"/>
<line x1="1647.0" y1="1395.8" x2="1653.5" y2="1395.8" stroke="#000" stroke-width="1.6"/>
<line x1="1647.0" y1="1483.2" x2="1653.5" y2="1483.2" stroke="#000" stroke-width="1.6"/>
<line x1="1693.7" y1="1697.5" x2="1857.4" y2="1697.5" stroke="#222" stroke-width="1.3"/>
<rect x="1719.0" y="1414.5" width="26.6" height="283.0" fill="#ffffff" stroke="#000" stroke-width="1.5"/>
<rect x="1754.2" y="1453.9" width="26.5" height="243.6" fill="#c0c0c0" stroke="#000" stroke-width="1.5"/>
<rect x="1789.7" y="1431.9" width="26.5" height="265.6" fill="#808080" stroke="#000" stroke-width="1.5"/>
<rect x="1825.1" y="1431.0" width="26.8" height="266.5" fill="#5b5b5b" stroke="#000" stroke-width="1.5"/>
<line x1="1732.3" y1="1384.7" x2="1732.3" y2="1446.3" stroke="#000" stroke-width="1.5"/>
<line x1="1729.1" y1="1384.7" x2="1735.5" y2="1384.7" stroke="#000" stroke-width="1.6"/>
<line x1="1729.1" y1="1446.3" x2="1735.5" y2="1446.3" stroke="#000" stroke-width="1.6"/>
<line x1="1767.5" y1="1425.2" x2="1767.5" y2="1482.3" stroke="#000" stroke-width="1.5"/>
<line x1="1764.2" y1="1425.2" x2="1770.7" y2="1425.2" stroke="#000" stroke-width="1.6"/>
<line x1="1764.2" y1="1482.3" x2="1770.7" y2="1482.3" stroke="#000" stroke-width="1.6"/>
<line x1="1803.0" y1="1391.6" x2="1803.0" y2="1473.3" stroke="#000" stroke-width="1.5"/>
<line x1="1799.8" y1="1391.6" x2="1806.2" y2="1391.6" stroke="#000" stroke-width="1.6"/>
<line x1="1799.8" y1="1473.3" x2="1806.2" y2="1473.3" stroke="#000" stroke-width="1.6"/>
<line x1="1838.5" y1="1383.8" x2="1838.5" y2="1483.8" stroke="#000" stroke-width="1.5"/>
<line x1="1835.3" y1="1383.8" x2="1841.7" y2="1383.8" stroke="#000" stroke-width="1.6"/>
<line x1="1835.3" y1="1483.8" x2="1841.7" y2="1483.8" stroke="#000" stroke-width="1.6"/>
<text x="32.5" y="704.9" font-size="33" text-anchor="start" font-weight="bold">B</text>
<text x="31.7" y="1286.0" font-size="34.5" text-anchor="start" font-weight="bold">C</text>
<text x="941.7" y="738.7" font-size="40" text-anchor="middle" font-style="italic">ShR</text>
<text x="951.4" y="1267.8" font-size="39" text-anchor="middle" font-style="italic">StR</text>
<text x="217.2" y="808.2" font-size="35" text-anchor="middle">RF</text>
<text x="387.8" y="808.2" font-size="35" text-anchor="middle">BF</text>
<text x="639.4" y="808.2" font-size="35" text-anchor="middle">BF</text>
<text x="814.0" y="808.2" font-size="35" text-anchor="middle">RF</text>
<text x="1061.8" y="808.2" font-size="35" text-anchor="middle">TA</text>
<text x="1240.7" y="808.2" font-size="35" text-anchor="middle">GL</text>
<text x="1596.6" y="808.2" font-size="35" text-anchor="middle">BB</text>
<text x="1772.9" y="808.2" font-size="35" text-anchor="middle">TB</text>
<text x="218.3" y="1309.5" font-size="35" text-anchor="middle">BF</text>
<text x="393.8" y="1309.5" font-size="35" text-anchor="middle">RF</text>
<text x="640.9" y="1309.5" font-size="35" text-anchor="middle">RF</text>
<text x="826.2" y="1309.5" font-size="35" text-anchor="middle">BF</text>
<text x="1067.4" y="1309.5" font-size="35" text-anchor="middle">GL</text>
<text x="1231.5" y="1309.5" font-size="35" text-anchor="middle">TA</text>
<text x="1592.5" y="1309.5" font-size="35" text-anchor="middle">TB</text>
<text x="1775.9" y="1309.5" font-size="35" text-anchor="middle">BB</text>
<text x="219.3" y="1742.0" font-size="31" text-anchor="middle">flex</text>
<text x="387.3" y="1742.0" font-size="31" text-anchor="middle">ext</text>
<text x="641.5" y="1742.0" font-size="31" text-anchor="middle">flex</text>
<text x="807.7" y="1742.0" font-size="31" text-anchor="middle">ext</text>
<text x="1063.4" y="1742.0" font-size="31" text-anchor="middle">flex</text>
<text x="1229.9" y="1742.0" font-size="31" text-anchor="middle">ext</text>
<text x="1596.8" y="1742.0" font-size="31" text-anchor="middle">flex</text>
<text x="1764.9" y="1742.0" font-size="31" text-anchor="middle">ext</text>
<text x="303.6" y="1788.0" font-size="35" text-anchor="middle" font-style="italic">hip</text>
<text x="730.0" y="1788.0" font-size="35" text-anchor="middle" font-style="italic">knee</text>
<text x="1162.0" y="1788.0" font-size="35" text-anchor="middle" font-style="italic">ankle</text>
<text x="1699.5" y="1788.0" font-size="35" text-anchor="middle" font-style="italic">elbow</text>
<text x="120.3" y="1126.3" font-size="31.5" text-anchor="end">0</text>
<text x="120.3" y="1708.8" font-size="31.5" text-anchor="end">0</text>
<text x="120.3" y="1053.2" font-size="31.5" text-anchor="end">20</text>
<text x="120.3" y="1637.6" font-size="31.5" text-anchor="end">20</text>
<text x="120.3" y="980.0" font-size="31.5" text-anchor="end">40</text>
<text x="120.3" y="1566.4" font-size="31.5" text-anchor="end">40</text>
<text x="120.3" y="906.9" font-size="31.5" text-anchor="end">60</text>
<text x="120.3" y="1495.3" font-size="31.5" text-anchor="end">60</text>
<text x="120.3" y="833.7" font-size="31.5" text-anchor="end">80</text>
<text x="120.3" y="1424.1" font-size="31.5" text-anchor="end">80</text>
<text x="120.3" y="760.6" font-size="31.5" text-anchor="end">100</text>
<text x="120.3" y="1352.9" font-size="31.5" text-anchor="end">100</text>
<text transform="translate(21.5 920.5) rotate(-90)" font-size="30.5" text-anchor="middle">occurrence</text>
<text transform="translate(58.5 920.5) rotate(-90)" font-size="31.2" text-anchor="middle">[% of movements]</text>
<text transform="translate(21.5 1530.4) rotate(-90)" font-size="30.5" text-anchor="middle">occurrence</text>
<text transform="translate(58.5 1530.4) rotate(-90)" font-size="31.2" text-anchor="middle">[% of movements]</text>
<text x="1874.0" y="699.7" font-size="31.4" text-anchor="start">age, mo</text>
<rect x="1880.5" y="722.9" width="22.6" height="23.1" fill="#ffffff" stroke="#000" stroke-width="1.9"/>
<text x="1916.3" y="745.1" font-size="30.8" text-anchor="start">0.5-3</text>
<rect x="1880.5" y="761.6" width="22.6" height="23.0" fill="#c0c0c0" stroke="#000" stroke-width="1.9"/>
<text x="1916.3" y="783.8" font-size="30.8" text-anchor="start">3-6</text>
<rect x="1880.5" y="799.9" width="22.6" height="23.1" fill="#808080" stroke="#000" stroke-width="1.9"/>
<text x="1916.3" y="822.1" font-size="30.8" text-anchor="start">6-9</text>
<rect x="1880.5" y="838.3" width="22.6" height="23.1" fill="#5b5b5b" stroke="#000" stroke-width="1.9"/>
<text x="1916.3" y="860.5" font-size="30.8" text-anchor="start">9-12</text>
</svg>
</body></html>
